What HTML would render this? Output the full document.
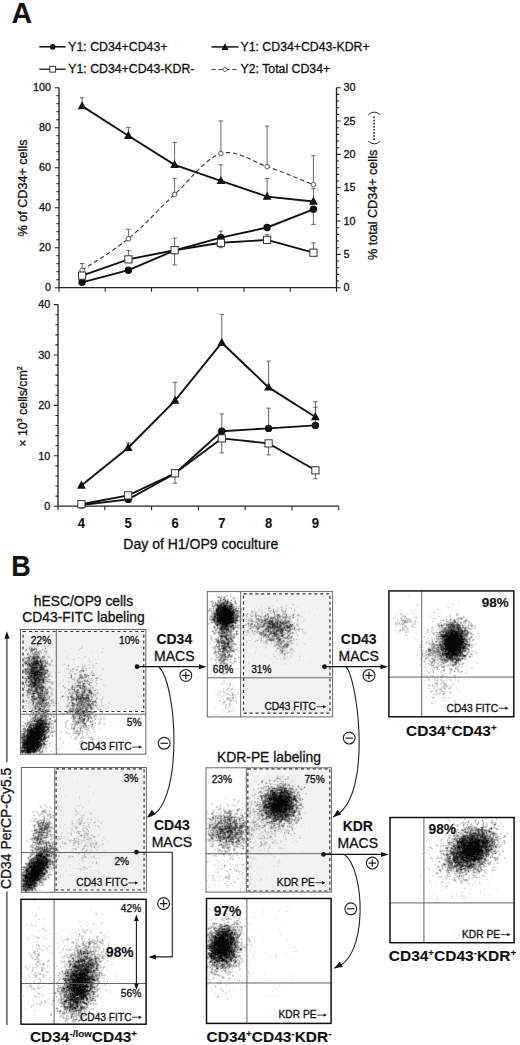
<!DOCTYPE html>
<html><head><meta charset="utf-8"><title>figure</title><style>
html,body{margin:0;padding:0;background:#fff;}
body{width:520px;height:1045px;overflow:hidden;}
svg{display:block;font-family:"Liberation Sans",sans-serif;}
text{stroke:#111;stroke-width:0.3px;}
text[font-weight="bold"]{stroke-width:0.1px;}
</style></head><body>
<svg width="520" height="1045" viewBox="0 0 520 1045">
<rect width="520" height="1045" fill="#fff"/>
<text transform="translate(11.4,22.8) scale(0.965,1)" font-size="29.50" font-weight="bold" fill="#111">A</text>
<line x1="39.30" y1="46.80" x2="65.60" y2="46.80" stroke="#111" stroke-width="1.50"/>
<circle cx="52.7" cy="46.8" r="2.9" fill="#111"/>
<text x="68.3" y="51.0" font-size="12.30" fill="#111">Y1: CD34+CD43+</text>
<line x1="39.30" y1="69.20" x2="65.60" y2="69.20" stroke="#111" stroke-width="1.30"/>
<rect x="49.8" y="66.3" width="5.8" height="5.8" fill="#fff" stroke="#333" stroke-width="1"/>
<text x="68.3" y="73.3" font-size="12.30" fill="#111">Y1: CD34+CD43-KDR-</text>
<line x1="211.50" y1="46.90" x2="238.50" y2="46.90" stroke="#111" stroke-width="1.50"/>
<path d="M225.0 43.3l3.6 6.6h-7.2z" fill="#111"/>
<text x="240.5" y="51.0" font-size="12.30" fill="#111">Y1: CD34+CD43-KDR+</text>
<line x1="211.50" y1="69.50" x2="238.50" y2="69.50" stroke="#444" stroke-width="1.10" stroke-dasharray="4.3,2.6"/>
<circle cx="225.0" cy="69.5" r="2" fill="#fff" stroke="#444" stroke-width="0.8"/>
<text x="240.5" y="73.3" font-size="12.30" fill="#111">Y2: Total CD34+</text>
<g stroke="#222" stroke-width="1.3" fill="none">
<path d="M59.0 87.7V287.7H336.5V87.7"/>
</g>
<path d="M54.8 287.70h4.2M56.4 279.70h2.6M56.4 271.70h2.6M56.4 263.70h2.6M56.4 255.70h2.6M54.8 247.70h4.2M56.4 239.70h2.6M56.4 231.70h2.6M56.4 223.70h2.6M56.4 215.70h2.6M54.8 207.70h4.2M56.4 199.70h2.6M56.4 191.70h2.6M56.4 183.70h2.6M56.4 175.70h2.6M54.8 167.70h4.2M56.4 159.70h2.6M56.4 151.70h2.6M56.4 143.70h2.6M56.4 135.70h2.6M54.8 127.70h4.2M56.4 119.70h2.6M56.4 111.70h2.6M56.4 103.70h2.6M56.4 95.70h2.6M54.8 87.70h4.2M336.5 287.70h4.2M336.5 281.03h2.6M336.5 274.37h2.6M336.5 267.70h2.6M336.5 261.03h2.6M336.5 254.37h4.2M336.5 247.70h2.6M336.5 241.03h2.6M336.5 234.37h2.6M336.5 227.70h2.6M336.5 221.03h4.2M336.5 214.37h2.6M336.5 207.70h2.6M336.5 201.03h2.6M336.5 194.37h2.6M336.5 187.70h4.2M336.5 181.03h2.6M336.5 174.37h2.6M336.5 167.70h2.6M336.5 161.03h2.6M336.5 154.37h4.2M336.5 147.70h2.6M336.5 141.03h2.6M336.5 134.37h2.6M336.5 127.70h2.6M336.5 121.03h4.2M336.5 114.37h2.6M336.5 107.70h2.6M336.5 101.03h2.6M336.5 94.37h2.6M336.5 87.70h4.2M59.00 287.7v4M105.25 287.7v4M151.50 287.7v4M197.75 287.7v4M244.00 287.7v4M290.25 287.7v4M336.50 287.7v4" stroke="#222" stroke-width="1.1" fill="none"/>
<text x="51.0" y="291.4" font-size="10.80" text-anchor="end" fill="#111">0</text>
<text x="51.0" y="251.4" font-size="10.80" text-anchor="end" fill="#111">20</text>
<text x="51.0" y="211.4" font-size="10.80" text-anchor="end" fill="#111">40</text>
<text x="51.0" y="171.4" font-size="10.80" text-anchor="end" fill="#111">60</text>
<text x="51.0" y="131.4" font-size="10.80" text-anchor="end" fill="#111">80</text>
<text x="51.0" y="91.4" font-size="10.80" text-anchor="end" fill="#111">100</text>
<text x="343.4" y="291.4" font-size="10.80" fill="#111">0</text>
<text x="343.4" y="258.1" font-size="10.80" fill="#111">5</text>
<text x="343.4" y="224.7" font-size="10.80" fill="#111">10</text>
<text x="343.4" y="191.4" font-size="10.80" fill="#111">15</text>
<text x="343.4" y="158.1" font-size="10.80" fill="#111">20</text>
<text x="343.4" y="124.7" font-size="10.80" fill="#111">25</text>
<text x="343.4" y="91.4" font-size="10.80" fill="#111">30</text>
<text transform="translate(26.8,188) rotate(-90)" font-size="12.6" text-anchor="middle" fill="#111">% of CD34+ cells</text>
<text transform="translate(377.4,260) rotate(-90)" font-size="12.6" fill="#111">% total CD34+ cells</text>
<path d="M368.3 141.2Q374.3 146.6 380.3 141.2M368.3 114.8Q374.3 109.4 380.3 114.8" stroke="#222" stroke-width="1" fill="none"/>
<line x1="374.10" y1="116.60" x2="374.10" y2="140.60" stroke="#222" stroke-width="1.60" stroke-dasharray="1.6,1.5"/>
<path d="M82.1 270.2V263.5M79.9 263.5h4.4" stroke="#666" stroke-width="1" fill="none"/>
<path d="M82.1 106.1V97.8M79.9 97.8h4.4" stroke="#666" stroke-width="1" fill="none"/>
<path d="M128.4 238.7V229.3M126.2 229.3h4.4" stroke="#666" stroke-width="1" fill="none"/>
<path d="M128.4 135.7V127.4M126.2 127.4h4.4" stroke="#666" stroke-width="1" fill="none"/>
<path d="M128.4 259.4V250.5M126.2 250.5h4.4" stroke="#666" stroke-width="1" fill="none"/>
<path d="M174.6 194.4V178.3M172.4 178.3h4.4" stroke="#666" stroke-width="1" fill="none"/>
<path d="M174.6 164.8V142.5M172.4 142.5h4.4" stroke="#666" stroke-width="1" fill="none"/>
<path d="M174.6 250.2V238.2M172.4 238.2h4.4" stroke="#666" stroke-width="1" fill="none"/>
<path d="M174.6 250.2V264.9M172.4 264.9h4.4" stroke="#666" stroke-width="1" fill="none"/>
<path d="M220.9 153.6V121.0M218.7 121.0h4.4" stroke="#666" stroke-width="1" fill="none"/>
<path d="M220.9 180.8V164.9M218.7 164.9h4.4" stroke="#666" stroke-width="1" fill="none"/>
<path d="M220.9 237.6V231.1M218.7 231.1h4.4" stroke="#666" stroke-width="1" fill="none"/>
<path d="M220.9 242.8V247.7M218.7 247.7h4.4" stroke="#666" stroke-width="1" fill="none"/>
<path d="M267.1 166.6V126.0M264.9 126.0h4.4" stroke="#666" stroke-width="1" fill="none"/>
<path d="M267.1 196.6V178.5M264.9 178.5h4.4" stroke="#666" stroke-width="1" fill="none"/>
<path d="M267.1 239.9V234.7M264.9 234.7h4.4" stroke="#666" stroke-width="1" fill="none"/>
<path d="M313.4 184.7V155.7M311.2 155.7h4.4" stroke="#666" stroke-width="1" fill="none"/>
<path d="M313.4 201.5V188.7M311.2 188.7h4.4" stroke="#666" stroke-width="1" fill="none"/>
<path d="M313.4 209.3V224.4M311.2 224.4h4.4" stroke="#666" stroke-width="1" fill="none"/>
<path d="M313.4 252.7V242.9M311.2 242.9h4.4" stroke="#666" stroke-width="1" fill="none"/>
<path d="M82.1 270.2C89.8 264.9 113.0 251.3 128.4 238.7C143.8 226.1 159.2 208.6 174.6 194.4C190.0 180.2 205.5 158.2 220.9 153.6C236.3 149.0 251.7 161.4 267.1 166.6C282.5 171.8 305.7 181.7 313.4 184.7" fill="none" stroke="#3a3a3a" stroke-width="1.15" stroke-dasharray="4.4,2.8"/>
<path d="M82.1 106.1L128.4 135.7L174.6 164.8L220.9 180.8L267.1 196.6L313.4 201.5" fill="none" stroke="#111" stroke-width="1.90"/>
<path d="M82.1 282.3L128.4 270.2L174.6 250.5L220.9 237.6L267.1 227.5L313.4 209.3" fill="none" stroke="#111" stroke-width="1.90"/>
<path d="M82.1 275.6L128.4 259.4L174.6 250.2L220.9 242.8L267.1 239.9L313.4 252.7" fill="none" stroke="#111" stroke-width="1.90"/>
<circle cx="82.1" cy="270.2" r="2.3" fill="#fff" stroke="#444" stroke-width="0.9"/>
<circle cx="128.4" cy="238.7" r="2.3" fill="#fff" stroke="#444" stroke-width="0.9"/>
<circle cx="174.6" cy="194.4" r="2.3" fill="#fff" stroke="#444" stroke-width="0.9"/>
<circle cx="220.9" cy="153.6" r="2.3" fill="#fff" stroke="#444" stroke-width="0.9"/>
<circle cx="267.1" cy="166.6" r="2.3" fill="#fff" stroke="#444" stroke-width="0.9"/>
<circle cx="313.4" cy="184.7" r="2.3" fill="#fff" stroke="#444" stroke-width="0.9"/>
<circle cx="82.1" cy="282.3" r="3.70" fill="#111"/>
<circle cx="128.4" cy="270.2" r="3.70" fill="#111"/>
<circle cx="174.6" cy="250.5" r="3.70" fill="#111"/>
<circle cx="220.9" cy="237.6" r="3.70" fill="#111"/>
<circle cx="267.1" cy="227.5" r="3.70" fill="#111"/>
<circle cx="313.4" cy="209.3" r="3.70" fill="#111"/>
<rect x="78.5" y="272.0" width="7.2" height="7.2" fill="#fff" stroke="#333" stroke-width="1"/>
<rect x="124.8" y="255.8" width="7.2" height="7.2" fill="#fff" stroke="#333" stroke-width="1"/>
<rect x="171.0" y="246.6" width="7.2" height="7.2" fill="#fff" stroke="#333" stroke-width="1"/>
<rect x="217.3" y="239.2" width="7.2" height="7.2" fill="#fff" stroke="#333" stroke-width="1"/>
<rect x="263.5" y="236.3" width="7.2" height="7.2" fill="#fff" stroke="#333" stroke-width="1"/>
<rect x="309.8" y="249.1" width="7.2" height="7.2" fill="#fff" stroke="#333" stroke-width="1"/>
<path d="M82.1 101.2l4.4 8.1h-8.8z" fill="#111"/>
<path d="M128.4 130.8l4.4 8.1h-8.8z" fill="#111"/>
<path d="M174.6 159.9l4.4 8.1h-8.8z" fill="#111"/>
<path d="M220.9 175.9l4.4 8.1h-8.8z" fill="#111"/>
<path d="M267.1 191.7l4.4 8.1h-8.8z" fill="#111"/>
<path d="M313.4 196.6l4.4 8.1h-8.8z" fill="#111"/>
<path d="M58.0 304.6V506.2H338.8" stroke="#222" stroke-width="1.3" fill="none"/>
<path d="M53.8 506.20h4.2M55.4 496.12h2.6M55.4 486.04h2.6M55.4 475.96h2.6M55.4 465.88h2.6M53.8 455.80h4.2M55.4 445.72h2.6M55.4 435.64h2.6M55.4 425.56h2.6M55.4 415.48h2.6M53.8 405.40h4.2M55.4 395.32h2.6M55.4 385.24h2.6M55.4 375.16h2.6M55.4 365.08h2.6M53.8 355.00h4.2M55.4 344.92h2.6M55.4 334.84h2.6M55.4 324.76h2.6M55.4 314.68h2.6M53.8 304.60h4.2M58.00 506.2v4M104.80 506.2v4M151.60 506.2v4M198.40 506.2v4M245.20 506.2v4M292.00 506.2v4M338.80 506.2v4" stroke="#222" stroke-width="1.1" fill="none"/>
<text x="50.3" y="509.9" font-size="10.80" text-anchor="end" fill="#111">0</text>
<text x="50.3" y="459.5" font-size="10.80" text-anchor="end" fill="#111">10</text>
<text x="50.3" y="409.1" font-size="10.80" text-anchor="end" fill="#111">20</text>
<text x="50.3" y="358.7" font-size="10.80" text-anchor="end" fill="#111">30</text>
<text x="50.3" y="308.3" font-size="10.80" text-anchor="end" fill="#111">40</text>
<text transform="translate(81.4,527.9) scale(0.930,1)" font-size="14.00" font-weight="bold" text-anchor="middle" fill="#111">4</text>
<text transform="translate(128.2,527.9) scale(0.930,1)" font-size="14.00" font-weight="bold" text-anchor="middle" fill="#111">5</text>
<text transform="translate(175.0,527.9) scale(0.930,1)" font-size="14.00" font-weight="bold" text-anchor="middle" fill="#111">6</text>
<text transform="translate(221.8,527.9) scale(0.930,1)" font-size="14.00" font-weight="bold" text-anchor="middle" fill="#111">7</text>
<text transform="translate(268.6,527.9) scale(0.930,1)" font-size="14.00" font-weight="bold" text-anchor="middle" fill="#111">8</text>
<text transform="translate(315.4,527.9) scale(0.930,1)" font-size="14.00" font-weight="bold" text-anchor="middle" fill="#111">9</text>
<text x="200.8" y="549.2" font-size="14.00" text-anchor="middle" fill="#111">Day of H1/OP9 coculture</text>
<text transform="translate(27,406.5) rotate(-90)" font-size="12.4" text-anchor="middle" fill="#111">× 10<tspan font-size="7" dy="-5">3</tspan><tspan dy="5"> cells/cm</tspan><tspan font-size="7" dy="-5">2</tspan></text>
<path d="M128.2 447.7V442.9M126.0 442.9h4.4" stroke="#666" stroke-width="1" fill="none"/>
<path d="M175.0 400.6V382.3M172.8 382.3h4.4" stroke="#666" stroke-width="1" fill="none"/>
<path d="M175.0 473.3V483.2M172.8 483.2h4.4" stroke="#666" stroke-width="1" fill="none"/>
<path d="M221.8 342.7V314.4M219.6 314.4h4.4" stroke="#666" stroke-width="1" fill="none"/>
<path d="M221.8 431.2V413.9M219.6 413.9h4.4" stroke="#666" stroke-width="1" fill="none"/>
<path d="M221.8 438.4V452.9M219.6 452.9h4.4" stroke="#666" stroke-width="1" fill="none"/>
<path d="M268.6 387.4V361.1M266.4 361.1h4.4" stroke="#666" stroke-width="1" fill="none"/>
<path d="M268.6 428.4V408.2M266.4 408.2h4.4" stroke="#666" stroke-width="1" fill="none"/>
<path d="M268.6 443.4V454.9M266.4 454.9h4.4" stroke="#666" stroke-width="1" fill="none"/>
<path d="M315.4 417.0V401.7M313.2 401.7h4.4" stroke="#666" stroke-width="1" fill="none"/>
<path d="M315.4 425.4V407.3M313.2 407.3h4.4" stroke="#666" stroke-width="1" fill="none"/>
<path d="M315.4 470.3V478.8M313.2 478.8h4.4" stroke="#666" stroke-width="1" fill="none"/>
<path d="M81.4 485.5L128.2 447.7L175.0 400.6L221.8 342.7L268.6 387.4L315.4 417.0" fill="none" stroke="#111" stroke-width="1.90"/>
<path d="M81.4 505.0L128.2 499.4L175.0 473.5L221.8 431.2L268.6 428.4L315.4 425.4" fill="none" stroke="#111" stroke-width="1.90"/>
<path d="M81.4 504.2L128.2 495.4L175.0 473.3L221.8 438.4L268.6 443.4L315.4 470.3" fill="none" stroke="#111" stroke-width="1.90"/>
<circle cx="81.4" cy="505.0" r="3.70" fill="#111"/>
<circle cx="128.2" cy="499.4" r="3.70" fill="#111"/>
<circle cx="175.0" cy="473.5" r="3.70" fill="#111"/>
<circle cx="221.8" cy="431.2" r="3.70" fill="#111"/>
<circle cx="268.6" cy="428.4" r="3.70" fill="#111"/>
<circle cx="315.4" cy="425.4" r="3.70" fill="#111"/>
<rect x="77.8" y="500.6" width="7.2" height="7.2" fill="#fff" stroke="#333" stroke-width="1"/>
<rect x="124.6" y="491.8" width="7.2" height="7.2" fill="#fff" stroke="#333" stroke-width="1"/>
<rect x="171.4" y="469.7" width="7.2" height="7.2" fill="#fff" stroke="#333" stroke-width="1"/>
<rect x="218.2" y="434.8" width="7.2" height="7.2" fill="#fff" stroke="#333" stroke-width="1"/>
<rect x="265.0" y="439.8" width="7.2" height="7.2" fill="#fff" stroke="#333" stroke-width="1"/>
<rect x="311.8" y="466.7" width="7.2" height="7.2" fill="#fff" stroke="#333" stroke-width="1"/>
<path d="M81.4 480.6l4.4 8.1h-8.8z" fill="#111"/>
<path d="M128.2 442.8l4.4 8.1h-8.8z" fill="#111"/>
<path d="M175.0 395.7l4.4 8.1h-8.8z" fill="#111"/>
<path d="M221.8 337.8l4.4 8.1h-8.8z" fill="#111"/>
<path d="M268.6 382.5l4.4 8.1h-8.8z" fill="#111"/>
<path d="M315.4 412.1l4.4 8.1h-8.8z" fill="#111"/>
<text transform="translate(11.2,575.9) scale(0.900,1)" font-size="30.00" font-weight="bold" fill="#111">B</text>
<text x="83.5" y="605.8" font-size="13.85" text-anchor="middle" fill="#111">hESC/OP9 cells</text>
<text x="83.5" y="621.9" font-size="13.85" text-anchor="middle" fill="#111">CD43-FITC labeling</text>
<text x="269.0" y="761.5" font-size="13.85" text-anchor="middle" fill="#111">KDR-PE labeling</text>
<rect x="23.0" y="631.5" width="120.8" height="80.0" fill="#f1f1f1"/>
<path transform="translate(0,.5)" d="M0 0m32 631h2m-2 1h1m0 7h1m0 1h1m-4 1h2m6 0h1m1 0h1m1 0h1m-13 1h2m6 0h1m1 0h1m2 0h1m-9 1h2m-7 1h2m1 0h3m2 0h1m-9 1h2m1 0h3m7 0h1m-16 1h3m2 0h2m1 0h2m2 0h2m2 0h1m35 0h2m-51 1h2m1 0h2m8 0h1m35 0h2m-55 1h1m13 0h1m1 0h1m1 0h1m32 0h2m21 0h2m-79 1h1m11 0h1m5 0h2m1 0h1m31 0h2m-51 1h1m7 0h2m2 0h1m1 0h4m18 0h1m13 0h1m-55 1h1m7 0h1m7 0h1m5 0h1m17 0h1m24 0h1m10 0h2m-75 1h2m14 0h2m1 0h1m53 0h2m-81 1h1m3 0h1m2 0h3m8 0h2m1 0h4m21 0h1m8 0h2m13 0h2m-71 1h1m2 0h1m3 0h1m9 0h1m3 0h1m1 0h1m1 0h1m19 0h1m-43 1h1m4 0h2m7 0h1m1 0h2m1 0h1m2 0h1m-23 1h2m12 0h2m3 0h1m1 0h1m1 0h2m33 0h2m-63 1h1m21 0h1m1 0h1m2 0h1m6 0h1m8 0h2m10 0h2m4 0h2m-63 1h1m20 0h1m2 0h2m8 0h1m9 0h2m19 0h2m-65 1h2m18 0h3m3 0h2m21 0h1m6 0h2m5 0h2m-66 1h1m21 0h1m26 0h1m15 0h1m-67 1h1m28 0h1m37 0h1m-69 1h1m25 0h1m1 0h1m1 0h1m43 0h1m-75 1h1m27 0h2m12 0h1m16 0h1m13 0h1m2 0h2m-79 1h1m1 0h2m22 0h1m3 0h2m10 0h1m4 0h1m12 0h1m2 0h2m2 0h2m2 0h2m-47 1h2m2 0h2m2 0h2m4 0h2m4 0h1m14 0h2m1 0h1m7 0h2m-69 1h1m20 0h4m4 0h2m11 0h2m6 0h2m5 0h2m8 0h1m-69 1h2m19 0h2m20 0h1m8 0h2m3 0h1m1 0h2m3 0h2m-68 1h1m21 0h3m18 0h4m2 0h1m1 0h1m6 0h1m3 0h1m3 0h2m2 0h1m8 0h2m-82 1h1m44 0h3m1 0h1m1 0h2m5 0h2m20 0h2m-81 1h1m28 0h2m17 0h2m2 0h1m1 0h1m1 0h1m5 0h1m5 0h1m10 0h1m-81 1h1m26 0h4m1 0h1m4 0h1m11 0h1m1 0h1m10 0h1m1 0h1m4 0h2m-45 1h4m3 0h1m2 0h1m1 0h1m7 0h5m8 0h1m1 0h1m6 0h1m1 0h1m-71 1h2m24 0h1m1 0h1m4 0h1m14 0h2m1 0h1m1 0h1m3 0h3m2 0h3m3 0h1m1 0h1m1 0h1m2 0h1m-52 1h1m3 0h1m4 0h1m14 0h1m2 0h2m1 0h1m5 0h2m4 0h2m1 0h2m1 0h1m5 0h1m-75 1h1m19 0h2m2 0h2m3 0h1m16 0h1m2 0h1m2 0h1m4 0h1m7 0h1m3 0h1m5 0h1m3 0h1m-56 1h1m1 0h1m2 0h2m13 0h1m1 0h1m1 0h2m2 0h1m4 0h1m5 0h1m2 0h3m-71 1h1m23 0h1m6 0h2m10 0h3m2 0h1m1 0h2m2 0h1m8 0h1m7 0h1m1 0h2m-52 1h2m18 0h4m1 0h2m1 0h1m1 0h1m6 0h1m1 0h5m1 0h1m5 0h4m5 0h1m-84 1h1m38 0h1m7 0h1m1 0h1m1 0h2m3 0h7m1 0h1m1 0h4m2 0h1m3 0h1m1 0h1m-81 1h3m23 0h3m12 0h1m6 0h1m2 0h1m1 0h1m3 0h4m5 0h4m1 0h1m1 0h1m-75 1h1m2 0h1m25 0h2m1 0h1m9 0h1m4 0h3m5 0h1m6 0h1m6 0h2m3 0h2m-74 1h2m20 0h2m6 0h1m15 0h1m6 0h1m7 0h2m2 0h1m3 0h1m1 0h3m-73 1h1m2 0h1m19 0h1m1 0h2m2 0h1m5 0h2m13 0h1m1 0h2m3 0h1m8 0h3m4 0h1m-76 1h4m18 0h1m1 0h1m4 0h1m1 0h1m16 0h1m1 0h1m1 0h1m1 0h2m3 0h1m4 0h2m2 0h2m4 0h1m6 0h2m-82 1h1m1 0h1m18 0h1m4 0h1m12 0h1m8 0h1m3 0h1m10 0h3m3 0h1m2 0h2m6 0h2m-82 1h1m1 0h1m20 0h1m1 0h1m1 0h1m11 0h1m1 0h1m9 0h1m12 0h1m1 0h1m1 0h3m1 0h2m8 0h2m-86 1h3m1 0h4m17 0h2m3 0h1m11 0h1m6 0h1m16 0h3m1 0h1m-71 1h2m1 0h1m2 0h1m24 0h2m10 0h2m1 0h4m4 0h4m12 0h2m-71 1h1m1 0h1m1 0h1m21 0h1m2 0h1m1 0h1m13 0h1m7 0h1m3 0h2m10 0h1m1 0h5m-73 1h1m22 0h1m18 0h1m1 0h1m1 0h2m6 0h2m11 0h2m2 0h2m-74 1h2m23 0h1m1 0h2m15 0h5m6 0h2m5 0h1m5 0h4m1 0h1m-75 1h4m22 0h2m1 0h1m8 0h1m2 0h2m2 0h1m2 0h1m8 0h1m5 0h2m8 0h1m1 0h1m-76 1h2m1 0h1m23 0h1m1 0h1m11 0h2m28 0h3m1 0h1m-64 1h1m12 0h1m1 0h1m1 0h2m14 0h2m3 0h2m21 0h1m2 0h2m-73 1h3m4 0h2m12 0h5m3 0h1m5 0h1m1 0h3m5 0h2m17 0h1m1 0h1m1 0h1m-71 1h1m1 0h3m20 0h1m3 0h1m5 0h1m3 0h2m2 0h1m4 0h2m17 0h2m1 0h1m5 0h2m-74 1h1m19 0h1m4 0h3m2 0h3m3 0h1m2 0h1m20 0h1m2 0h1m1 0h1m1 0h1m4 0h2m-82 1h2m3 0h1m1 0h2m19 0h1m1 0h1m2 0h2m3 0h2m7 0h2m19 0h1m1 0h1m5 0h6m-75 1h1m20 0h2m1 0h4m12 0h1m24 0h2m1 0h1m1 0h4m-79 1h2m1 0h1m1 0h2m16 0h3m4 0h1m11 0h1m1 0h1m23 0h2m2 0h1m5 0h1m-78 1h1m1 0h2m1 0h1m16 0h1m1 0h2m2 0h1m1 0h1m11 0h1m1 0h2m2 0h1m1 0h1m25 0h1m-75 1h3m1 0h1m17 0h3m2 0h3m11 0h1m5 0h2m21 0h1m2 0h1m1 0h1m5 0h2m-83 1h1m2 0h2m18 0h1m1 0h3m1 0h1m1 0h2m7 0h1m2 0h1m23 0h2m1 0h1m3 0h1m6 0h2m-82 1h4m2 0h1m14 0h3m2 0h1m12 0h1m1 0h1m26 0h2m4 0h2m-79 1h2m2 0h3m20 0h1m13 0h1m2 0h2m26 0h1m3 0h3m1 0h1m-81 1h2m2 0h4m17 0h1m1 0h3m5 0h1m4 0h1m3 0h2m4 0h1m16 0h4m1 0h1m4 0h4m1 0h2m-81 1h2m1 0h1m14 0h1m2 0h1m9 0h2m4 0h5m1 0h1m3 0h1m17 0h3m1 0h1m9 0h2m-85 1h2m3 0h1m1 0h1m1 0h1m11 0h3m1 0h1m9 0h1m34 0h1m1 0h3m1 0h1m-77 1h2m4 0h2m26 0h2m5 0h1m2 0h1m20 0h1m7 0h1m1 0h1m1 0h1m-72 1h1m4 0h2m13 0h2m2 0h1m3 0h2m5 0h1m22 0h3m1 0h2m4 0h1m1 0h2m-76 1h1m3 0h1m2 0h3m11 0h5m3 0h2m9 0h2m26 0h2m-66 1h1m17 0h1m1 0h4m6 0h2m9 0h1m23 0h1m5 0h1m-71 1h1m2 0h1m14 0h1m1 0h4m5 0h3m3 0h1m1 0h2m1 0h3m19 0h1m7 0h2m-73 1h1m3 0h1m14 0h4m10 0h1m27 0h2m2 0h2m2 0h2m-72 1h1m1 0h1m7 0h1m9 0h2m1 0h3m16 0h1m19 0h1m1 0h1m5 0h2m-70 1h3m4 0h1m12 0h2m18 0h1m19 0h1m1 0h1m1 0h2m2 0h2m4 0h1m-76 1h2m17 0h2m1 0h1m1 0h1m15 0h2m4 0h2m5 0h1m8 0h2m1 0h2m6 0h3m-76 1h1m16 0h2m2 0h1m1 0h2m15 0h3m3 0h1m9 0h1m5 0h1m1 0h1m1 0h3m1 0h2m2 0h1m-78 1h1m1 0h1m21 0h1m2 0h2m16 0h1m2 0h3m8 0h1m2 0h1m1 0h2m5 0h4m1 0h2m-77 1h2m18 0h4m1 0h1m2 0h1m9 0h1m1 0h1m3 0h1m3 0h2m7 0h1m3 0h3m1 0h2m3 0h2m3 0h2m-83 1h2m3 0h2m21 0h4m2 0h1m2 0h2m4 0h3m17 0h1m3 0h1m3 0h1m5 0h1m-78 1h5m25 0h4m6 0h2m9 0h2m11 0h1m2 0h1m2 0h2m1 0h1m-72 1h1m29 0h1m10 0h2m5 0h2m12 0h1m3 0h2m1 0h2m3 0h3m2 0h2m-82 1h1m1 0h1m26 0h2m12 0h1m3 0h1m7 0h5m3 0h1m3 0h1m2 0h1m5 0h1m3 0h2m-84 1h1m2 0h2m24 0h2m13 0h1m5 0h3m2 0h2m1 0h3m5 0h1m1 0h3m-71 1h5m25 0h1m1 0h1m11 0h2m5 0h2m1 0h1m3 0h2m6 0h4m2 0h1m-71 1h1m1 0h2m25 0h1m12 0h3m4 0h1m2 0h1m1 0h1m1 0h1m2 0h1m5 0h2m1 0h4m-73 1h1m3 0h1m23 0h1m1 0h2m13 0h2m6 0h1m1 0h3m2 0h6m1 0h1m2 0h3m3 0h2m-49 1h1m20 0h1m2 0h3m1 0h1m1 0h1m6 0h1m4 0h1m-73 1h2m27 0h6m16 0h4m2 0h2m1 0h2m3 0h2m-68 1h1m29 0h1m9 0h2m11 0h1m5 0h2m2 0h1m2 0h2m5 0h1m-73 1h2m26 0h1m3 0h3m4 0h2m5 0h1m5 0h1m4 0h1m2 0h3m3 0h1m2 0h1m-43 1h2m1 0h2m13 0h5m3 0h1m5 0h1m1 0h1m4 0h1m2 0h1m-44 1h3m1 0h2m16 0h1m6 0h2m2 0h2m4 0h1m-67 1h1m26 0h1m3 0h1m17 0h1m7 0h1m1 0h1m2 0h1m-63 1h1m30 0h1m1 0h1m6 0h1m10 0h1m4 0h3m2 0h3m5 0h1m1 0h1m-72 1h1m28 0h1m10 0h1m9 0h1m4 0h1m1 0h1m2 0h2m6 0h1m3 0h1m11 0h1m-85 1h1m26 0h2m9 0h3m12 0h2m4 0h1m1 0h2m6 0h3m1 0h1m10 0h1m2 0h1m-62 1h2m11 0h1m13 0h4m13 0h2m1 0h1m13 0h1m-62 1h1m1 0h1m34 0h1m7 0h3m-74 1h1m48 0h1m9 0h1m1 0h2m9 0h2m9 0h2m-85 1h1m24 0h2m2 0h2m11 0h2m15 0h2m11 0h2m6 0h1m3 0h1m-59 1h1m3 0h1m11 0h2m5 0h1m10 0h2m22 0h2m-85 1h1m25 0h1m7 0h2m12 0h1m9 0h2m7 0h1m17 0h2m-87 1h1m24 0h2m2 0h1m38 0h1m-45 1h2m2 0h1m11 0h1m26 0h3m-71 1h1m21 0h1m1 0h2m1 0h1m13 0h1m-19 1h2m1 0h1m5 0h1m6 0h1m13 0h1m-54 1h1m20 0h1m1 0h1m1 0h1m11 0h3m19 0h2m-40 1h1m1 0h1m6 0h2m37 0h2m-71 1h1m22 0h1m6 0h1m-31 1h1m16 0h2m-18 1h1m1 0h2m7 0h1m2 0h3m1 0h3m-14 1h3" stroke="rgb(224,224,224)" stroke-width="1" fill="none"/>
<path transform="translate(0,.5)" d="M0 0m34 639h1m5 2h1m3 0h1m-5 1h1m-3 1h1m-2 2h2m-3 1h1m7 0h1m-16 1h3m2 0h1m-5 1h1m2 0h1m2 0h1m44 0h1m-56 1h1m2 0h1m5 0h1m6 0h1m2 0h1m-21 1h2m7 0h2m3 0h2m-11 1h1m3 0h1m2 0h4m3 0h2m-16 1h5m4 0h3m4 0h1m-20 1h2m-7 1h1m5 0h2m1 0h2m6 0h1m5 0h1m-19 1h4m7 0h2m4 0h1m-17 1h1m10 0h1m8 0h1m-25 1h2m5 0h1m8 0h2m6 0h2m-26 1h1m5 0h1m10 0h1m-18 1h1m2 0h1m2 0h1m7 0h2m2 0h3m28 0h1m-49 1h2m20 0h1m3 0h2m-29 1h1m21 0h2m3 0h1m37 0h1m-67 1h1m19 0h2m6 0h1m-29 1h1m20 0h1m3 0h2m46 0h1m-75 1h1m3 0h1m16 0h2m1 0h1m1 0h1m1 0h1m13 0h1m-40 1h2m19 0h1m2 0h2m17 0h1m15 0h1m7 0h1m-15 1h1m3 0h1m2 0h1m-59 1h1m17 0h1m37 0h1m9 0h1m-70 1h1m48 0h1m8 0h2m2 0h1m-64 1h1m21 0h1m2 0h1m17 0h1m5 0h1m3 0h2m4 0h2m2 0h1m-65 1h1m1 0h1m23 0h1m21 0h1m5 0h1m3 0h1m3 0h1m1 0h1m5 0h1m-70 1h1m46 0h1m1 0h1m6 0h4m-61 1h2m35 0h1m19 0h2m10 0h1m-68 1h1m22 0h1m1 0h1m18 0h2m4 0h1m16 0h1m1 0h1m-69 1h1m21 0h3m21 0h1m3 0h1m3 0h1m1 0h1m4 0h2m5 0h1m-67 1h1m17 0h1m3 0h1m20 0h1m8 0h1m2 0h1m6 0h1m4 0h1m5 0h1m-75 1h1m20 0h1m1 0h1m1 0h1m27 0h1m2 0h1m1 0h2m1 0h2m-64 1h2m43 0h1m13 0h1m1 0h1m1 0h1m7 0h1m-52 1h2m24 0h1m2 0h1m3 0h1m1 0h1m2 0h1m1 0h1m5 0h1m3 0h1m1 0h1m-73 1h1m1 0h1m18 0h5m21 0h1m1 0h1m2 0h3m7 0h1m1 0h1m11 0h1m-77 1h1m1 0h2m16 0h3m26 0h1m1 0h1m1 0h1m4 0h1m2 0h1m5 0h1m3 0h1m-75 1h2m3 0h1m17 0h1m2 0h2m2 0h1m29 0h1m6 0h1m-69 1h2m3 0h2m19 0h5m16 0h1m12 0h3m2 0h2m1 0h1m1 0h1m-71 1h3m1 0h2m1 0h2m16 0h1m4 0h2m22 0h1m3 0h2m4 0h4m7 0h1m-70 1h1m15 0h1m1 0h1m6 0h1m22 0h1m2 0h3m4 0h1m-60 1h1m18 0h2m16 0h1m9 0h1m2 0h1m4 0h1m2 0h2m3 0h3m-68 1h1m1 0h2m17 0h1m3 0h1m13 0h1m7 0h1m1 0h1m1 0h1m10 0h1m3 0h1m-62 1h1m18 0h2m14 0h2m7 0h1m1 0h4m7 0h1m3 0h1m1 0h2m-71 1h1m9 0h1m12 0h6m21 0h1m5 0h1m7 0h4m2 0h1m-71 1h1m3 0h1m5 0h1m10 0h1m7 0h1m16 0h3m4 0h1m4 0h2m4 0h2m-45 1h1m23 0h1m1 0h1m2 0h1m1 0h1m5 0h2m3 0h1m4 0h1m-66 1h1m4 0h1m16 0h1m24 0h1m13 0h1m-57 1h1m11 0h1m4 0h1m2 0h1m8 0h1m9 0h1m1 0h3m6 0h1m10 0h2m3 0h1m-71 1h1m20 0h1m2 0h1m16 0h4m1 0h3m2 0h3m4 0h4m4 0h1m3 0h1m-72 1h3m1 0h1m5 0h1m10 0h1m3 0h1m18 0h3m2 0h1m8 0h2m3 0h2m1 0h3m-69 1h1m4 0h1m15 0h2m13 0h1m7 0h1m4 0h1m14 0h2m1 0h1m1 0h1m-69 1h1m7 0h2m8 0h4m1 0h1m12 0h1m4 0h1m4 0h1m10 0h2m3 0h2m1 0h1m2 0h1m-69 1h3m16 0h3m18 0h1m6 0h2m13 0h1m6 0h1m-69 1h1m2 0h1m14 0h3m18 0h1m23 0h1m4 0h2m-68 1h1m7 0h1m9 0h2m2 0h1m14 0h2m1 0h1m19 0h1m1 0h1m3 0h1m-71 1h1m8 0h2m13 0h1m1 0h2m13 0h1m2 0h1m3 0h1m16 0h1m2 0h1m6 0h1m-78 1h1m1 0h1m2 0h1m1 0h1m2 0h3m8 0h2m1 0h1m2 0h2m3 0h1m20 0h1m6 0h1m6 0h1m4 0h1m-67 1h1m1 0h1m2 0h1m16 0h2m16 0h1m16 0h1m2 0h2m4 0h1m4 0h1m-74 1h2m4 0h2m13 0h1m1 0h1m3 0h1m12 0h2m1 0h1m3 0h2m13 0h1m5 0h1m-49 1h1m19 0h1m2 0h1m22 0h2m-64 1h2m4 0h1m9 0h1m1 0h1m2 0h2m12 0h2m6 0h1m18 0h1m1 0h1m-69 1h1m4 0h1m12 0h3m17 0h1m1 0h1m2 0h1m2 0h1m21 0h1m4 0h1m-72 1h1m1 0h2m7 0h1m5 0h2m21 0h1m1 0h3m13 0h1m3 0h1m3 0h1m-67 1h1m1 0h1m4 0h1m4 0h1m5 0h1m20 0h1m4 0h2m8 0h1m4 0h1m3 0h1m-61 1h2m1 0h1m4 0h1m3 0h1m1 0h1m1 0h1m21 0h1m2 0h1m8 0h2m3 0h1m1 0h1m1 0h2m4 0h1m1 0h1m-68 1h2m2 0h1m11 0h1m18 0h1m22 0h1m-60 1h1m3 0h2m1 0h5m24 0h1m5 0h1m13 0h2m2 0h2m-68 1h1m4 0h1m2 0h2m1 0h1m2 0h2m5 0h1m18 0h1m1 0h1m1 0h1m2 0h2m13 0h2m4 0h1m7 0h1m-71 1h1m2 0h1m1 0h1m2 0h2m8 0h1m12 0h2m2 0h1m2 0h1m3 0h1m10 0h3m1 0h2m1 0h1m-62 1h3m4 0h3m1 0h1m2 0h4m4 0h2m9 0h1m7 0h4m6 0h1m4 0h1m-58 1h1m1 0h3m3 0h1m8 0h2m2 0h1m23 0h4m11 0h1m3 0h3m-68 1h2m6 0h1m1 0h1m8 0h1m4 0h2m20 0h4m3 0h1m7 0h1m3 0h1m-59 1h1m10 0h2m4 0h1m18 0h1m5 0h1m5 0h4m6 0h1m-64 1h1m14 0h1m28 0h1m1 0h1m3 0h1m5 0h1m1 0h2m4 0h1m-66 1h2m16 0h1m36 0h1m8 0h2m-69 1h1m2 0h2m20 0h1m1 0h1m12 0h1m5 0h3m2 0h1m7 0h1m1 0h1m3 0h1m-46 1h3m22 0h1m1 0h1m4 0h1m6 0h3m2 0h2m-60 1h2m12 0h1m3 0h1m13 0h2m8 0h1m4 0h1m4 0h1m5 0h1m7 0h2m-75 1h1m23 0h4m20 0h1m4 0h4m9 0h1m2 0h1m-70 1h1m1 0h1m21 0h2m19 0h5m7 0h1m7 0h1m6 0h1m-77 1h2m3 0h2m20 0h1m16 0h1m7 0h1m7 0h1m1 0h1m3 0h1m3 0h1m-66 1h1m22 0h1m20 0h1m2 0h1m6 0h2m1 0h2m5 0h2m-69 1h1m2 0h1m22 0h2m1 0h1m17 0h1m1 0h1m4 0h1m1 0h2m1 0h5m-39 1h1m1 0h1m19 0h2m8 0h1m6 0h1m-67 1h1m26 0h1m23 0h2m10 0h3m4 0h1m-70 1h1m52 0h2m10 0h1m-67 1h1m28 0h5m18 0h3m1 0h1m2 0h2m11 0h1m-72 1h1m24 0h1m1 0h1m15 0h1m7 0h4m1 0h2m5 0h1m-66 1h1m25 0h1m2 0h1m22 0h1m1 0h3m-57 1h1m57 0h1m2 0h1m4 0h1m-42 1h1m2 0h1m2 0h1m25 0h1m-32 1h1m1 0h1m2 0h1m22 0h1m-5 1h1m4 0h1m5 0h2m5 0h3m-17 1h2m3 0h1m11 0h1m-72 1h1m-1 1h1m25 0h1m34 0h1m-36 1h1m32 0h1m-60 2h1m23 0h1m3 0h1m29 0h1m-34 1h1m34 0h1m-37 1h1m42 0h1m-45 1h1m5 0h1m-5 1h1m-5 1h1m2 0h1m-4 1h1m-23 1h1m19 0h1m-1 1h1m10 0h1m-10 1h1m-21 1h1m8 0h1m1 0h2" stroke="rgb(191,191,191)" stroke-width="1" fill="none"/>
<path transform="translate(0,.5)" d="M0 0m37 644h2m-10 4h1m2 0h1m2 0h1m9 0h1m-16 1h1m-1 1h1m2 0h1m2 0h1m-5 1h1m2 0h2m9 0h1m-11 1h3m-7 1h8m-7 1h2m2 0h2m-6 1h1m1 0h2m-8 1h1m1 0h2m10 0h2m-19 1h1m3 0h1m11 0h1m1 0h1m-20 1h3m3 0h1m8 0h1m1 0h2m-17 2h1m4 0h1m5 0h2m2 0h4m-20 1h2m2 0h2m12 0h1m-21 1h1m4 0h2m11 0h1m3 0h2m-24 1h1m2 0h1m15 0h1m3 0h1m-23 1h1m19 0h1m3 0h1m-23 1h1m15 0h1m-17 1h2m17 0h1m-19 1h2m14 0h1m-20 1h2m-3 1h1m21 0h2m-20 1h1m52 0h2m-59 1h1m21 0h1m1 0h1m-25 1h2m21 0h1m-21 1h1m-1 1h2m16 0h1m34 0h1m4 0h1m-58 1h1m19 0h1m22 0h1m8 0h2m2 0h5m4 0h1m-51 1h1m1 0h2m24 0h1m-45 1h1m19 0h1m31 0h1m3 0h1m1 0h1m-62 1h1m54 0h1m1 0h1m14 0h1m-69 1h1m16 0h1m31 1h1m7 0h1m1 0h1m-63 1h2m19 0h2m29 0h5m2 0h5m-37 1h1m24 0h2m11 0h1m-49 1h2m1 0h1m32 0h1m3 0h1m6 0h1m-64 1h1m1 0h1m13 0h1m39 0h1m1 0h1m3 0h1m-65 1h1m2 0h1m15 0h1m28 0h1m7 0h1m-51 1h1m13 0h1m31 0h3m2 0h1m3 0h1m-62 1h1m5 0h1m14 0h1m4 0h1m20 0h1m2 0h1m6 0h3m1 0h1m-58 1h1m1 0h1m1 0h1m1 0h1m9 0h1m26 0h2m1 0h1m10 0h2m-55 1h1m1 0h1m3 0h1m4 0h1m1 0h1m22 0h1m4 0h1m9 0h1m2 0h1m2 0h2m-65 1h1m11 0h2m5 0h3m28 0h1m6 0h1m1 0h1m1 0h1m6 0h2m-67 1h2m1 0h1m5 0h2m3 0h5m26 0h2m2 0h1m2 0h1m3 0h1m2 0h1m2 0h1m-60 1h1m1 0h1m34 0h1m5 0h1m3 0h1m5 0h1m2 0h1m-61 1h4m4 0h1m7 0h1m27 0h1m8 0h1m2 0h1m4 0h1m2 0h1m-64 1h1m1 0h2m1 0h1m8 0h1m1 0h2m30 0h3m3 0h1m4 0h1m2 0h1m3 0h1m-69 1h1m4 0h1m1 0h1m2 0h1m7 0h2m24 0h2m6 0h2m4 0h1m3 0h1m-53 1h1m11 0h1m17 0h1m4 0h1m6 0h1m3 0h1m7 0h1m-57 1h2m12 0h1m18 0h1m1 0h1m2 0h1m17 0h2m-55 1h1m6 0h1m3 0h1m18 0h1m2 0h1m3 0h1m13 0h1m-53 1h1m9 0h1m23 0h1m2 0h2m11 0h1m1 0h1m-59 1h1m2 0h1m2 0h2m7 0h1m4 0h1m20 0h2m1 0h1m1 0h2m16 0h1m-59 1h1m6 0h1m26 0h2m3 0h1m1 0h1m-45 1h1m1 0h1m7 0h2m1 0h2m20 0h1m1 0h1m1 0h1m2 0h2m8 0h1m1 0h2m3 0h1m1 0h1m-64 1h1m11 0h1m2 0h1m26 0h1m8 0h1m1 0h1m7 0h1m-62 1h2m1 0h2m5 0h3m2 0h1m27 0h2m2 0h1m4 0h3m4 0h3m-60 1h1m1 0h1m2 0h2m1 0h1m4 0h1m23 0h1m2 0h1m3 0h1m6 0h2m4 0h3m-58 1h1m2 0h2m8 0h1m26 0h3m1 0h2m3 0h1m1 0h3m1 0h1m-58 1h1m1 0h2m2 0h1m1 0h2m1 0h1m30 0h3m2 0h1m1 0h2m4 0h1m-56 1h1m1 0h1m1 0h1m2 0h1m1 0h1m26 0h2m6 0h1m9 0h1m1 0h1m1 0h1m-61 1h1m2 0h1m1 0h1m6 0h1m1 0h1m1 0h1m20 0h1m2 0h1m9 0h1m8 0h1m-61 1h1m9 0h1m1 0h2m2 0h2m21 0h3m1 0h1m1 0h1m-46 1h1m6 0h1m5 0h1m1 0h1m23 0h4m1 0h2m2 0h2m-49 1h1m3 0h1m5 0h1m3 0h1m22 0h1m2 0h1m5 0h2m1 0h1m4 0h1m3 0h1m1 0h2m-61 1h1m2 0h1m1 0h1m3 0h1m2 0h2m1 0h1m39 0h1m2 0h1m-57 1h3m5 0h2m31 0h1m4 0h1m2 0h1m1 0h1m1 0h1m1 0h1m-54 1h1m34 0h1m1 0h1m7 0h1m3 0h1m1 0h2m-54 1h1m10 0h1m24 0h1m7 0h2m1 0h1m1 0h2m1 0h2m-58 1h2m9 0h2m28 0h3m4 0h1m1 0h1m6 0h3m-60 1h1m1 0h1m1 0h1m6 0h2m4 0h1m23 0h1m4 0h1m6 0h1m5 0h1m-60 1h2m9 0h1m3 0h1m1 0h1m24 0h1m3 0h4m5 0h1m-56 1h1m14 0h1m7 0h1m23 0h3m5 0h1m-59 1h2m1 0h1m22 0h1m17 0h1m1 0h2m3 0h2m2 0h1m5 0h1m-64 1h1m2 0h3m2 0h1m12 0h3m25 0h1m2 0h1m1 0h1m2 0h1m5 0h1m-64 1h3m1 0h1m43 0h4m-3 1h2m14 0h1m-67 1h1m20 0h2m26 0h1m7 0h1m1 0h2m-61 1h1m21 0h2m33 0h1m2 0h1m-13 1h1m-52 1h1m1 0h1m19 0h2m27 0h1m5 0h1m-57 1h1m1 0h1m53 0h1m-57 1h1m22 0h1m1 0h1m30 0h1m-60 1h1m1 0h1m25 0h1m-24 1h1m24 0h2m-27 1h1m51 0h1m-54 1h1m20 0h1m31 0h1m-58 1h2m25 0h1m-28 1h1m24 0h1m1 0h1m-2 1h1m44 2h1m-48 1h1m-25 1h1m22 0h3m-5 1h1m-1 3h3m-24 1h1m20 0h2m-1 1h1m-23 1h1m19 0h1m-19 1h1m16 0h1m1 1h1m-6 1h1m1 0h1m1 0h1m-6 1h1m2 0h3m-17 1h2" stroke="rgb(158,158,158)" stroke-width="1" fill="none"/>
<path transform="translate(0,.5)" d="M0 0m31 648h1m2 0h1m-4 1h1m2 0h1m1 0h1m-6 1h2m-2 1h1m3 1h1m-9 2h1m7 0h2m-3 1h1m2 0h1m-8 1h1m4 0h1m6 0h1m-16 1h1m1 0h1m2 0h1m6 0h1m3 0h1m-16 1h1m7 0h4m-12 1h2m1 0h2m2 0h1m4 0h2m-14 1h4m1 0h1m7 0h1m-17 1h1m2 0h2m2 0h1m10 0h1m1 0h1m-21 1h1m1 0h2m10 0h1m5 0h1m-7 1h2m4 0h2m-7 1h1m-13 1h1m15 0h2m-17 1h1m8 0h1m-9 1h1m-4 1h4m7 0h1m5 0h1m-19 1h3m15 0h1m-19 1h2m1 0h1m53 0h1m-59 1h3m13 0h1m1 0h3m1 0h1m35 0h1m-58 1h1m17 0h1m1 0h1m-22 1h2m1 0h1m17 0h1m-21 1h1m57 0h1m-41 1h1m47 0h1m-66 1h1m14 0h1m5 0h1m31 0h2m4 0h1m-45 1h1m2 0h2m24 0h1m8 0h3m-58 1h3m16 0h1m37 0h1m-57 1h1m2 0h1m14 0h1m-16 1h1m3 0h1m10 0h1m39 0h1m-57 1h3m2 0h1m6 0h2m2 0h1m-20 1h1m2 0h2m14 0h1m34 0h2m-40 1h1m2 0h1m39 0h1m-56 1h1m53 0h1m5 0h1m-62 1h1m1 0h1m9 0h1m38 0h1m2 0h1m-54 1h1m10 0h1m31 0h1m6 0h2m1 0h1m-51 1h1m11 0h1m27 0h1m6 0h1m-51 1h1m1 0h1m6 0h1m4 0h1m1 0h1m34 0h5m-56 1h3m7 0h2m5 0h2m24 0h1m1 0h1m2 0h2m5 0h2m-59 1h3m2 0h2m6 0h1m2 0h1m30 0h1m2 0h2m9 0h1m1 0h1m-64 1h2m12 0h1m34 0h2m4 0h2m-57 1h1m1 0h2m2 0h1m1 0h1m3 0h1m1 0h2m1 0h4m28 0h1m1 0h1m3 0h1m-48 1h1m7 0h1m1 0h1m30 0h2m4 0h2m6 0h1m-54 1h1m3 0h2m1 0h1m35 0h1m5 0h1m-45 1h3m32 0h2m4 0h2m1 0h1m-56 1h1m2 0h1m7 0h3m25 0h1m5 0h1m3 0h1m5 0h3m-58 1h1m1 0h2m2 0h1m4 0h1m1 0h2m26 0h1m3 0h1m2 0h1m4 0h2m-54 1h1m4 0h1m6 0h1m27 0h3m2 0h1m-47 1h2m7 0h1m4 0h2m25 0h1m4 0h2m3 0h1m8 0h1m-60 1h2m5 0h2m4 0h1m25 0h1m7 0h1m2 0h5m2 0h2m-59 1h2m4 0h3m42 0h1m1 0h2m1 0h3m1 0h3m-58 1h1m3 0h1m1 0h1m2 0h1m25 0h1m5 0h6m1 0h1m6 0h1m1 0h1m-59 1h1m2 0h1m2 0h2m2 0h1m1 0h1m28 0h4m1 0h1m1 0h1m1 0h4m1 0h2m-56 1h3m5 0h2m25 0h3m3 0h1m1 0h1m1 0h1m7 0h1m-56 1h1m1 0h1m5 0h4m2 0h1m22 0h2m2 0h1m2 0h2m1 0h3m2 0h1m7 0h1m-62 1h2m1 0h2m2 0h5m21 0h1m4 0h2m5 0h1m2 0h2m2 0h1m-52 1h1m2 0h2m4 0h1m34 0h2m1 0h1m2 0h3m2 0h1m-47 1h1m27 0h2m3 0h1m1 0h1m1 0h1m1 0h1m1 0h3m-46 1h1m27 0h1m2 0h1m1 0h3m1 0h1m1 0h1m3 0h1m1 0h1m-56 1h1m5 0h1m1 0h1m1 0h1m26 0h1m3 0h1m1 0h1m4 0h6m1 0h1m-19 1h1m8 0h1m2 0h1m3 0h3m3 0h1m-59 1h1m4 0h2m3 0h2m22 0h1m12 0h1m3 0h2m1 0h1m3 0h1m-53 1h1m4 0h1m2 0h1m28 0h2m1 0h4m1 0h1m-44 1h1m36 0h3m2 0h1m1 0h1m-46 1h1m2 0h2m1 0h1m26 0h1m5 0h1m1 0h1m5 0h1m-54 1h1m5 0h1m2 0h1m1 0h2m26 0h2m4 0h1m4 0h1m2 0h1m-54 1h1m2 0h4m4 0h2m34 0h1m6 0h1m-56 1h1m1 0h1m1 0h3m5 0h1m4 0h1m23 0h1m5 0h1m1 0h3m-51 1h1m7 0h1m1 0h1m1 0h1m3 0h1m22 0h1m8 0h1m5 0h1m-56 1h1m12 0h1m35 0h1m-52 1h1m1 0h1m12 0h1m7 0h1m22 0h2m3 0h1m-55 1h2m47 0h1m4 0h2m-59 1h1m4 0h1m1 0h3m12 0h1m1 0h1m33 0h1m1 0h1m-59 1h1m1 0h1m2 0h1m14 0h1m1 0h1m34 0h2m-40 1h1m-19 1h1m3 0h1m-1 1h1m16 0h1m-26 1h1m2 0h1m45 0h1m-51 1h1m1 0h1m19 0h1m-21 1h1m22 0h1m-24 1h2m19 0h3m28 0h1m-54 1h2m20 0h2m-26 1h1m2 0h1m19 0h2m32 0h1m-58 1h1m3 0h1m-5 2h1m-2 1h1m20 0h1m5 0h1m-28 1h1m24 0h1m-2 1h1m-2 1h1m-2 1h1m-23 1h1m19 0h1m1 0h2m-3 1h1m-1 1h1m2 0h1m-25 3h1m19 0h1m-3 1h1m-19 1h2m15 0h1m-1 1h1m-1 1h1m3 0h1m-22 1h1m2 0h1m10 0h1m-9 1h1m1 0h2" stroke="rgb(128,128,128)" stroke-width="1" fill="none"/>
<path transform="translate(0,.5)" d="M0 0m32 649h2m-1 7h2m1 0h1m1 0h1m-11 1h1m6 0h2m1 0h1m-10 1h1m2 0h1m0 1h2m1 0h2m-4 1h2m2 1h1m2 0h2m-17 1h1m4 0h2m-8 1h2m1 0h3m10 0h2m-16 1h2m2 0h1m7 0h1m2 0h1m-5 1h1m3 0h1m-6 1h1m1 0h1m2 0h4m-8 1h1m4 0h1m-7 1h1m1 0h1m-15 1h1m3 0h1m7 0h2m-14 1h1m4 0h1m10 0h7m-20 1h2m10 0h1m1 0h1m-16 1h3m13 0h1m1 0h1m-3 1h2m-16 1h2m12 0h1m-15 1h1m12 0h2m-16 1h2m14 0h1m-14 1h1m7 0h1m1 0h1m1 0h2m-15 1h3m7 0h4m-14 1h1m1 0h1m-7 1h1m3 0h1m1 0h1m8 0h1m-5 1h1m4 0h1m-13 1h2m4 0h1m3 0h3m-13 1h2m6 0h3m42 0h1m-52 1h1m4 0h5m-11 1h2m3 0h1m2 0h1m1 0h2m34 0h2m4 0h1m-56 1h1m3 0h1m3 0h1m2 0h1m3 0h1m39 0h2m-54 1h1m1 0h3m2 0h1m41 0h1m3 0h1m-48 1h1m3 0h2m-15 1h1m8 0h1m4 0h1m-13 1h2m2 0h2m1 0h1m46 0h1m-52 1h3m1 0h1m2 0h1m48 0h2m-63 1h1m11 0h1m36 0h1m5 0h2m5 0h2m-60 1h1m4 0h1m1 0h1m1 0h2m3 0h2m43 0h1m-59 1h1m4 0h3m35 0h1m4 0h2m4 0h1m-55 1h1m4 0h1m2 0h1m34 0h1m4 0h1m5 0h2m-56 1h1m4 0h4m20 0h1m8 0h1m6 0h1m2 0h2m-51 1h1m8 0h1m1 0h1m27 0h1m5 0h2m-46 1h4m2 0h1m1 0h2m33 0h1m4 0h2m4 0h1m-55 1h4m2 0h1m1 0h1m2 0h1m28 0h1m5 0h1m1 0h1m1 0h2m1 0h1m1 0h1m-48 1h1m2 0h1m31 0h1m3 0h2m5 0h2m-48 1h1m1 0h1m35 0h3m5 0h1m7 0h1m-63 1h1m4 0h3m1 0h1m41 0h1m-52 1h1m3 0h2m1 0h2m3 0h1m26 0h2m7 0h1m-42 1h2m35 0h1m3 0h1m1 0h1m3 0h3m-49 1h1m35 0h1m3 0h1m7 0h2m-7 1h1m5 0h1m0 1h1m-53 1h1m36 0h1m3 0h1m1 0h1m8 0h1m-54 1h1m1 0h1m2 0h1m34 0h1m1 0h1m5 0h1m-48 1h1m5 0h2m30 0h3m6 0h1m-42 1h1m38 0h1m5 0h1m-46 1h1m29 0h3m4 0h1m-40 1h1m31 0h1m2 0h1m-2 1h1m11 0h1m-55 1h2m4 0h2m2 0h1m34 0h1m2 0h1m1 0h1m-51 1h1m5 0h2m1 0h1m-10 1h1m5 0h2m36 0h1m-38 1h1m45 0h1m-54 1h4m6 0h1m-11 1h2m7 0h2m37 0h2m-51 1h2m9 0h1m37 0h1m-39 1h2m1 1h1m35 0h1m-54 1h1m1 0h2m13 0h1m-20 1h1m1 0h2m1 0h1m9 0h2m-15 1h1m15 0h1m-20 1h1m18 0h2m-21 1h2m17 0h2m-3 1h1m1 0h1m-23 1h1m-3 1h1m20 1h1m-23 1h2m19 0h1m-21 1h1m20 0h1m-23 1h1m1 0h1m19 0h1m-23 1h1m19 0h1m1 0h1m-21 1h1m17 0h1m2 0h1m-24 1h3m16 0h1m-21 1h1m-1 1h1m20 0h1m-22 1h1m-1 2h1m20 1h1m-22 1h1m18 1h1m-3 1h2m-19 1h1m17 0h1m-2 1h1m-3 1h1m1 0h1m-19 1h1m14 0h1m-14 1h1m7 0h2m-5 1h1" stroke="rgb(97,97,97)" stroke-width="1" fill="none"/>
<path transform="translate(0,.5)" d="M0 0m37 656h1m-5 1h2m2 0h1m-5 1h3m1 2h1m2 0h1m-8 1h2m4 0h1m-7 1h1m3 0h2m1 0h2m-11 1h3m-4 1h1m5 0h2m3 0h1m-13 1h4m1 0h4m1 0h2m-11 1h6m4 0h1m-10 1h1m5 0h1m1 0h1m2 0h1m-8 1h2m4 0h1m1 0h1m-14 1h1m2 0h4m2 0h1m2 0h2m-9 1h3m1 0h1m-10 1h1m8 0h1m-10 1h2m10 0h1m-14 1h2m7 0h3m1 0h1m2 0h1m-15 1h3m6 0h3m1 0h1m-15 1h1m1 0h2m4 0h2m1 0h1m-10 1h2m1 0h2m1 0h2m1 0h1m-14 1h2m2 0h1m2 0h2m3 0h1m-13 1h2m3 0h1m1 0h1m3 0h1m-9 1h1m1 0h1m3 0h2m1 0h2m1 0h1m-13 1h1m2 0h1m2 0h2m1 0h1m1 0h2m-13 1h2m1 0h1m1 0h1m1 0h2m-3 1h3m3 0h1m-12 1h1m3 0h2m-8 1h2m1 0h1m-5 1h1m7 0h2m-8 1h1m2 0h2m1 0h2m2 0h2m-7 1h2m1 0h5m-9 1h2m2 0h2m-6 1h2m4 0h1m-6 1h1m4 0h2m46 0h1m-54 1h1m5 0h1m41 0h1m-49 1h3m50 0h1m-56 1h1m3 0h1m1 0h1m-2 2h2m41 0h1m-51 1h1m44 0h1m-40 1h3m39 0h4m2 0h3m-49 1h1m2 0h1m34 0h3m2 0h4m1 0h1m-47 1h2m36 0h1m4 0h1m-44 2h1m39 0h1m5 4h1m-54 3h1m4 0h1m-2 1h1m37 2h1m4 0h2m-1 1h1m-1 1h1m0 2h1m-45 3h2m37 0h1m-39 1h1m41 0h2m-51 1h1m2 0h1m5 0h1m-8 1h1m2 0h2m3 0h1m-9 1h1m6 0h2m33 0h1m-44 1h2m-7 1h1m13 0h1m1 0h1m-17 1h1m2 0h1m9 0h1m-15 1h2m2 0h2m11 0h1m-18 1h1m1 0h1m1 0h1m11 0h2m-17 1h1m-4 1h3m17 0h1m-4 1h3m-20 1h1m17 0h1m-19 1h2m15 0h1m-18 1h1m15 0h1m-21 1h1m0 1h1m18 0h2m-20 1h1m18 0h1m-23 1h3m20 0h1m-24 1h1m3 0h1m18 0h1m-23 1h2m17 0h1m1 0h1m-22 1h1m15 0h1m2 0h1m-20 1h1m16 0h3m-21 1h1m17 0h1m0 1h1m1 0h2m-23 1h1m21 0h1m-4 1h1m-20 1h1m17 0h1m-19 1h1m0 1h1m14 0h1m-15 1h2m11 0h1m-17 1h1m14 0h1m-13 1h2m-4 1h1m2 0h2m6 0h2" stroke="rgb(66,66,66)" stroke-width="1" fill="none"/>
<path transform="translate(0,.5)" d="M0 0m36 660h1m-2 1h3m2 0h1m-7 1h3m-3 1h2m2 0h1m-10 1h1m2 0h4m2 0h1m-6 1h1m7 0h1m-6 1h1m4 0h1m-10 1h5m3 0h2m-11 1h4m5 0h1m1 0h1m-12 1h2m7 0h2m-11 1h4m3 0h1m1 0h1m-10 1h6m-5 1h2m4 0h4m-11 1h1m4 0h1m4 0h1m-4 1h2m-9 1h1m4 0h2m2 0h1m-11 1h2m2 0h1m2 0h1m2 0h1m-11 1h1m2 0h2m2 0h2m-5 1h1m1 0h3m-5 1h3m2 0h1m2 0h1m-7 1h1m2 0h1m-5 1h1m7 0h1m-12 1h1m2 0h1m-3 1h3m-2 1h3m-4 1h3m-3 1h1m-1 7h1m42 6h1m-35 1h2m-5 19h2m-3 1h5m-6 1h2m2 0h3m-7 1h6m-6 1h3m3 0h4m-12 1h4m3 0h2m1 0h1m-11 1h2m1 0h1m3 0h1m-8 1h1m5 0h1m1 0h3m-16 1h1m3 0h1m6 0h2m1 0h1m-14 1h3m8 0h3m-12 1h1m7 0h1m2 0h1m-18 1h3m3 0h3m4 0h1m2 0h1m-16 1h2m14 0h1m-2 1h1m-16 1h2m12 0h1m-16 1h3m12 0h3m-19 1h1m2 0h1m11 0h2m-19 1h1m1 0h2m14 0h1m-17 1h1m14 0h1m2 0h1m-4 1h1m1 0h2m-20 1h2m12 0h1m3 0h1m-20 1h3m11 0h1m1 0h2m-18 1h2m13 0h1m-17 1h2m-2 1h1m15 0h2m-18 1h1m11 0h1m3 0h3m-19 1h3m12 0h3m-18 1h4m1 0h1m9 0h2m-17 1h1m1 0h1m9 0h2m1 0h1m-15 1h3m8 0h3m-12 1h1m5 0h1m3 0h1m-15 1h5m3 0h2m1 0h1m-12 1h2m2 0h1m4 0h3m1 0h1m-6 1h1" stroke="rgb(36,36,36)" stroke-width="1" fill="none"/>
<path transform="translate(0,.5)" d="M0 0m36 663h2m-1 8h2m-5 1h4m-6 1h4m1 0h1m-4 1h4m-4 1h2m-1 5h1m-3 2h2m5 41h3m-4 1h3m-5 1h1m1 0h3m-6 1h5m1 0h1m-8 1h6m2 0h1m-10 1h8m-12 1h3m1 0h7m1 0h2m-14 1h3m3 0h4m1 0h2m-13 1h14m-15 1h14m-13 1h12m-12 1h12m-15 1h2m1 0h11m-13 1h14m-15 1h14m-14 1h14m-14 1h12m1 0h2m-15 1h11m-12 1h13m-14 1h15m-16 1h15m-15 1h11m1 0h3m-13 1h12m-11 1h1m1 0h9m-14 1h1m1 0h9m2 0h1m-11 1h8m-8 1h5m1 0h3m-9 1h3m2 0h1m1 0h2m-9 1h4m3 0h1m-8 1h3" stroke="rgb(8,8,8)" stroke-width="1" fill="none"/>
<path d="M56.3 629.5V754.2M20.5 714.2H145.8" stroke="#555" stroke-width="0.9" fill="none"/>
<rect x="23.0" y="631.5" width="120.8" height="80.0" fill="none" stroke="#333" stroke-width="1.2" stroke-dasharray="3.1,2.8"/>
<rect x="20.5" y="629.5" width="125.3" height="124.7" fill="none" stroke="#666" stroke-width="1.0"/>
<text x="30.8" y="644.2" font-size="10.20" fill="#111">22%</text>
<text x="139.4" y="644.2" font-size="10.20" text-anchor="end" fill="#111">10%</text>
<text x="141.6" y="726.2" font-size="10.20" text-anchor="end" fill="#111">5%</text>
<text x="131.7" y="750.4" font-size="10.20" text-anchor="end" fill="#111">CD43 FITC</text>
<path d="M132.3 747.1H139.8" stroke="#222" stroke-width="0.9"/>
<path d="M142.3 747.1l-3.4 -1.7v3.4z" fill="#222"/>
<rect x="243.5" y="593.8" width="86.5" height="119.4" fill="#f1f1f1"/>
<path transform="translate(0,.5)" d="M0 0m230 593h1m-2 1h1m-9 1h1m4 0h1m3 0h2m-15 1h1m2 0h1m1 0h2m1 0h3m3 0h1m1 0h1m-12 1h1m9 0h1m1 0h1m1 0h2m-19 1h1m2 0h1m2 0h1m1 0h1m8 0h2m-20 1h2m2 0h1m3 0h1m1 0h1m2 0h1m1 0h2m41 0h2m-67 1h2m17 0h1m1 0h1m1 0h1m41 0h2m-68 1h1m2 0h1m1 0h1m14 0h2m1 0h1m2 0h1m40 0h1m-68 1h1m1 0h1m1 0h1m1 0h1m17 0h1m1 0h1m18 0h2m-46 1h1m20 0h3m-24 1h1m1 0h1m20 0h3m55 0h1m-82 1h1m22 0h1m1 0h1m2 0h1m27 0h1m4 0h1m14 0h1m5 0h1m-83 1h1m3 0h1m19 0h1m1 0h2m1 0h1m15 0h1m4 0h1m5 0h3m2 0h1m8 0h1m15 0h1m-86 1h1m2 0h1m21 0h4m20 0h1m3 0h1m2 0h1m8 0h2m1 0h1m1 0h1m5 0h1m2 0h1m5 0h1m-87 1h2m1 0h1m22 0h1m1 0h2m13 0h1m3 0h1m1 0h1m4 0h1m4 0h1m2 0h1m3 0h2m2 0h2m2 0h1m-78 1h1m1 0h5m22 0h2m1 0h2m12 0h1m2 0h4m1 0h1m5 0h3m1 0h1m1 0h1m2 0h1m4 0h1m2 0h2m7 0h1m23 0h1m-112 1h1m4 0h1m26 0h1m5 0h2m5 0h1m1 0h1m2 0h6m4 0h1m1 0h1m1 0h2m1 0h2m1 0h2m4 0h2m1 0h1m6 0h1m1 0h1m-89 1h1m1 0h2m1 0h1m40 0h10m1 0h2m2 0h1m2 0h2m2 0h2m4 0h1m1 0h1m2 0h1m6 0h2m14 0h1m-98 1h1m28 0h1m8 0h1m2 0h2m5 0h2m2 0h9m2 0h1m5 0h1m2 0h1m9 0h1m14 0h1m-70 1h2m4 0h1m1 0h1m1 0h5m1 0h1m3 0h3m2 0h2m2 0h2m1 0h2m1 0h5m2 0h1m3 0h1m4 0h1m1 0h2m3 0h1m-60 1h1m5 0h1m2 0h1m1 0h5m2 0h2m2 0h2m6 0h1m3 0h1m6 0h1m6 0h1m2 0h3m1 0h1m2 0h1m1 0h1m14 0h1m-105 1h1m30 0h2m2 0h1m1 0h1m1 0h2m1 0h3m5 0h4m7 0h1m1 0h1m7 0h1m1 0h2m2 0h1m3 0h1m2 0h1m1 0h1m17 0h1m-106 1h1m31 0h1m1 0h1m1 0h2m1 0h3m2 0h2m2 0h1m4 0h1m3 0h1m2 0h2m1 0h1m15 0h1m2 0h2m4 0h3m1 0h2m-94 1h1m30 0h1m1 0h3m1 0h2m2 0h3m4 0h3m2 0h1m2 0h2m14 0h1m9 0h1m2 0h1m20 0h1m-107 1h2m27 0h2m1 0h7m1 0h1m1 0h2m7 0h1m1 0h2m17 0h1m5 0h1m2 0h2m1 0h1m3 0h1m-60 1h1m2 0h5m1 0h1m1 0h1m3 0h1m1 0h1m27 0h1m3 0h2m2 0h1m6 0h1m5 0h1m-96 1h1m30 0h3m1 0h4m5 0h1m1 0h1m34 0h2m6 0h1m4 0h2m-94 1h1m28 0h1m1 0h2m3 0h3m42 0h1m4 0h1m-88 1h1m26 0h3m3 0h1m3 0h1m1 0h3m1 0h2m3 0h1m31 0h2m1 0h2m2 0h2m-90 1h1m1 0h3m23 0h1m2 0h2m3 0h2m6 0h4m34 0h4m1 0h3m-91 1h1m5 0h1m19 0h1m1 0h4m4 0h1m2 0h1m5 0h1m1 0h2m36 0h1m3 0h2m-85 1h1m25 0h1m2 0h5m4 0h1m41 0h1m1 0h1m-82 1h1m22 0h6m3 0h1m1 0h1m45 0h1m1 0h2m-84 1h2m22 0h3m2 0h1m3 0h2m4 0h1m40 0h1m3 0h1m-87 1h1m1 0h1m20 0h2m1 0h1m2 0h1m1 0h1m3 0h1m3 0h3m5 0h4m32 0h3m1 0h1m-87 1h1m2 0h2m16 0h1m2 0h2m3 0h2m2 0h3m1 0h2m2 0h2m2 0h1m1 0h1m33 0h2m3 0h2m1 0h1m-91 1h2m2 0h2m15 0h1m2 0h2m4 0h4m2 0h2m2 0h4m2 0h1m1 0h1m29 0h2m1 0h1m1 0h4m2 0h1m-92 1h1m2 0h4m15 0h1m1 0h1m2 0h1m4 0h4m4 0h1m1 0h1m7 0h1m23 0h1m5 0h2m2 0h1m2 0h2m2 0h3m-93 1h2m2 0h1m15 0h1m2 0h1m1 0h1m7 0h2m1 0h2m1 0h5m2 0h1m26 0h2m9 0h1m5 0h5m-91 1h2m14 0h1m1 0h2m2 0h1m8 0h3m2 0h1m1 0h5m8 0h2m17 0h1m8 0h1m6 0h5m-94 1h3m1 0h1m14 0h1m5 0h1m3 0h2m2 0h2m5 0h3m30 0h1m4 0h3m3 0h1m6 0h2m-95 1h1m6 0h1m13 0h1m2 0h2m7 0h4m2 0h1m2 0h2m4 0h1m10 0h1m14 0h2m3 0h3m5 0h1m-89 1h2m6 0h1m16 0h1m14 0h1m7 0h1m1 0h3m7 0h1m13 0h2m-76 1h1m1 0h1m4 0h1m1 0h1m15 0h1m22 0h3m1 0h1m1 0h1m10 0h1m5 0h1m10 0h1m10 0h1m-92 1h1m1 0h1m2 0h1m1 0h1m3 0h1m10 0h1m17 0h1m5 0h3m5 0h1m25 0h2m-83 1h2m1 0h1m4 0h1m13 0h1m18 0h1m3 0h6m3 0h1m16 0h1m1 0h3m3 0h3m1 0h2m1 0h1m-86 1h1m2 0h1m31 0h1m1 0h2m4 0h2m1 0h1m1 0h1m1 0h3m10 0h2m8 0h4m3 0h3m-82 1h3m18 0h1m3 0h2m6 0h2m6 0h1m1 0h1m3 0h2m1 0h2m3 0h2m2 0h1m12 0h2m5 0h1m-80 1h3m17 0h2m11 0h2m7 0h1m4 0h2m1 0h2m2 0h1m3 0h1m1 0h2m9 0h2m4 0h1m1 0h1m23 0h1m-107 1h2m4 0h1m18 0h2m26 0h2m1 0h1m3 0h1m1 0h4m6 0h1m6 0h2m6 0h1m6 0h2m12 0h1m-109 1h1m4 0h1m1 0h1m21 0h1m25 0h3m3 0h5m6 0h2m6 0h3m3 0h2m6 0h1m-91 1h2m1 0h1m15 0h4m4 0h1m9 0h1m21 0h1m15 0h2m5 0h1m-86 1h3m20 0h1m30 0h2m6 0h2m1 0h2m11 0h2m-80 1h3m2 0h1m3 0h1m12 0h1m3 0h2m17 0h1m9 0h1m10 0h1m10 0h1m2 0h1m-76 1h1m17 0h1m1 0h3m17 0h1m8 0h2m9 0h1m9 0h2m2 0h1m1 0h1m-80 1h3m1 0h1m10 0h1m6 0h1m1 0h1m38 0h4m4 0h3m6 0h1m-80 1h1m1 0h2m3 0h1m13 0h4m36 0h2m2 0h1m5 0h3m1 0h1m1 0h3m-80 1h1m23 0h1m36 0h2m2 0h1m4 0h7m1 0h4m-77 1h2m9 0h5m12 0h1m7 0h1m21 0h1m1 0h2m2 0h2m1 0h1m2 0h5m-81 1h2m1 0h2m8 0h1m8 0h1m19 0h1m17 0h1m3 0h1m1 0h1m6 0h1m1 0h4m9 0h1m-88 1h1m2 0h2m7 0h2m2 0h3m3 0h1m13 0h1m9 0h1m12 0h2m4 0h5m6 0h2m-77 1h1m1 0h2m7 0h1m38 0h1m7 0h2m3 0h4m1 0h1m1 0h2m3 0h2m8 0h1m-86 1h3m20 0h1m9 0h1m16 0h1m7 0h3m7 0h2m2 0h1m2 0h2m7 0h2m-86 1h1m13 0h1m2 0h1m1 0h2m3 0h1m35 0h1m7 0h3m1 0h2m1 0h2m7 0h1m-88 1h1m3 0h3m9 0h1m1 0h2m4 0h1m33 0h1m2 0h1m2 0h2m2 0h1m2 0h1m1 0h1m-75 1h1m2 0h4m10 0h2m1 0h1m2 0h2m41 0h1m2 0h1m1 0h3m2 0h2m10 0h1m-84 1h1m9 0h1m2 0h2m2 0h1m1 0h2m61 0h2m-82 1h1m6 0h1m3 0h3m1 0h1m1 0h1m79 0h1m-101 1h2m2 0h1m5 0h2m2 0h1m1 0h3m2 0h1m1 0h2m8 0h2m22 0h2m21 0h1m13 0h2m-95 1h1m2 0h1m10 0h2m1 0h1m14 0h2m10 0h1m15 0h1m7 0h2m-67 1h1m1 0h2m5 0h1m2 0h2m36 0h1m11 0h1m3 0h1m-73 1h1m6 0h1m2 0h3m2 0h1m-11 1h1m2 0h3m2 0h2m-10 1h1m2 0h2m1 0h2m34 0h1m-35 1h1m2 0h3m1 0h1m3 0h1m-9 1h2m1 0h1m3 0h1m-16 1h1m3 0h2m1 0h1m1 0h1m-17 1h1m5 0h1m1 0h1m2 0h1m-11 1h1m4 0h1m2 0h1m1 0h1m1 0h1m3 0h2m-19 1h1m5 0h1m1 0h1m2 0h1m1 0h1m4 0h1m-19 1h2m8 0h1m-11 1h2m7 2h2m-2 1h2m-2 2h2m-2 1h2m-2 1h2m5 0h1m-10 1h2m3 0h2m1 0h1m-9 1h2m6 0h2m2 0h1m-6 1h1m4 0h1m-5 1h1m-4 1h1m1 0h1m3 0h1m-10 1h1m2 0h2m1 0h1m1 0h2m-11 1h2m2 0h3m1 0h1m3 0h2m-13 1h1m2 0h6m3 0h1m-17 1h3m2 0h1m4 0h1m3 0h2m-16 1h3m1 0h4m4 0h3m-17 1h2m6 0h5m1 0h1m1 0h1m2 0h3m-24 1h2m1 0h1m4 0h2m1 0h4m1 0h1m4 0h3m-21 1h3m2 0h1m2 0h1m2 0h3m1 0h2m-15 1h3m9 0h4m-7 1h3m2 0h3m-14 1h1m2 0h1m2 0h1m1 0h1m4 0h1m-14 1h1m2 0h1m1 0h1m2 0h3m-14 1h1m6 0h3m2 0h5m-18 1h2m2 0h1m1 0h1m3 0h3m2 0h1m1 0h1m-15 1h2m1 0h1m3 0h2m5 0h1m-15 1h3m11 0h1m-15 1h1m2 0h1m3 0h3m-7 1h2m1 0h1m1 0h1m-6 1h2m2 0h1m-16 1h2m10 0h1m1 0h2m-5 1h2m1 0h1m4 0h1m-2 1h2m-12 1h2m4 0h2m1 0h2m2 0h1m-8 1h1m1 0h3m2 0h1m-9 1h3m-15 2h2m-2 1h2" stroke="rgb(224,224,224)" stroke-width="1" fill="none"/>
<path transform="translate(0,.5)" d="M0 0m230 594h1m-4 1h1m-10 1h2m1 0h1m2 0h1m5 0h1m-14 1h2m1 0h2m1 0h1m1 0h1m7 0h1m-13 1h1m1 0h1m9 0h2m-14 1h1m5 0h1m-11 1h1m1 0h1m2 0h2m4 0h1m6 0h1m-25 1h2m4 0h1m3 0h2m6 0h1m4 0h2m-25 1h1m1 0h1m3 0h1m13 0h1m-20 1h3m3 0h1m17 0h1m-25 1h1m1 0h1m18 0h1m59 0h1m-81 1h1m19 0h1m52 0h1m-75 1h1m3 0h1m17 0h1m1 0h1m2 0h1m-27 1h2m1 0h1m17 0h3m32 0h1m11 0h1m-73 1h2m4 0h1m18 0h1m3 0h1m2 0h1m26 0h1m17 0h1m4 0h1m-83 1h1m71 0h1m-74 1h4m2 0h1m25 0h2m9 0h1m16 0h1m1 0h1m2 0h1m2 0h1m4 0h2m2 0h1m8 0h1m-87 1h1m2 0h1m1 0h1m27 0h1m9 0h2m16 0h2m3 0h1m2 0h1m4 0h1m1 0h1m-74 1h1m1 0h1m24 0h3m10 0h2m2 0h2m5 0h1m10 0h1m8 0h2m1 0h1m-75 1h1m27 0h1m7 0h1m7 0h1m12 0h1m2 0h1m11 0h3m-75 1h2m25 0h1m7 0h2m8 0h1m8 0h2m1 0h1m5 0h3m5 0h4m12 0h1m-87 1h1m26 0h2m5 0h1m4 0h1m4 0h4m4 0h1m1 0h1m1 0h1m5 0h3m3 0h1m1 0h1m2 0h1m6 0h1m4 0h3m-90 1h1m31 0h1m4 0h1m3 0h2m5 0h2m1 0h1m1 0h1m3 0h1m3 0h1m1 0h1m1 0h2m4 0h4m2 0h1m1 0h2m2 0h1m-84 1h2m27 0h1m15 0h2m3 0h2m1 0h2m2 0h1m1 0h1m6 0h1m3 0h1m6 0h4m1 0h1m-82 1h1m38 0h1m4 0h1m1 0h1m1 0h1m1 0h1m7 0h1m6 0h1m2 0h2m1 0h3m1 0h1m1 0h1m3 0h1m-84 1h1m29 0h2m5 0h1m1 0h1m1 0h3m3 0h1m5 0h2m4 0h1m4 0h2m4 0h2m1 0h1m1 0h1m1 0h1m2 0h2m6 0h1m-88 1h1m28 0h1m3 0h1m5 0h2m1 0h1m3 0h2m2 0h1m13 0h1m4 0h2m1 0h2m2 0h2m1 0h1m7 0h1m-86 1h1m25 0h2m10 0h1m2 0h6m1 0h1m2 0h1m26 0h2m-79 1h1m34 0h1m3 0h1m2 0h1m3 0h2m2 0h1m-56 1h1m5 0h1m32 0h1m1 0h2m8 0h4m27 0h1m-56 1h1m9 0h2m1 0h2m9 0h1m1 0h2m3 0h1m21 0h1m7 0h1m-82 1h1m18 0h6m2 0h1m5 0h2m1 0h1m1 0h1m2 0h3m2 0h1m3 0h1m16 0h1m10 0h1m3 0h2m-86 1h1m2 0h1m1 0h2m14 0h4m10 0h1m2 0h2m1 0h1m10 0h1m27 0h2m-82 1h1m4 0h1m19 0h1m3 0h1m7 0h2m1 0h1m1 0h1m7 0h3m25 0h3m-80 1h1m1 0h1m18 0h1m2 0h1m4 0h1m5 0h1m1 0h1m3 0h2m7 0h1m26 0h3m1 0h1m3 0h1m-70 1h1m3 0h1m15 0h1m11 0h2m23 0h2m3 0h2m3 0h3m2 0h1m-91 1h1m2 0h2m15 0h2m2 0h1m10 0h2m2 0h1m5 0h2m3 0h1m8 0h1m12 0h1m10 0h1m-83 1h1m4 0h1m13 0h1m14 0h2m3 0h1m2 0h4m1 0h1m23 0h1m1 0h1m3 0h1m-77 1h2m1 0h1m29 0h1m8 0h2m6 0h2m1 0h2m9 0h1m5 0h1m4 0h3m1 0h1m-81 1h1m1 0h1m2 0h1m9 0h1m4 0h1m3 0h1m15 0h1m11 0h2m16 0h1m4 0h2m1 0h3m2 0h1m-79 1h1m15 0h2m1 0h1m21 0h1m12 0h1m6 0h2m4 0h1m1 0h2m1 0h1m-81 1h1m8 0h1m13 0h2m25 0h1m1 0h1m8 0h1m12 0h1m2 0h1m9 0h1m-71 1h1m6 0h1m31 0h1m2 0h1m1 0h1m14 0h1m2 0h2m1 0h1m-82 1h1m6 0h1m13 0h1m28 0h1m1 0h1m1 0h1m1 0h1m1 0h3m2 0h1m5 0h1m1 0h1m5 0h3m-80 1h1m3 0h2m1 0h1m5 0h1m8 0h1m27 0h1m5 0h2m3 0h1m2 0h1m5 0h4m5 0h2m-77 1h1m8 0h1m41 0h1m8 0h1m5 0h1m1 0h1m3 0h3m3 0h1m2 0h1m-86 1h1m7 0h1m13 0h1m23 0h1m3 0h1m3 0h4m5 0h1m6 0h2m6 0h1m-64 1h1m28 0h1m9 0h3m2 0h2m1 0h4m11 0h4m-76 1h1m15 0h1m32 0h2m8 0h3m5 0h1m2 0h4m1 0h1m-75 1h1m12 0h2m2 0h1m30 0h1m1 0h1m3 0h1m4 0h1m2 0h1m3 0h3m2 0h1m2 0h2m-75 1h1m1 0h3m7 0h2m1 0h2m1 0h1m3 0h2m37 0h1m9 0h1m-74 1h1m1 0h1m1 0h1m9 0h1m1 0h1m41 0h1m1 0h2m2 0h3m-69 1h2m4 0h1m11 0h2m41 0h1m2 0h1m1 0h3m5 0h1m-75 1h2m5 0h1m10 0h1m45 0h2m2 0h1m2 0h1m-73 1h3m1 0h1m2 0h1m6 0h1m4 0h2m44 0h4m1 0h3m5 0h1m-71 1h1m5 0h1m1 0h1m2 0h3m1 0h1m43 0h2m1 0h1m6 0h3m-78 1h1m2 0h1m64 0h2m5 0h1m-75 1h2m16 0h1m45 0h1m2 0h1m-71 1h1m3 0h1m3 0h1m3 0h2m58 0h1m1 0h2m-74 1h1m3 0h3m6 0h2m50 0h6m1 0h1m-73 1h1m19 0h1m49 0h1m-70 1h1m2 0h1m7 0h1m2 0h1m1 0h1m51 0h1m-67 1h3m11 0h1m-17 1h2m1 0h1m6 0h1m3 0h2m6 0h1m-28 1h1m7 0h1m6 0h2m6 0h2m48 0h1m-67 1h1m3 0h1m7 0h1m-17 1h2m2 0h1m6 0h1m1 0h1m6 0h1m-16 1h2m3 0h1m9 0h1m1 0h1m-17 1h1m9 0h1m-10 1h2m2 0h3m4 0h1m-13 1h1m2 0h3m-14 1h1m8 0h2m3 0h1m-3 1h2m-1 2h1m6 0h1m3 0h1m-8 2h1m-9 1h1m4 0h1m-13 1h1m6 0h2m3 0h1m-6 1h1m1 0h2m1 0h1m-4 1h1m6 9h1m-2 2h1m-2 3h1m2 1h2m-10 2h1m8 2h1m0 1h1m-2 1h1m2 0h1m-9 2h2m3 0h2m-6 1h1m1 0h1m1 0h2m-7 1h1m1 0h2m-12 1h1m10 0h2m-8 1h1m-1 1h1m4 1h2m-5 1h1m2 1h1m-5 2h1m3 4h1" stroke="rgb(191,191,191)" stroke-width="1" fill="none"/>
<path transform="translate(0,.5)" d="M0 0m219 597h1m0 1h1m-1 1h1m4 0h1m-8 1h1m2 0h1m2 0h1m1 0h2m3 0h1m-14 1h3m2 0h1m-9 1h1m2 0h2m1 0h1m7 0h1m5 0h1m-21 1h3m11 0h1m5 0h1m-21 1h1m2 0h1m9 0h1m-17 1h1m1 0h1m-2 1h2m18 0h1m-21 2h1m55 0h1m-55 1h1m20 0h1m36 0h1m-61 1h1m24 0h1m-25 1h2m22 0h3m44 0h1m-51 1h3m36 0h1m-63 1h2m21 0h1m2 0h1m28 0h1m6 0h1m-62 1h1m23 0h1m17 0h1m11 0h1m9 0h1m1 0h1m6 0h1m6 0h1m-83 1h1m1 0h1m41 0h1m9 0h1m1 0h1m25 0h1m-82 1h1m27 0h1m14 0h2m3 0h1m3 0h2m8 0h1m2 0h2m1 0h1m4 0h2m-75 1h1m25 0h1m31 0h1m1 0h1m1 0h2m2 0h2m2 0h3m1 0h1m6 0h1m-57 1h1m18 0h1m1 0h1m5 0h5m5 0h2m2 0h1m6 0h1m3 0h1m-80 1h1m26 0h1m19 0h1m1 0h3m2 0h1m4 0h3m3 0h1m2 0h1m2 0h1m3 0h1m-75 1h2m25 0h1m9 0h1m2 0h1m6 0h2m1 0h2m3 0h3m6 0h1m5 0h1m2 0h1m3 0h1m-52 1h1m13 0h2m6 0h1m1 0h1m2 0h1m1 0h1m6 0h2m6 0h2m1 0h1m4 0h1m-79 1h2m23 0h1m19 0h2m6 0h1m9 0h1m14 0h1m-57 1h2m1 0h1m11 0h1m2 0h2m4 0h2m4 0h1m23 0h3m-57 1h1m16 0h1m1 0h1m1 0h1m2 0h2m1 0h1m4 0h1m1 0h1m10 0h1m6 0h3m1 0h1m-40 1h1m3 0h2m3 0h2m1 0h1m3 0h1m21 0h1m3 0h1m-79 1h1m35 0h1m2 0h1m1 0h1m1 0h2m1 0h2m2 0h1m1 0h1m15 0h2m8 0h1m-74 1h1m15 0h3m5 0h1m8 0h1m3 0h2m1 0h4m3 0h1m15 0h1m11 0h1m-78 1h2m10 0h4m1 0h1m15 0h1m8 0h1m5 0h1m19 0h2m3 0h1m-76 1h2m12 0h1m2 0h1m24 0h2m5 0h1m4 0h1m1 0h2m11 0h1m6 0h1m2 0h1m-76 1h1m11 0h1m20 0h1m10 0h2m1 0h1m2 0h2m16 0h1m2 0h1m-79 1h1m6 0h2m10 0h1m5 0h1m16 0h1m4 0h1m2 0h1m1 0h3m5 0h1m10 0h1m-56 1h2m1 0h1m4 0h1m22 0h1m2 0h1m3 0h1m2 0h1m2 0h1m4 0h1m1 0h1m3 0h1m3 0h2m3 0h1m-79 1h1m4 0h1m7 0h1m1 0h3m27 0h1m2 0h1m1 0h1m4 0h1m8 0h2m4 0h2m1 0h1m2 0h1m-72 1h2m2 0h2m3 0h4m1 0h1m2 0h1m25 0h1m4 0h2m1 0h2m11 0h2m4 0h1m-61 1h1m1 0h1m29 0h1m1 0h1m2 0h4m2 0h1m5 0h1m1 0h1m8 0h1m-71 1h1m8 0h6m29 0h3m1 0h1m4 0h1m4 0h4m2 0h1m3 0h2m2 0h1m-72 1h1m2 0h1m3 0h3m1 0h1m34 0h1m5 0h2m5 0h1m5 0h1m5 0h1m-72 1h1m11 0h1m37 0h2m1 0h2m5 0h1m4 0h1m1 0h3m-74 1h3m1 0h1m1 0h2m5 0h1m2 0h1m34 0h2m5 0h1m1 0h2m-62 1h1m3 0h1m4 0h1m4 0h1m38 0h1m7 0h1m6 0h1m5 0h2m-76 1h1m16 0h1m45 0h6m2 0h1m-58 1h2m46 0h3m1 0h1m-63 1h1m11 0h2m43 0h2m7 0h2m-72 1h1m2 0h1m9 0h1m2 0h1m2 0h1m40 0h3m1 0h2m-63 1h1m1 0h1m7 0h1m1 0h1m43 0h1m2 0h2m3 0h2m3 0h1m-73 1h3m12 0h1m47 0h1m5 0h1m-69 1h3m7 0h1m3 0h1m48 0h2m2 0h1m1 0h2m-70 1h2m1 0h1m6 0h1m2 0h1m45 0h1m4 0h1m-65 1h1m12 0h1m50 0h1m-64 1h2m1 0h1m5 0h2m4 0h1m45 0h2m-64 1h4m2 0h1m1 0h1m2 0h4m48 0h1m-68 1h3m1 0h1m5 0h1m4 0h1m51 0h1m-64 1h1m3 0h2m1 0h1m1 0h1m-12 1h1m2 0h1m1 0h1m6 0h1m55 0h1m-65 1h1m10 0h1m-9 1h1m2 0h2m1 0h2m-13 1h1m1 0h1m2 0h2m3 0h1m-8 1h5m-7 1h1m1 0h1m4 0h2m-7 1h2m-2 1h1m-1 1h4m-5 1h1m2 0h1m2 1h1m0 1h1m4 29h1m-6 4h1" stroke="rgb(158,158,158)" stroke-width="1" fill="none"/>
<path transform="translate(0,.5)" d="M0 0m224 597h1m-1 1h1m-1 1h1m-5 1h1m3 1h1m1 0h1m-7 1h1m1 0h1m2 0h1m2 0h1m1 0h1m-12 1h2m4 0h1m2 0h1m1 0h2m-16 1h1m12 0h1m2 0h1m-18 1h1m12 0h1m3 0h1m-1 1h1m0 1h1m-1 1h1m1 0h2m-2 1h1m-21 1h1m18 0h1m2 0h1m-3 1h2m36 0h1m-60 1h2m20 1h2m-2 1h1m41 0h1m-43 1h1m1 0h1m38 0h1m1 0h1m6 0h1m-76 1h1m1 0h1m22 0h1m1 0h2m28 0h1m10 0h1m-67 1h1m54 0h1m2 0h1m1 0h1m3 0h1m7 0h1m-74 1h1m57 0h4m3 0h1m-67 1h1m46 0h1m8 0h1m4 0h1m3 0h2m-15 1h1m9 0h1m2 0h3m6 0h1m-73 1h1m22 0h1m25 0h1m4 0h1m7 0h2m1 0h2m3 0h1m1 0h3m-74 1h1m47 0h1m2 0h3m5 0h1m4 0h2m4 0h1m2 0h2m-23 1h2m10 0h2m6 0h1m-72 1h1m14 0h2m19 0h1m12 0h1m3 0h1m12 0h2m1 0h1m6 0h2m-77 1h1m1 0h2m43 0h2m2 0h1m1 0h3m6 0h1m4 0h3m3 0h1m-73 1h1m38 0h1m2 0h1m11 0h1m9 0h1m2 0h2m4 0h2m-75 1h1m11 0h1m2 0h1m1 0h1m23 0h1m22 0h1m1 0h1m1 0h2m3 0h1m-72 1h1m49 0h1m5 0h2m6 0h1m4 0h2m4 0h1m-64 1h1m35 0h1m2 0h1m2 0h1m1 0h2m8 0h2m2 0h2m-71 1h1m3 0h2m3 0h2m34 0h1m1 0h1m4 0h4m7 0h1m2 0h1m1 0h1m-65 1h2m1 0h1m1 0h2m5 0h1m30 0h1m1 0h3m2 0h2m2 0h2m7 0h1m1 0h1m-72 1h4m4 0h2m2 0h1m29 0h2m1 0h1m-44 1h1m4 0h2m9 0h1m23 0h2m1 0h1m13 0h1m2 0h1m1 0h1m-62 1h2m2 0h1m1 0h1m32 0h2m1 0h4m6 0h1m4 0h1m2 0h1m-54 1h1m1 0h1m33 0h1m8 0h1m3 0h1m1 0h1m3 0h1m4 0h1m-16 1h4m4 0h1m-52 1h1m2 0h2m33 0h1m7 0h1m6 0h2m1 0h2m-67 1h2m5 0h2m1 0h1m37 0h1m6 0h1m1 0h2m6 0h1m-66 1h1m3 0h1m43 0h1m2 0h2m4 0h1m-62 1h1m6 0h1m1 0h2m1 0h1m1 0h2m37 0h1m1 0h2m4 0h1m1 0h1m2 0h1m-65 1h2m4 0h1m1 0h1m2 0h3m44 0h2m-59 1h1m5 0h1m2 0h1m51 0h1m-64 1h2m9 0h1m50 0h2m-59 1h1m2 0h1m57 0h5m-64 1h2m58 0h1m-67 1h1m1 0h2m7 0h1m53 0h1m1 0h2m-66 1h1m3 0h1m56 0h1m-58 1h1m2 0h2m-11 1h1m1 0h1m3 0h1m-2 1h3m2 0h2m1 0h1m48 0h1m-68 1h1m9 0h1m1 0h2m4 0h1m48 0h1m-61 1h2m4 0h1m53 0h1m-59 1h1m-5 1h1m1 0h1m-2 1h1m1 0h1m1 0h1m-5 1h2m1 0h1m3 0h1m2 0h1m-11 1h2m2 0h1m1 0h1m-8 1h1m-1 1h1m2 0h1m1 0h1m-7 1h2m3 0h1m-3 1h2m0 2h1m2 1h1" stroke="rgb(128,128,128)" stroke-width="1" fill="none"/>
<path transform="translate(0,.5)" d="M0 0m223 599h1m1 1h1m-1 1h1m2 0h1m-6 1h2m1 0h1m-6 1h2m-6 1h1m1 0h1m2 0h1m2 0h3m2 0h1m-15 1h1m5 0h1m6 0h1m2 2h1m-17 1h1m15 0h1m-1 1h1m1 0h1m0 1h2m-3 1h1m2 0h1m-24 2h1m19 0h1m-1 1h2m-2 1h2m1 0h1m40 0h1m-63 1h1m17 0h2m1 0h1m-4 1h2m1 0h1m-4 1h1m-23 1h1m2 0h2m18 0h2m28 0h2m-52 1h1m48 0h1m4 0h4m-59 1h2m19 0h1m29 0h1m2 0h1m8 0h1m2 0h1m7 0h1m-74 1h2m17 0h2m25 0h1m8 0h1m4 0h2m3 0h4m1 0h2m-72 1h3m14 0h1m2 0h1m28 0h2m5 0h1m2 0h3m3 0h6m-70 1h1m2 0h2m11 0h1m30 0h1m5 0h1m5 0h2m2 0h2m2 0h1m6 0h1m-71 1h1m8 0h2m37 0h1m6 0h3m1 0h1m1 0h1m4 0h2m2 0h2m-72 1h1m8 0h1m2 0h2m28 0h2m3 0h1m2 0h1m7 0h1m7 0h1m1 0h1m-75 1h1m5 0h1m6 0h2m2 0h1m1 0h1m33 0h2m5 0h1m3 0h1m-51 1h1m28 0h2m7 0h3m1 0h5m2 0h6m1 0h1m2 0h1m-69 1h1m13 0h1m31 0h2m1 0h1m5 0h1m2 0h3m3 0h1m-63 1h1m1 0h1m3 0h2m39 0h1m7 0h1m2 0h2m4 0h1m3 0h1m-69 1h1m1 0h1m2 0h1m1 0h1m34 0h1m9 0h1m3 0h1m10 0h1m-67 1h2m1 0h1m44 0h2m1 0h1m1 0h2m3 0h1m1 0h1m-62 1h1m1 0h2m45 0h3m2 0h2m-51 1h1m42 0h1m5 0h1m1 0h1m4 0h1m-63 1h1m1 0h4m1 0h1m37 0h1m8 0h3m4 0h1m-62 1h1m2 0h1m2 0h1m41 0h1m13 0h1m-62 1h2m1 0h1m52 0h2m-54 1h1m1 0h1m2 0h1m46 0h1m-50 1h1m1 0h2m38 0h2m8 0h1m-63 1h1m2 0h3m4 0h1m42 0h1m-55 1h2m2 0h4m3 0h2m-13 1h3m1 0h2m2 0h1m-5 1h3m2 0h1m-3 1h2m-4 1h3m2 0h2m57 0h2m-65 1h3m1 0h3m53 0h1m-56 1h1m1 0h1m-9 1h1m-4 1h1m5 0h1m4 0h1m-8 1h2m7 0h1m-10 1h1m3 1h1m-5 2h3m3 0h1m-8 1h1m1 0h1m3 0h2m-5 1h1m-2 3h1m-2 1h1" stroke="rgb(97,97,97)" stroke-width="1" fill="none"/>
<path transform="translate(0,.5)" d="M0 0m227 601h1m-1 1h1m-4 1h1m1 0h2m-8 1h1m3 0h1m6 0h1m-15 1h3m3 0h1m3 0h1m2 0h2m-15 1h1m3 0h2m3 0h3m-12 1h1m10 0h1m1 0h2m-15 1h1m13 1h1m1 0h1m-3 1h3m-1 1h1m-18 1h1m-2 1h1m-2 1h2m-2 1h3m15 1h1m-19 1h3m19 0h1m-24 1h4m18 0h2m-24 1h2m19 0h1m-22 1h2m1 0h1m17 0h4m27 0h1m-50 1h1m17 0h1m34 0h4m-56 1h1m15 0h1m34 0h2m2 0h1m4 0h1m-60 1h1m12 0h1m36 0h1m1 0h1m1 0h2m3 0h1m-60 1h1m2 0h1m6 0h2m40 0h2m2 0h1m2 0h1m-57 1h1m6 0h1m2 0h1m1 0h1m38 0h1m1 0h1m5 0h1m-60 1h1m2 0h1m3 0h1m1 0h2m36 0h2m3 0h5m1 0h2m6 0h1m1 0h1m-67 1h1m2 0h1m3 0h1m38 0h5m1 0h3m1 0h2m3 0h1m2 0h3m-70 1h1m2 0h1m2 0h2m5 0h1m-14 1h1m1 0h4m2 0h1m51 0h1m1 0h1m-61 1h1m3 0h1m50 0h2m2 0h1m-60 1h1m45 0h1m7 0h1m3 0h3m-59 1h1m49 0h1m6 0h1m-60 1h1m50 0h2m6 0h1m-8 1h1m1 0h1m-56 1h1m4 0h1m55 0h1m-61 1h1m1 0h2m-1 1h2m-1 1h1m-1 1h2m51 0h1m-1 1h1m-57 2h2m2 0h2m-5 1h2m1 1h2m-3 2h1m-4 1h3m3 0h1m-5 1h1m-3 1h2m-3 2h1" stroke="rgb(66,66,66)" stroke-width="1" fill="none"/>
<path transform="translate(0,.5)" d="M0 0m223 603h1m-3 1h1m1 0h1m-4 1h2m2 0h3m-9 1h3m2 0h1m5 0h3m-14 1h4m4 0h2m1 0h1m-11 1h3m6 0h4m-16 1h4m1 0h1m8 0h1m-15 1h1m2 0h1m1 0h1m8 0h1m-15 1h1m1 0h3m10 0h2m-16 1h1m15 0h2m-19 1h2m15 0h1m-18 1h1m16 0h1m-1 1h1m-20 1h2m1 0h2m14 0h1m-17 1h2m13 0h2m-16 1h1m14 0h1m-17 1h1m14 0h2m-17 1h1m13 0h3m-17 1h1m15 0h1m-16 1h2m1 0h1m49 0h1m-53 1h1m9 0h2m38 0h1m-53 1h1m9 0h1m44 0h2m-57 1h1m4 0h3m2 0h1m4 0h1m40 0h1m-52 1h2m1 0h3m44 0h1m-52 1h2m1 0h2m-4 1h1m1 0h2m-5 1h1m4 0h2m53 0h1m0 1h1m-62 6h1m5 7h2m-6 5h2" stroke="rgb(36,36,36)" stroke-width="1" fill="none"/>
<path transform="translate(0,.5)" d="M0 0m224 606h2m-4 1h4m-8 1h1m3 0h6m-8 1h1m1 0h8m-13 1h2m1 0h1m1 0h8m-13 1h1m3 0h10m-13 1h15m-15 1h15m-16 1h16m-16 1h16m-14 1h13m-13 1h13m-15 1h1m1 0h14m-15 1h14m-14 1h13m-13 1h15m-13 1h1m1 0h11m-13 1h9m-7 1h5m-2 1h2m-6 3h1" stroke="rgb(8,8,8)" stroke-width="1" fill="none"/>
<path d="M240.7 591.6V716.9M207.3 677.8H332.6" stroke="#555" stroke-width="0.9" fill="none"/>
<rect x="243.5" y="593.8" width="86.5" height="119.4" fill="none" stroke="#333" stroke-width="1.2" stroke-dasharray="3.1,2.8"/>
<rect x="207.3" y="591.6" width="125.3" height="125.3" fill="none" stroke="#666" stroke-width="1.0"/>
<text x="212.8" y="673.2" font-size="10.20" fill="#111">68%</text>
<text x="251.2" y="673.2" font-size="10.20" fill="#111">31%</text>
<text x="315.9" y="710.0" font-size="10.20" text-anchor="end" fill="#111">CD43 FITC</text>
<path d="M316.5 706.7H324.0" stroke="#222" stroke-width="0.9"/>
<path d="M326.5 706.7l-3.4 -1.7v3.4z" fill="#222"/>
<path transform="translate(0,.5)" d="M0 0m408 596h2m48 6h1m-1 1h1m-42 1h2m33 0h2m-37 1h2m33 0h1m-4 1h1m-3 1h3m-51 2h2m14 0h2m20 0h2m-2 1h1m-27 1h1m21 0h2m-24 1h1m21 0h2m5 0h1m-45 1h1m3 0h2m3 0h1m7 0h2m24 0h2m16 0h2m-63 1h2m2 0h1m6 0h2m40 0h2m-49 1h4m14 0h1m9 0h1m18 0h2m6 0h1m-63 1h1m6 0h3m1 0h1m8 0h2m3 0h1m8 0h2m7 0h2m6 0h1m2 0h2m13 0h1m-70 1h1m4 0h2m2 0h3m7 0h3m15 0h1m13 0h1m3 0h1m6 0h3m1 0h2m1 0h1m-72 1h2m1 0h2m2 0h1m1 0h1m1 0h2m2 0h2m6 0h2m14 0h3m11 0h1m3 0h2m4 0h1m6 0h1m2 0h1m-70 1h1m2 0h1m1 0h5m3 0h1m29 0h1m2 0h1m1 0h1m3 0h1m3 0h1m1 0h2m2 0h2m1 0h1m2 0h1m1 0h1m-71 1h2m1 0h2m7 0h1m1 0h1m2 0h2m24 0h3m1 0h1m1 0h2m1 0h1m2 0h1m4 0h1m6 0h1m2 0h2m-66 1h1m4 0h1m2 0h2m1 0h1m1 0h1m15 0h1m7 0h4m1 0h1m2 0h1m1 0h2m4 0h1m3 0h2m1 0h1m3 0h1m1 0h1m-75 1h4m3 0h2m4 0h5m1 0h2m16 0h1m7 0h2m3 0h3m10 0h2m2 0h1m2 0h1m2 0h1m1 0h1m-75 1h2m1 0h3m3 0h1m1 0h1m4 0h4m21 0h1m1 0h5m15 0h1m3 0h2m4 0h2m-75 1h6m2 0h1m7 0h4m21 0h1m1 0h2m20 0h2m1 0h2m3 0h2m1 0h1m-78 1h4m3 0h2m1 0h2m4 0h4m30 0h1m18 0h2m1 0h1m1 0h1m3 0h3m-81 1h1m6 0h3m6 0h3m18 0h1m7 0h1m2 0h3m15 0h1m2 0h4m2 0h1m1 0h1m1 0h1m-80 1h1m7 0h4m4 0h3m1 0h2m14 0h1m1 0h1m4 0h1m1 0h1m26 0h1m1 0h1m1 0h1m1 0h3m-76 1h2m1 0h2m1 0h1m1 0h1m22 0h2m3 0h2m1 0h3m25 0h1m3 0h2m1 0h1m-75 1h2m2 0h5m18 0h2m2 0h3m2 0h5m22 0h1m3 0h2m2 0h1m-79 1h2m6 0h2m1 0h5m19 0h1m2 0h3m4 0h1m1 0h1m27 0h1m-71 1h3m5 0h3m19 0h1m2 0h1m3 0h2m1 0h1m30 0h1m-73 1h2m6 0h4m18 0h1m3 0h2m1 0h2m34 0h2m-46 1h1m5 0h1m1 0h1m1 0h1m1 0h1m30 0h1m2 0h1m4 0h2m-74 1h2m19 0h1m2 0h1m4 0h1m1 0h2m31 0h4m-68 1h3m20 0h2m5 0h1m32 0h1m2 0h3m-51 1h2m10 0h1m32 0h1m1 0h1m1 0h1m1 0h2m-52 1h1m3 0h1m2 0h2m2 0h1m1 0h1m30 0h1m3 0h1m2 0h1m-62 1h2m2 0h1m8 0h2m2 0h2m1 0h2m35 0h2m-55 1h1m9 0h2m1 0h2m1 0h2m34 0h1m1 0h1m1 0h1m-57 1h1m9 0h2m1 0h1m3 0h1m2 0h1m29 0h1m1 0h1m3 0h1m-58 1h2m3 0h2m2 0h1m1 0h2m1 0h1m1 0h1m-9 1h1m1 0h5m1 0h2m2 0h1m31 0h2m-52 1h1m5 0h4m1 0h1m4 0h3m32 0h1m4 0h2m-58 1h3m3 0h1m2 0h1m1 0h1m40 0h3m1 0h2m-57 1h3m7 0h1m42 0h1m-55 1h4m1 0h1m5 0h1m5 0h1m33 0h3m-55 1h1m1 0h3m1 0h1m3 0h3m37 0h3m1 0h1m-46 1h1m41 0h1m1 0h1m-55 1h2m1 0h1m6 0h1m-8 1h4m1 0h1m1 0h1m39 0h1m1 0h1m2 0h2m-53 1h5m1 0h1m38 0h1m5 0h2m1 0h1m-59 1h1m4 0h1m2 0h3m37 0h2m2 0h1m-53 1h1m3 0h1m1 0h1m1 0h3m35 0h1m1 0h1m2 0h1m1 0h1m1 0h1m-50 1h1m1 0h1m8 0h1m33 0h1m1 0h1m1 0h1m-56 1h1m3 0h1m1 0h2m2 0h1m39 0h1m1 0h4m-56 1h1m4 0h6m1 0h3m1 0h1m32 0h1m1 0h1m2 0h2m-53 1h4m1 0h1m2 0h2m1 0h3m2 0h1m-17 1h2m5 0h4m5 0h3m26 0h2m-47 1h2m4 0h1m1 0h2m1 0h1m3 0h2m26 0h1m2 0h1m-44 1h3m2 0h1m1 0h1m1 0h1m3 0h1m1 0h2m21 0h1m-39 1h1m1 0h1m5 0h1m3 0h6m8 0h2m10 0h1m-38 1h2m2 0h3m2 0h1m2 0h5m7 0h3m8 0h2m1 0h2m13 0h1m-53 1h6m2 0h5m1 0h3m3 0h2m2 0h1m1 0h3m5 0h1m1 0h1m2 0h1m11 0h2m-58 1h2m3 0h2m2 0h2m1 0h1m1 0h1m2 0h3m2 0h3m2 0h2m8 0h2m1 0h4m-45 1h2m3 0h1m3 0h3m3 0h1m1 0h3m1 0h4m1 0h2m2 0h2m5 0h4m5 0h1m-43 1h2m6 0h2m1 0h2m2 0h3m4 0h4m2 0h1m2 0h4m1 0h1m1 0h2m2 0h1m-42 1h3m4 0h2m2 0h1m2 0h1m2 0h1m2 0h1m2 0h1m9 0h2m3 0h1m8 0h2m-48 1h2m2 0h6m1 0h1m1 0h1m4 0h1m5 0h1m2 0h1m1 0h1m3 0h1m12 0h2m-41 1h3m1 0h1m1 0h1m4 0h1m5 0h1m5 0h2m1 0h1m-32 1h1m4 0h2m3 0h1m4 0h1m2 0h1m3 0h5m5 0h1m1 0h2m3 0h2m-41 1h1m2 0h1m1 0h1m7 0h2m1 0h2m4 0h1m3 0h1m1 0h1m1 0h1m1 0h2m-33 1h3m1 0h1m7 0h1m1 0h1m6 0h2m3 0h1m4 0h1m1 0h1m4 0h1m-39 1h2m3 0h1m11 0h2m2 0h3m8 0h1m4 0h2m-45 1h1m1 0h1m8 0h1m8 0h1m7 0h2m2 0h1m-33 1h5m3 0h4m7 0h1m1 0h1m1 0h1m7 0h1m1 0h1m-30 1h2m2 0h4m2 0h2m2 0h2m1 0h1m1 0h1m8 0h2m-30 1h2m8 0h2m2 0h3m12 0h1m-28 1h2m4 0h1m1 0h2m2 0h2m4 0h2m-20 1h1m5 0h2m1 0h2m1 0h2m4 0h1m2 0h3m3 0h1m-32 1h1m3 0h2m4 0h3m1 0h1m1 0h5m1 0h1m3 0h2m3 0h1m1 0h2m-35 1h1m11 0h2m3 0h4m-11 1h2m1 0h1m3 0h4m-11 1h1m3 0h5m2 0h2m5 0h1m1 0h1m-27 1h2m2 0h1m2 0h2m3 0h1m2 0h1m7 0h4m-26 1h3m1 0h1m1 0h3m5 0h2m2 0h1m3 0h1m-32 1h2m8 0h1m1 0h5m5 0h1m2 0h1m1 0h5m-19 1h3m1 0h2m2 0h1m1 0h3m1 0h1m1 0h3m4 0h1m-29 1h3m2 0h2m3 0h6m4 0h1m1 0h1m5 0h1m-29 1h1m4 0h2m1 0h3m5 0h2m3 0h1m-19 1h2m2 0h1m1 0h1m1 0h5m2 0h1m10 0h2m-29 1h1m1 0h1m1 0h3m3 0h2m1 0h2m1 0h2m2 0h1m-21 1h3m2 0h2m2 0h2m2 0h1m5 0h1m1 0h1m-17 1h2m2 0h4m2 0h1m4 0h1m-17 1h3m1 0h2m2 0h1m1 0h1m-9 1h1m-12 1h2m3 0h1m-1 1h1m1 0h1m1 0h1m7 0h3m3 0h1m-17 1h2m8 0h2m4 0h1m-15 2h1m9 0h1m9 0h2m-22 1h1m9 0h1m8 0h3m-25 1h2m22 0h1m-25 1h2m1 0h1m20 0h1m-22 1h1m10 1h1m9 0h2m-12 1h1" stroke="rgb(224,224,224)" stroke-width="1" fill="none"/>
<path transform="translate(0,.5)" d="M0 0m401 614h1m54 0h3m-3 1h1m-52 1h1m57 0h1m-4 1h1m2 0h1m-63 1h1m4 0h2m27 0h1m21 0h3m2 0h1m-62 1h1m5 0h3m36 0h1m4 0h1m5 0h2m2 0h1m-60 1h1m1 0h5m1 0h1m39 0h2m1 0h1m1 0h1m2 0h1m7 0h1m-65 1h1m3 0h2m1 0h2m4 0h1m30 0h1m2 0h1m2 0h1m4 0h2m5 0h1m1 0h1m1 0h1m-70 1h1m6 0h2m40 0h1m7 0h1m4 0h1m1 0h2m4 0h1m-75 1h1m2 0h1m3 0h3m33 0h1m5 0h5m6 0h1m2 0h1m1 0h2m3 0h1m5 0h1m-77 1h1m7 0h1m34 0h1m3 0h4m14 0h1m7 0h1m2 0h1m-68 1h1m32 0h1m5 0h2m16 0h1m1 0h1m4 0h1m-64 1h2m31 0h2m22 0h2m4 0h1m2 0h1m3 0h1m-74 1h1m29 0h1m6 0h1m1 0h4m21 0h1m1 0h1m3 0h1m-71 1h1m4 0h1m34 0h1m19 0h2m2 0h1m1 0h3m-69 1h2m38 0h1m23 0h1m2 0h2m-72 1h1m3 0h1m23 0h1m11 0h1m1 0h1m-3 1h1m-12 1h1m4 0h1m2 0h3m30 0h1m-37 1h1m3 0h1m-5 1h1m39 0h1m-38 1h4m-4 1h2m-2 1h1m2 0h1m25 0h1m1 0h1m1 0h2m-34 1h1m1 0h1m27 0h4m-35 1h3m29 0h1m4 0h1m-42 1h1m3 0h2m1 0h2m28 0h1m2 0h2m-39 1h1m1 0h2m29 0h3m-45 1h1m5 0h1m2 0h2m1 0h1m29 0h1m-40 1h1m1 0h1m2 0h1m3 0h1m29 0h2m-41 1h1m1 0h1m3 0h1m34 0h1m-40 1h1m38 0h1m1 0h1m-42 1h2m2 0h1m-17 1h1m11 0h1m3 0h1m31 0h1m3 0h1m-43 1h3m-1 1h1m1 0h3m33 0h1m-44 1h1m8 0h2m29 0h1m1 0h1m-43 1h1m4 0h2m34 0h3m-42 1h2m2 0h1m30 0h2m3 0h1m6 0h2m-55 1h1m7 0h1m2 0h1m1 0h2m29 0h2m3 0h1m-51 1h2m3 0h2m2 0h2m1 0h1m1 0h2m27 0h4m-46 1h1m2 0h2m4 0h4m1 0h2m28 0h1m-39 1h1m3 0h1m1 0h1m1 0h3m31 0h1m-45 1h2m6 0h2m1 0h3m4 0h1m15 0h2m1 0h4m2 0h2m-46 1h1m5 0h1m1 0h3m28 0h1m-40 1h1m6 0h1m4 0h3m24 0h2m-37 1h1m5 0h1m1 0h1m2 0h1m13 0h1m-31 1h1m4 0h2m10 0h2m5 0h1m10 0h1m-26 1h2m5 0h1m2 0h2m1 0h1m3 0h2m-21 1h1m5 0h1m3 0h1m1 0h1m5 0h1m6 0h2m3 0h2m-33 1h1m1 0h1m6 0h2m7 0h3m-21 1h2m6 0h1m4 0h1m2 0h2m2 0h1m3 0h1m-23 1h1m3 0h1m3 0h2m1 0h1m7 0h2m4 0h1m-26 1h2m1 0h1m5 0h1m12 0h2m4 0h1m-25 1h1m12 0h2m4 0h2m-21 1h1m1 0h1m4 0h1m5 0h1m1 0h1m4 0h1m-4 1h1m2 0h2m-26 1h1m16 0h1m7 0h1m2 0h2m-30 1h1m7 0h1m18 0h1m-18 2h1m-2 1h1m11 0h1m-13 1h1m-14 3h1m7 1h1m20 1h1m-23 1h1m-2 1h3m5 0h2m-8 1h1m6 0h3m-19 1h1m16 0h2m-4 1h2m1 0h1m-5 1h1m1 1h2m3 0h1m-11 1h3m-11 2h1m10 0h1m1 1h1m5 0h1m-13 1h1m4 0h2m-12 1h1m9 0h1m-11 3h1" stroke="rgb(191,191,191)" stroke-width="1" fill="none"/>
<path transform="translate(0,.5)" d="M0 0m460 618h1m-11 1h1m3 0h1m11 0h1m-64 1h1m39 0h1m-40 1h1m42 0h1m5 0h1m-49 1h1m43 0h3m1 0h1m3 0h1m2 0h1m-12 1h1m4 0h1m-53 1h1m38 0h1m-3 1h2m19 0h1m9 0h3m-32 1h2m3 0h2m12 0h1m-16 1h3m13 0h1m2 0h1m-22 1h1m3 0h1m16 0h1m-24 1h1m1 0h1m18 0h1m1 0h1m-65 1h1m41 0h1m24 0h1m-28 1h1m25 0h1m1 0h1m-28 1h1m23 0h2m-28 1h1m1 0h2m25 0h1m1 0h2m-34 1h2m28 0h1m-2 1h1m-30 1h1m26 0h1m1 0h1m3 0h1m-34 1h1m1 0h1m25 0h1m4 0h1m-36 1h1m1 0h1m27 0h1m-28 1h2m26 0h1m1 0h1m-29 1h1m25 0h1m-36 1h1m6 0h1m25 0h1m-26 1h1m24 0h2m-35 1h2m33 0h1m-36 1h2m2 0h3m-7 1h5m34 0h1m-39 1h2m2 0h1m1 0h1m26 0h4m-38 1h1m1 0h1m1 0h1m2 0h1m-12 1h1m3 0h4m1 0h3m28 0h1m-37 1h1m3 0h1m2 0h1m26 0h2m-37 1h3m5 0h2m-13 1h1m1 0h1m9 0h2m-12 1h2m1 0h1m1 0h1m4 0h2m25 0h1m-40 1h2m1 0h2m1 0h1m2 0h2m2 0h1m-13 1h1m2 0h1m4 0h2m1 0h1m30 0h1m-44 1h3m4 0h1m2 0h1m-4 1h1m3 0h1m2 0h1m1 0h1m17 0h1m-23 1h1m1 0h2m15 0h1m-34 1h1m5 0h1m6 0h2m1 0h1m2 0h1m14 0h1m2 0h1m-31 1h2m5 0h1m20 0h2m-30 1h1m7 0h1m1 0h1m4 0h2m5 0h1m-24 1h3m8 0h2m6 0h1m1 0h2m3 0h1m1 0h1m-30 1h2m9 0h2m2 0h1m6 0h1m3 0h2m-28 1h1m11 0h1m10 0h1m-3 1h2m2 0h1m2 0h1m-27 1h1m18 0h1m1 0h1m-19 1h1m6 0h1m-7 1h1m5 0h1m11 1h1m-5 1h1m-9 1h1m10 1h1m-23 14h1m3 5h1" stroke="rgb(158,158,158)" stroke-width="1" fill="none"/>
<path transform="translate(0,.5)" d="M0 0m461 618h1m-8 2h1m10 0h1m-61 1h1m59 0h1m-62 1h1m47 0h1m1 0h1m-5 1h2m1 0h1m2 0h2m-12 1h2m6 0h2m3 0h1m-22 1h1m3 0h1m3 0h2m1 0h1m5 0h1m6 0h1m-8 1h1m-1 1h1m6 0h2m1 0h1m-22 1h1m1 0h1m14 0h1m-16 1h2m8 0h1m8 0h1m-23 1h1m1 0h2m16 0h1m-23 1h1m23 0h1m1 0h1m-28 1h1m1 0h1m1 0h1m19 0h1m-25 1h1m2 0h2m19 0h2m-26 1h1m26 0h1m-28 1h1m-2 1h1m26 0h1m-26 1h1m-2 1h1m24 0h1m-25 1h1m-6 2h1m3 0h2m25 0h1m-29 1h1m1 0h1m25 0h1m-29 1h3m24 0h1m-33 1h1m2 1h2m27 0h4m-32 1h1m-6 1h1m3 0h1m28 0h1m-31 1h1m30 0h1m-31 1h2m1 0h1m23 0h2m2 0h1m-41 1h1m5 0h1m2 0h1m-9 1h1m3 0h4m2 0h1m23 0h1m1 0h1m-32 1h1m1 0h4m-1 1h1m-12 1h1m10 0h1m1 0h1m21 0h1m-25 1h1m0 1h1m2 0h1m1 0h1m12 0h1m2 0h1m7 0h1m-29 1h1m3 0h1m7 0h1m3 0h2m3 0h1m-22 1h1m1 0h2m1 0h1m14 0h1m-21 1h1m1 0h1m3 0h1m1 0h1m-16 1h1m7 0h1m7 0h1m2 0h1m5 0h2m-16 1h3m4 0h1m2 0h1m1 0h1m-4 1h1m1 1h1m-3 1h1m-2 1h1m-10 5h1" stroke="rgb(128,128,128)" stroke-width="1" fill="none"/>
<path transform="translate(0,.5)" d="M0 0m454 621h2m-1 1h1m-4 1h1m-5 1h3m2 0h1m2 0h3m-18 1h1m6 0h1m1 0h1m5 0h1m2 0h1m-12 1h2m1 0h2m3 0h4m-11 1h1m1 0h1m8 0h1m-16 1h1m2 0h2m2 0h5m3 0h1m4 0h1m-22 1h2m2 0h2m5 0h1m1 0h1m3 0h1m-18 1h1m10 0h3m8 0h1m-25 1h4m17 0h2m-26 1h1m3 0h1m19 0h1m3 0h2m-24 1h1m17 0h1m2 0h2m-27 1h1m1 0h1m18 0h5m-4 1h2m1 0h1m-27 1h1m22 0h2m-2 1h2m-24 1h1m0 1h2m22 0h1m-25 1h1m21 0h3m-3 1h1m1 0h1m-25 1h2m20 0h1m-26 2h1m1 0h2m21 0h1m2 0h3m-31 1h1m2 0h2m21 0h1m-26 1h1m2 0h1m-6 1h1m1 0h1m3 0h1m-5 1h1m24 0h2m-39 1h3m30 0h1m-33 1h2m7 0h1m2 0h1m19 0h5m-29 1h2m3 0h1m21 0h1m-23 1h2m18 0h1m-23 1h1m21 0h1m-4 1h1m1 0h2m-23 1h5m16 0h2m2 0h1m-25 1h1m11 0h1m1 0h1m3 0h2m2 0h3m-11 1h2m-10 1h1m8 0h2m1 0h1m2 0h1m-21 1h1m1 0h3m1 0h1m4 0h2m5 0h1m-17 1h4m3 0h1m4 1h1m-1 1h1m-2 1h1m-1 1h1" stroke="rgb(97,97,97)" stroke-width="1" fill="none"/>
<path transform="translate(0,.5)" d="M0 0m451 624h2m-2 1h1m1 0h2m2 0h2m-9 1h1m-3 1h1m1 0h1m1 0h1m1 0h1m1 0h1m1 0h2m-10 1h2m7 0h1m-10 1h1m1 0h3m4 0h2m-14 1h3m9 0h4m1 0h2m-20 1h4m9 0h2m-16 1h1m1 0h1m11 0h2m1 0h1m-14 1h1m-8 1h1m1 0h1m14 0h1m-19 1h1m20 0h1m2 0h1m-25 1h1m0 1h2m-2 1h4m17 0h2m-1 1h2m-23 1h1m19 0h1m-22 1h2m-2 2h2m19 0h3m-26 1h1m2 0h1m19 0h1m-24 1h2m2 0h1m17 0h3m-24 1h2m1 0h1m20 0h1m-25 1h3m21 0h1m-25 1h2m18 0h1m2 0h1m-23 1h3m17 0h2m-22 1h3m-2 1h1m3 0h1m13 0h2m-19 1h1m16 0h1m-20 1h2m15 0h1m-17 1h2m13 0h1m1 0h1m-16 1h1m12 0h3m2 0h2m-17 1h1m5 0h1m1 0h2m-12 1h3m3 0h1m1 0h1m-7 1h1m2 0h5m2 0h1m-9 1h2m3 0h5m-8 1h1m3 0h1m1 0h1m-4 2h1" stroke="rgb(66,66,66)" stroke-width="1" fill="none"/>
<path transform="translate(0,.5)" d="M0 0m452 625h1m0 1h2m-2 1h1m3 0h1m-1 1h2m-8 1h1m6 0h1m-9 1h5m3 0h1m-9 1h2m3 0h4m2 0h2m-17 1h1m1 0h3m2 0h2m2 0h2m2 0h1m-16 1h3m1 0h1m2 0h2m2 0h6m-18 1h5m8 0h1m1 0h2m-20 1h3m3 0h2m9 0h1m-18 1h4m13 0h1m2 0h1m-19 1h4m11 0h1m2 0h1m-1 1h1m-19 1h1m18 0h1m-20 1h1m16 0h2m-19 1h1m18 0h1m-20 1h1m18 0h1m-2 1h1m-1 1h1m2 0h2m-7 1h2m-2 1h5m-20 1h1m15 0h2m1 0h1m-22 1h3m12 0h1m1 0h1m1 0h2m-23 1h1m6 0h1m-3 1h2m9 0h1m-14 1h1m1 0h1m1 0h1m7 0h3m1 0h1m-16 1h3m2 0h1m4 0h6m-17 1h1m4 0h2m1 0h1m3 0h1m1 0h1m1 0h2m-20 1h1m2 0h1m3 0h2m1 0h1m4 0h1m-12 1h5m2 0h5m-12 1h2m1 0h2m1 0h1m-2 1h1m-3 1h2m1 1h1m4 1h1" stroke="rgb(36,36,36)" stroke-width="1" fill="none"/>
<path transform="translate(0,.5)" d="M0 0m452 631h3m-4 1h2m2 0h2m-6 1h2m2 0h2m-7 1h8m-13 1h3m2 0h9m1 0h2m-16 1h13m1 0h2m-14 1h11m1 0h2m-16 1h16m-17 1h18m-18 1h16m-16 1h18m-18 1h18m-19 1h18m-18 1h18m-17 1h15m-15 1h15m-14 1h15m2 0h1m-18 1h12m1 0h1m-15 1h3m1 0h12m-16 1h1m2 0h9m1 0h3m-16 1h1m3 0h7m3 0h1m-12 1h2m1 0h4m-10 1h4m2 0h1m1 0h3m1 0h1m-12 1h3m2 0h1m1 0h4m-6 1h2m-2 1h1m-3 1h2" stroke="rgb(8,8,8)" stroke-width="1" fill="none"/>
<path d="M421.7 590.9V716.8M388.9 677.1H513.8" stroke="#555" stroke-width="0.9" fill="none"/>
<rect x="388.9" y="590.9" width="124.9" height="125.9" fill="none" stroke="#111" stroke-width="1.5"/>
<text x="508.8" y="607.2" font-size="13.50" font-weight="bold" text-anchor="end" fill="#111">98%</text>
<text x="498.1" y="711.5" font-size="10.20" text-anchor="end" fill="#111">CD43 FITC</text>
<path d="M498.7 708.2H506.2" stroke="#222" stroke-width="0.9"/>
<path d="M508.7 708.2l-3.4 -1.7v3.4z" fill="#222"/>
<text transform="translate(451.4,735.6) scale(1.090,1)" font-size="14.20" font-weight="bold" text-anchor="middle" fill="#111">CD34<tspan font-size="9" dy="-5">+</tspan><tspan dy="5">CD43</tspan><tspan font-size="9" dy="-5">+</tspan></text>
<rect x="56.1" y="768.8" width="88.0" height="121.2" fill="#f1f1f1"/>
<path transform="translate(0,.5)" d="M0 0m77 781h1m-1 1h1m10 4h2m-15 6h2m16 0h1m-1 1h1m-29 3h2m11 0h2m-1 1h1m8 4h1m-1 1h1m-45 2h2m34 0h1m-41 1h1m3 0h2m12 0h1m16 0h2m1 0h3m-42 1h1m1 0h1m4 0h2m1 0h2m27 0h1m3 0h2m-44 1h2m4 0h2m1 0h3m30 0h2m-43 1h1m8 0h1m23 0h2m6 0h1m-38 1h2m28 0h1m-40 1h1m5 0h1m2 0h2m1 0h2m25 0h2m-45 1h1m1 0h1m2 0h1m3 0h1m4 0h1m1 0h2m26 0h2m-46 1h2m3 0h2m2 0h1m4 0h1m30 0h2m10 0h1m1 0h1m-55 1h2m1 0h1m1 0h6m1 0h3m24 0h3m5 0h2m3 0h2m-58 1h2m3 0h3m1 0h1m8 0h1m23 0h3m2 0h2m8 0h2m-59 1h2m3 0h1m1 0h1m2 0h1m5 0h1m1 0h1m22 0h3m3 0h3m1 0h1m-47 1h2m2 0h1m4 0h3m2 0h2m27 0h4m-42 1h1m5 0h1m2 0h2m26 0h1m1 0h2m10 0h2m-64 1h3m8 0h1m1 0h9m24 0h1m2 0h3m3 0h2m2 0h1m3 0h1m-62 1h3m2 0h3m3 0h2m2 0h1m27 0h2m1 0h4m3 0h4m1 0h1m-63 1h2m1 0h1m1 0h1m1 0h1m7 0h6m20 0h2m4 0h4m1 0h1m8 0h1m6 0h1m-69 1h2m1 0h1m1 0h2m2 0h2m4 0h1m1 0h1m3 0h1m4 0h1m14 0h2m4 0h4m1 0h1m11 0h2m1 0h2m3 0h1m-52 1h1m20 0h1m4 0h2m3 0h4m2 0h3m2 0h1m1 0h1m4 0h3m-67 1h1m14 0h2m18 0h1m1 0h1m3 0h2m2 0h5m2 0h3m3 0h1m5 0h2m-69 1h1m1 0h1m15 0h2m11 0h2m5 0h3m3 0h2m2 0h1m7 0h1m-57 1h1m1 0h1m1 0h1m12 0h1m8 0h1m12 0h4m3 0h3m2 0h1m3 0h1m7 0h3m-66 1h1m1 0h1m1 0h1m12 0h3m6 0h2m11 0h3m1 0h3m4 0h7m7 0h1m1 0h1m-67 1h1m1 0h1m1 0h1m15 0h1m16 0h1m1 0h1m1 0h1m3 0h1m4 0h6m9 0h1m-66 1h1m1 0h3m13 0h1m18 0h3m2 0h1m1 0h1m6 0h4m-38 1h1m1 0h2m17 0h2m2 0h2m5 0h2m7 0h1m7 0h2m-68 1h1m4 0h1m12 0h1m19 0h2m4 0h1m4 0h1m1 0h1m1 0h3m2 0h1m-60 1h1m1 0h1m16 0h1m19 0h4m1 0h1m3 0h1m2 0h1m1 0h1m1 0h1m6 0h1m-62 1h1m15 0h2m11 0h1m5 0h1m2 0h1m1 0h5m1 0h1m4 0h5m5 0h1m-63 1h1m16 0h2m5 0h2m4 0h1m5 0h1m1 0h1m5 0h2m10 0h1m-56 1h4m7 0h2m24 0h1m8 0h7m3 0h1m1 0h3m4 0h2m-68 1h1m3 0h1m11 0h2m2 0h5m13 0h2m7 0h1m2 0h1m2 0h2m1 0h1m1 0h1m1 0h3m3 0h1m-50 1h2m1 0h4m1 0h1m1 0h1m4 0h1m12 0h4m1 0h2m1 0h3m3 0h2m2 0h1m2 0h1m-68 1h2m15 0h1m2 0h2m1 0h1m1 0h1m1 0h2m4 0h1m2 0h2m5 0h1m1 0h2m1 0h1m3 0h1m1 0h9m1 0h1m7 0h2m-75 1h1m15 0h1m3 0h4m4 0h1m1 0h1m12 0h1m1 0h1m1 0h2m4 0h6m2 0h1m11 0h2m-76 1h1m1 0h1m11 0h4m5 0h1m3 0h1m1 0h3m6 0h5m1 0h1m1 0h3m1 0h2m1 0h3m4 0h3m9 0h1m-76 1h2m3 0h1m1 0h2m11 0h1m1 0h1m1 0h2m2 0h1m1 0h2m10 0h1m2 0h2m3 0h1m1 0h4m1 0h1m1 0h7m2 0h2m5 0h2m-77 1h2m4 0h1m2 0h1m13 0h1m1 0h3m1 0h1m5 0h1m7 0h3m1 0h2m1 0h1m2 0h1m1 0h2m1 0h3m1 0h4m2 0h3m10 0h1m-76 1h1m17 0h2m10 0h2m1 0h1m4 0h1m2 0h1m2 0h1m2 0h1m1 0h2m1 0h10m1 0h1m1 0h1m9 0h1m-76 1h3m16 0h1m3 0h2m6 0h1m2 0h1m8 0h1m1 0h1m1 0h2m1 0h1m2 0h3m1 0h1m1 0h1m2 0h1m2 0h1m4 0h2m-74 1h2m1 0h2m9 0h1m6 0h1m4 0h2m4 0h5m6 0h2m2 0h1m1 0h1m1 0h1m2 0h3m4 0h4m8 0h1m-74 1h1m2 0h1m1 0h1m1 0h1m2 0h1m1 0h2m9 0h4m3 0h1m11 0h1m1 0h1m3 0h1m1 0h1m2 0h1m3 0h3m2 0h1m1 0h3m2 0h2m1 0h1m-74 1h1m4 0h2m5 0h1m6 0h1m5 0h1m1 0h1m4 0h1m15 0h2m1 0h1m4 0h2m1 0h3m1 0h2m1 0h1m1 0h3m-71 1h2m3 0h1m20 0h3m19 0h1m4 0h3m5 0h2m1 0h1m1 0h1m1 0h3m-69 1h3m23 0h1m14 0h1m1 0h3m17 0h2m-66 1h1m2 0h1m21 0h1m2 0h1m14 0h2m8 0h1m2 0h1m1 0h1m1 0h2m4 0h2m-68 1h1m3 0h1m16 0h2m18 0h2m2 0h1m6 0h2m1 0h1m1 0h1m2 0h3m3 0h2m5 0h2m-74 1h1m2 0h1m21 0h4m12 0h1m11 0h2m1 0h1m1 0h2m1 0h1m11 0h1m-74 1h1m1 0h3m22 0h1m1 0h1m3 0h1m10 0h2m1 0h1m5 0h3m-52 1h1m19 0h1m3 0h2m3 0h1m10 0h1m3 0h1m4 0h1m4 0h1m-61 1h1m25 0h1m3 0h1m18 0h2m5 0h1m1 0h4m-62 1h1m2 0h1m1 0h1m34 0h1m2 0h1m4 0h1m4 0h2m1 0h1m7 0h2m-67 1h1m2 0h1m1 0h1m18 0h1m5 0h1m9 0h1m1 0h2m1 0h1m3 0h1m4 0h2m2 0h1m3 0h2m2 0h1m-68 1h1m1 0h1m1 0h1m19 0h1m4 0h1m1 0h2m8 0h3m1 0h1m8 0h1m1 0h1m2 0h1m1 0h1m1 0h2m1 0h3m3 0h1m-73 1h1m23 0h1m3 0h2m1 0h1m9 0h2m11 0h1m1 0h1m4 0h1m2 0h1m2 0h4m1 0h1m-72 1h1m22 0h4m1 0h1m1 0h1m19 0h2m1 0h2m13 0h1m-69 1h1m24 0h1m3 0h1m15 0h2m6 0h1m1 0h1m5 0h1m-62 1h1m26 0h1m25 0h3m5 0h1m-65 1h3m64 0h2m3 0h1m-74 1h1m29 0h1m1 0h2m20 0h2m12 0h1m4 0h1m-44 1h1m2 0h1m20 0h1m-54 1h1m25 0h1m2 0h1m14 0h2m10 0h1m16 0h1m-77 1h1m28 0h4m26 0h1m1 0h3m3 0h2m7 0h1m-49 1h1m1 0h1m20 0h1m11 0h1m4 0h1m-69 1h1m27 0h1m1 0h1m1 0h1m18 0h2m1 0h2m1 0h3m1 0h5m-67 1h1m25 0h2m1 0h1m1 0h1m26 0h5m1 0h3m-66 1h1m25 0h2m1 0h1m13 0h2m13 0h1m2 0h1m6 0h2m3 0h2m1 0h1m-77 1h1m25 0h3m15 0h1m13 0h1m17 0h1m-78 1h1m26 0h3m32 0h2m1 0h2m10 0h2m1 0h2m-82 1h1m26 0h3m36 0h1m10 0h1m-53 1h2m4 0h1m17 0h1m-50 1h1m23 0h2m2 0h4m16 0h2m1 0h2m-53 1h1m24 0h2m1 0h1m28 0h2m-59 1h1m22 0h1m2 0h1m1 0h1m28 0h3m-60 1h1m26 0h1m34 0h4m3 0h2m-71 1h1m62 0h2m-41 1h2m-26 1h1m20 0h1m1 0h1m-7 1h1m4 0h1m-23 1h1m18 0h1m2 0h1m-23 1h1m18 0h3m-22 1h1m16 0h3m52 1h2m-74 1h1m14 0h1m56 0h1m-73 1h1m14 0h1m-16 1h1m14 0h1m2 0h2m-4 1h1m1 0h2m-18 1h2m3 0h1m1 0h3m3 0h1m-12 1h2" stroke="rgb(224,224,224)" stroke-width="1" fill="none"/>
<path transform="translate(0,.5)" d="M0 0m79 798h1m-23 7h1m-18 1h1m10 2h1m-8 1h1m-2 1h2m-12 1h1m2 0h1m7 0h2m29 0h1m-34 1h4m-5 1h1m49 0h1m-51 1h1m5 0h4m-12 1h1m7 0h2m1 0h1m1 0h2m29 0h1m-41 1h2m5 0h2m-8 1h1m6 0h1m29 0h1m-47 1h2m42 0h1m-38 1h2m3 0h2m30 0h1m11 0h1m-58 1h1m3 0h2m1 0h2m13 0h1m24 0h1m-48 1h1m6 0h2m1 0h1m1 0h1m1 0h3m30 0h1m-46 1h1m1 0h2m5 0h2m3 0h1m28 0h3m-38 1h1m5 0h1m21 0h1m6 0h1m-46 1h1m2 0h1m3 0h1m8 0h1m28 0h2m7 0h1m-40 1h1m33 0h1m11 0h1m-54 1h2m31 0h1m22 0h1m-65 1h1m3 0h1m10 0h1m2 0h1m22 0h3m11 0h1m-56 1h1m3 0h1m10 0h2m1 0h2m22 0h1m6 0h1m-50 1h1m3 0h1m9 0h2m36 0h2m-51 1h1m7 0h1m2 0h1m1 0h1m32 0h1m-53 1h1m3 0h1m9 0h2m30 0h3m4 0h1m3 0h1m-55 1h1m13 0h1m29 0h1m-35 1h2m2 0h1m22 0h1m6 0h2m4 0h4m-51 1h1m10 0h2m1 0h2m18 0h1m14 0h3m-55 1h2m1 0h1m6 0h2m4 0h2m31 0h2m2 0h1m3 0h1m-59 1h2m8 0h1m3 0h2m2 0h1m6 0h1m22 0h1m2 0h1m3 0h1m4 0h2m-62 1h1m9 0h1m3 0h1m5 0h1m30 0h1m9 0h1m-64 1h2m9 0h1m2 0h1m13 0h1m14 0h1m1 0h1m12 0h2m-61 1h1m1 0h2m8 0h1m7 0h2m5 0h1m16 0h1m3 0h1m7 0h3m-57 1h1m2 0h1m8 0h2m23 0h2m2 0h3m6 0h1m1 0h1m-52 1h2m1 0h1m1 0h1m5 0h4m6 0h1m7 0h1m12 0h1m1 0h2m-27 1h3m9 0h1m9 0h2m1 0h2m17 0h1m-62 1h1m11 0h1m2 0h1m2 0h2m2 0h1m4 0h1m1 0h2m7 0h2m3 0h1m2 0h1m8 0h1m1 0h2m1 0h2m-65 1h1m2 0h2m5 0h2m1 0h1m1 0h2m1 0h1m2 0h1m1 0h1m22 0h1m11 0h1m4 0h2m5 0h1m-72 1h2m1 0h1m1 0h1m1 0h2m1 0h1m2 0h1m2 0h2m2 0h1m21 0h1m10 0h3m3 0h2m-62 1h1m1 0h2m5 0h2m1 0h2m1 0h1m1 0h1m5 0h1m1 0h1m4 0h1m22 0h2m2 0h1m3 0h1m2 0h1m-64 1h1m1 0h1m1 0h1m12 0h2m4 0h1m23 0h1m-24 1h2m16 0h1m8 0h3m-54 1h2m1 0h1m17 0h1m3 0h2m17 0h2m5 0h1m4 0h1m-57 1h1m1 0h1m1 0h1m17 0h4m1 0h1m27 0h1m-54 1h1m1 0h1m1 0h2m15 0h2m30 0h1m-55 1h1m15 0h1m6 0h1m3 0h1m-30 1h2m1 0h2m43 0h1m-49 1h1m2 0h3m14 0h2m32 0h1m-55 1h1m21 0h1m5 0h2m24 0h1m-56 1h1m23 0h1m1 0h1m3 0h1m9 0h1m2 0h1m11 0h2m7 0h1m-64 1h1m1 0h1m16 0h2m1 0h1m29 0h1m1 0h2m-57 1h2m21 0h1m4 0h1m24 0h1m-31 2h1m29 0h1m-29 1h1m41 0h1m-43 1h1m41 0h1m-46 1h1m44 0h1m-72 1h1m25 0h1m4 0h1m-31 1h1m22 0h2m1 0h1m-30 1h1m1 0h1m23 0h1m-28 1h1m26 0h1m1 0h1m2 0h1m28 0h2m-62 1h2m24 0h1m1 0h1m1 0h1m-30 1h1m24 0h1m1 0h1m-29 1h1m0 3h1m21 0h2m-27 1h1m27 0h3m-7 2h1m2 0h1m-6 1h1m1 0h2m-1 1h1m-1 1h1m-26 1h1m20 0h3m-4 1h1m1 0h1m-22 1h1m15 1h2m1 0h2m-5 1h1m4 0h1m-7 1h1m3 0h3m-23 1h1m15 0h1m-3 1h1m-3 2h1m-12 1h1m10 0h3m-9 1h1m1 0h1" stroke="rgb(191,191,191)" stroke-width="1" fill="none"/>
<path transform="translate(0,.5)" d="M0 0m42 811h1m7 6h1m-7 1h1m-1 1h1m-5 1h1m3 0h1m-7 1h1m4 0h1m-4 1h1m3 0h1m2 0h3m44 0h1m-58 1h1m3 0h1m4 0h1m33 0h1m-42 1h2m3 0h2m3 0h1m-16 1h1m5 0h2m-8 1h1m14 0h1m-11 1h1m3 0h1m6 0h2m-4 1h1m-14 1h1m1 0h1m1 1h2m5 0h2m1 0h1m-14 1h2m5 0h2m2 0h4m-16 1h1m1 0h1m7 0h2m-14 1h1m1 0h6m1 0h2m-1 1h1m2 0h2m2 0h1m-11 1h1m2 0h1m3 0h1m32 0h2m-47 1h2m2 0h4m1 0h3m9 0h1m-18 1h1m2 0h1m-4 1h1m3 0h2m-10 1h1m3 0h1m-2 1h2m1 0h3m-7 1h1m3 0h1m6 0h1m-16 1h1m2 0h3m2 0h4m2 0h1m1 0h1m-14 1h1m4 0h2m1 0h1m3 0h1m3 0h1m-16 1h4m8 0h1m2 0h1m1 0h1m-10 1h1m6 0h1m-22 1h1m5 0h2m12 0h2m-21 1h1m3 0h1m2 0h1m3 0h1m6 0h1m1 0h2m40 0h1m-61 1h1m1 0h2m5 0h1m1 0h1m3 0h1m-15 1h1m4 0h2m6 0h1m2 0h1m2 0h1m-19 1h4m10 0h1m-19 1h1m3 0h1m12 1h1m2 0h1m-21 1h1m15 0h1m3 0h1m1 0h1m-24 1h2m19 0h1m1 0h1m-24 1h1m18 0h1m2 0h1m1 0h1m-26 1h1m3 0h1m-7 1h1m4 0h1m14 0h1m4 0h1m1 0h1m-28 1h1m2 0h1m16 0h3m2 0h2m-26 1h1m27 0h1m-29 1h1m21 0h1m1 1h1m-26 1h1m22 0h1m-27 1h3m20 0h1m3 0h2m-2 1h1m0 1h1m-30 1h1m2 0h1m22 0h1m2 1h1m-29 1h1m21 0h2m-27 1h2m22 0h1m-23 1h1m22 0h1m-25 1h1m20 0h1m-23 1h1m24 0h1m-26 1h2m21 1h1m2 0h1m-2 1h2m-27 1h1m21 0h1m-22 1h1m24 0h1m-27 1h1m19 0h1m1 0h2m-5 1h2m-2 1h1m-4 1h1m-2 1h1m1 0h1m2 0h1m-21 1h1m14 0h1m-2 1h2m1 0h1m-18 3h1m-1 1h1m12 0h1m-2 1h2m-6 1h1m5 0h1" stroke="rgb(158,158,158)" stroke-width="1" fill="none"/>
<path transform="translate(0,.5)" d="M0 0m43 811h1m-1 9h1m-7 1h1m-1 1h1m3 0h2m-5 1h3m1 0h2m1 0h1m1 0h3m-12 1h1m4 0h1m4 0h1m-11 1h1m3 0h3m1 0h3m-11 1h2m1 0h1m2 0h1m2 0h1m-8 1h3m5 0h1m-10 1h1m3 0h1m-8 1h1m2 0h1m2 0h2m1 0h1m1 0h1m-12 1h1m4 0h1m1 0h2m-7 1h1m1 0h3m-7 1h1m5 0h1m4 0h1m-14 1h1m6 0h1m4 0h2m-9 1h2m1 0h1m-10 1h1m4 0h2m6 0h1m-10 1h1m-4 1h3m3 0h2m2 0h3m-14 1h1m1 0h2m4 0h1m-8 1h1m1 0h1m4 0h1m-6 1h1m3 0h1m-2 1h1m2 0h2m-10 1h2m4 0h1m4 0h1m2 0h1m-12 1h1m2 0h1m2 0h1m1 0h1m3 0h1m-9 1h1m4 1h1m-11 1h1m7 0h1m4 0h2m-14 1h2m2 0h2m2 0h2m4 0h1m-17 1h1m2 0h1m2 0h1m2 0h1m3 0h1m3 0h1m-17 1h2m1 0h1m7 0h1m1 0h2m2 0h1m-22 1h1m7 0h2m6 0h2m7 0h1m-16 1h1m6 0h5m-18 1h2m9 0h1m5 0h2m-19 1h2m9 0h1m1 0h3m1 0h1m-11 1h1m-9 1h1m15 0h1m2 0h1m-20 1h1m13 0h3m2 0h1m-8 1h1m6 0h1m-25 2h1m18 0h2m-22 2h1m21 0h1m-3 1h2m2 0h1m-5 1h2m-25 1h2m20 0h2m3 0h1m-27 1h1m20 0h1m-23 1h1m-4 1h1m1 0h2m19 1h1m-22 1h1m18 1h1m-21 1h2m17 0h1m1 0h1m1 0h1m-25 1h3m19 0h1m-21 1h1m-4 2h1m21 0h1m-23 2h1m19 0h1m0 1h1m-4 1h1m2 0h3m-6 1h1m-19 1h1m14 0h1m2 0h1m-18 1h1m16 0h2m-20 2h1m12 2h2m-3 1h1m-2 1h2m-13 1h1m6 0h2m-8 1h2m2 0h3m1 0h1m-7 1h2" stroke="rgb(128,128,128)" stroke-width="1" fill="none"/>
<path transform="translate(0,.5)" d="M0 0m43 822h1m-2 2h1m3 0h2m-9 1h1m5 0h1m-6 1h1m4 0h2m1 0h1m-5 1h4m-8 1h3m1 0h4m-8 1h1m5 0h1m-13 1h2m6 0h1m-4 1h1m-2 1h1m1 0h2m1 0h2m-7 2h1m2 0h1m-1 1h2m-5 1h1m-2 1h2m-5 1h1m3 0h1m1 0h1m-3 1h1m1 0h1m-4 1h1m2 1h1m5 1h1m-9 1h2m6 0h1m-1 1h1m2 1h2m-5 1h1m-7 1h1m3 0h1m2 0h1m-9 1h2m1 0h1m3 0h2m2 0h2m1 0h2m-17 1h1m3 0h2m1 0h1m-4 1h2m1 0h3m-9 1h1m1 0h1m4 0h1m-9 1h1m6 0h2m3 0h2m-14 1h1m4 0h3m-10 1h1m7 0h2m2 0h2m3 0h1m-11 1h3m3 0h1m-4 1h3m-15 1h2m-4 1h4m11 0h1m-17 1h3m14 0h1m-19 1h1m1 0h1m1 0h2m13 0h2m-21 1h1m18 0h2m1 0h1m-23 1h1m17 0h1m3 0h1m-25 1h1m-1 1h1m21 0h1m-4 1h1m-20 1h1m19 0h1m-25 1h1m2 0h1m17 0h2m1 0h1m-23 1h1m2 1h2m-6 1h1m19 0h2m-4 2h2m1 0h1m-2 1h1m-24 1h3m17 1h1m-20 1h1m19 0h1m-20 1h1m16 0h1m-19 1h2m16 0h1m-20 1h1m1 0h1m-3 1h1m16 0h1m-17 1h1m12 0h1m2 0h1m-16 1h1m-2 1h1m11 1h1m-14 1h1m13 0h1m-5 1h1m-10 1h2m8 0h1m-11 1h1m1 0h2m1 1h1m2 0h2m-7 1h1m5 0h1" stroke="rgb(97,97,97)" stroke-width="1" fill="none"/>
<path transform="translate(0,.5)" d="M0 0m41 829h1m2 0h1m-6 3h1m-3 6h1m-1 1h1m1 3h1m6 7h1m-3 1h1m-5 1h1m2 0h3m2 0h1m-10 1h1m4 0h1m-6 1h2m5 0h1m-10 1h1m4 0h1m4 0h1m-6 1h1m5 0h1m-13 1h2m0 1h3m5 0h1m-11 1h1m4 0h1m-8 1h2m-5 1h1m1 0h1m2 0h1m11 0h1m-18 1h4m13 0h1m-20 1h1m-1 1h2m16 0h1m-19 1h3m15 0h1m-20 1h1m15 1h4m-20 1h1m-2 1h4m14 0h1m-18 1h1m16 0h1m-18 1h3m12 0h1m-15 1h1m16 0h1m-21 1h2m-2 1h2m-3 1h1m15 0h2m-20 1h1m17 0h1m1 0h1m-5 1h4m-4 1h2m-2 1h2m-18 1h1m2 0h1m11 1h1m-15 1h1m10 0h1m-11 1h1m9 0h2m-13 1h1m11 0h1m-14 1h1m10 0h1m-12 1h3m6 0h4m-14 1h1m1 0h1m1 0h2m2 0h2m1 0h1m-9 1h2m5 0h1m-9 1h1m2 0h6m-10 1h5" stroke="rgb(66,66,66)" stroke-width="1" fill="none"/>
<path transform="translate(0,.5)" d="M0 0m44 849h1m2 2h1m-8 1h4m-3 1h2m-5 1h2m1 0h1m4 0h1m-11 1h2m8 0h2m-10 1h2m1 0h2m2 0h1m-10 1h2m3 0h2m2 0h1m-9 1h4m1 0h5m-11 1h1m3 0h6m1 0h1m-6 1h6m-13 1h1m7 0h5m-17 1h3m10 0h2m-15 1h3m11 0h1m-14 1h2m1 0h2m9 0h1m-18 1h4m8 0h1m3 0h2m-18 1h1m2 0h1m8 0h1m1 0h1m0 1h1m2 0h1m-6 1h1m-17 1h2m14 0h3m-3 1h1m-17 1h1m1 0h1m1 0h1m11 0h1m-15 1h3m9 0h3m-2 1h4m-19 1h2m12 0h1m2 0h2m-21 1h6m9 0h2m-17 1h1m2 0h3m8 0h1m-1 1h1m-12 1h1m9 0h2m-14 1h1m1 0h2m2 0h1m4 0h2m1 0h1m-17 1h6m2 0h1m3 0h3m-13 1h1m2 0h3m3 0h1m-9 1h1m1 0h2m1 0h4m-10 1h1m1 0h9m-12 1h2m1 0h1m4 0h2m-8 1h2m-5 1h1m1 0h1m2 0h2m4 0h1m-8 1h2m1 0h2m-7 3h1" stroke="rgb(36,36,36)" stroke-width="1" fill="none"/>
<path transform="translate(0,.5)" d="M0 0m40 854h1m-3 1h4m-2 1h1m2 0h2m-2 1h2m-8 2h3m6 0h1m-10 1h5m-6 1h7m-9 1h10m2 0h2m-14 1h11m1 0h1m-13 1h1m2 0h9m-13 1h8m1 0h3m-15 1h2m1 0h8m1 0h1m-14 1h15m-13 1h11m1 0h2m-14 1h11m-16 1h2m3 0h11m-15 1h1m3 0h11m-11 1h9m-12 1h13m-13 1h12m-10 1h9m-14 1h2m3 0h8m-13 1h13m-13 1h2m1 0h9m-8 1h2m1 0h4m2 0h1m-10 1h2m1 0h3m-9 1h2m3 0h3m-7 1h1m2 0h1m-5 1h1m-1 1h1m1 0h4m-4 1h4m-3 2h1" stroke="rgb(8,8,8)" stroke-width="1" fill="none"/>
<path d="M54.7 767.5V892.3M21.4 852.5H146.4" stroke="#555" stroke-width="0.9" fill="none"/>
<rect x="56.1" y="768.8" width="88.0" height="121.2" fill="none" stroke="#333" stroke-width="1.2" stroke-dasharray="3.1,2.8"/>
<rect x="21.4" y="767.5" width="125.0" height="124.8" fill="none" stroke="#666" stroke-width="1.0"/>
<text x="138.4" y="782.4" font-size="10.20" text-anchor="end" fill="#111">3%</text>
<text x="114.4" y="864.6" font-size="10.20" fill="#111">2%</text>
<text x="127.8" y="886.2" font-size="10.20" text-anchor="end" fill="#111">CD43 FITC</text>
<path d="M128.4 882.9H135.9" stroke="#222" stroke-width="0.9"/>
<path d="M138.4 882.9l-3.4 -1.7v3.4z" fill="#222"/>
<path transform="translate(0,.5)" d="M0 0m34 900h2m2 7h2m50 1h1m-1 1h1m-59 3h1m-1 1h1m2 0h1m59 0h1m-61 1h1m59 0h2m5 0h1m-68 1h2m65 0h1m-68 1h2m2 2h1m-2 1h2m2 0h2m35 2h2m-2 1h1m21 0h2m-10 1h2m6 0h2m-73 1h2m62 0h1m-69 1h2m3 0h2m2 0h2m49 0h2m-56 1h1m1 0h3m6 1h1m-16 1h1m13 0h1m35 0h1m8 0h1m-45 1h1m34 0h1m3 0h2m2 0h4m-52 1h1m6 0h2m20 0h1m10 0h2m2 0h6m3 0h1m-54 1h1m5 0h3m14 0h2m4 0h1m14 0h4m4 0h2m9 0h2m-30 1h2m1 0h1m6 0h1m1 0h1m4 0h2m7 0h4m3 0h2m-58 1h2m5 0h2m11 0h1m5 0h1m2 0h1m4 0h2m13 0h3m-45 1h1m12 0h1m7 0h1m1 0h1m4 0h1m17 0h2m-74 1h2m13 0h1m29 0h1m2 0h5m13 0h1m5 0h2m-70 1h3m38 0h1m1 0h4m1 0h1m12 0h1m1 0h1m5 0h1m1 0h1m-80 1h1m7 0h3m1 0h1m2 0h2m23 0h1m3 0h2m5 0h1m2 0h2m2 0h1m3 0h1m6 0h1m7 0h1m1 0h1m1 0h1m-82 1h2m8 0h1m1 0h1m4 0h3m14 0h2m3 0h1m1 0h1m15 0h2m3 0h1m6 0h1m6 0h2m-77 1h1m17 0h1m17 0h3m1 0h1m7 0h1m1 0h1m2 0h2m5 0h1m3 0h3m2 0h2m2 0h1m1 0h1m-76 1h1m34 0h3m1 0h2m8 0h2m3 0h3m3 0h1m1 0h2m1 0h1m1 0h2m1 0h4m1 0h1m-71 1h1m3 0h1m25 0h1m7 0h4m2 0h2m3 0h7m4 0h1m1 0h1m1 0h2m1 0h2m1 0h1m-71 1h1m3 0h1m33 0h1m2 0h1m1 0h3m3 0h1m1 0h4m7 0h1m1 0h1m4 0h2m4 0h1m-52 1h2m12 0h2m2 0h1m1 0h1m3 0h1m2 0h4m3 0h3m3 0h1m2 0h1m2 0h1m4 0h1m-72 1h2m28 0h1m7 0h3m3 0h1m3 0h2m6 0h1m1 0h3m4 0h2m4 0h1m-77 1h1m3 0h2m5 0h1m4 0h2m14 0h1m2 0h1m4 0h1m4 0h1m4 0h1m4 0h4m1 0h1m1 0h1m1 0h1m1 0h1m10 0h1m-78 1h1m5 0h2m2 0h2m5 0h1m14 0h1m6 0h2m2 0h1m1 0h1m2 0h1m2 0h1m6 0h3m2 0h3m1 0h1m-64 1h1m1 0h2m5 0h2m10 0h2m12 0h1m2 0h2m2 0h2m2 0h1m8 0h2m4 0h4m-65 1h5m5 0h2m14 0h2m4 0h1m1 0h1m3 0h2m1 0h2m1 0h2m2 0h1m4 0h1m1 0h1m1 0h4m1 0h1m1 0h1m1 0h1m5 0h1m-72 1h3m1 0h2m3 0h2m14 0h2m1 0h4m2 0h5m3 0h1m2 0h2m4 0h2m1 0h1m1 0h1m2 0h1m1 0h3m7 0h1m-75 1h2m1 0h1m3 0h2m20 0h1m2 0h4m3 0h3m6 0h2m4 0h1m2 0h3m2 0h1m1 0h2m3 0h1m-71 1h1m1 0h4m3 0h1m18 0h1m3 0h1m1 0h1m7 0h2m21 0h1m2 0h2m3 0h1m5 0h2m-86 1h2m3 0h1m1 0h1m2 0h2m2 0h1m6 0h1m9 0h1m1 0h1m3 0h1m6 0h2m1 0h2m15 0h1m2 0h1m7 0h1m1 0h2m-78 1h1m3 0h7m9 0h1m2 0h2m5 0h1m11 0h3m2 0h1m15 0h1m2 0h1m2 0h1m2 0h2m1 0h1m2 0h2m-80 1h3m2 0h3m2 0h1m25 0h3m1 0h1m6 0h1m12 0h2m4 0h2m3 0h3m2 0h1m1 0h2m-80 1h3m3 0h1m1 0h1m24 0h1m1 0h4m1 0h1m23 0h1m2 0h3m1 0h2m2 0h1m3 0h1m-79 1h3m3 0h1m1 0h1m22 0h3m1 0h1m1 0h3m2 0h3m17 0h2m4 0h3m3 0h1m-74 1h2m4 0h2m23 0h3m5 0h1m21 0h2m5 0h1m1 0h1m2 0h1m2 0h2m-78 1h1m3 0h4m23 0h2m4 0h2m6 0h1m24 0h1m4 0h3m-75 1h1m1 0h2m1 0h1m8 0h1m19 0h4m3 0h2m20 0h1m2 0h1m1 0h1m-68 1h1m1 0h5m5 0h1m1 0h1m11 0h1m2 0h1m6 0h1m25 0h1m2 0h4m2 0h2m-72 1h1m2 0h1m7 0h2m11 0h1m1 0h2m1 0h1m1 0h1m30 0h1m3 0h1m3 0h2m-73 1h3m1 0h1m7 0h2m12 0h4m2 0h1m30 0h2m1 0h1m2 0h1m-70 1h3m1 0h4m1 0h1m17 0h1m1 0h5m35 0h1m-73 1h1m2 0h1m1 0h1m1 0h4m21 0h5m30 0h1m11 0h2m-88 1h1m10 0h4m2 0h2m2 0h3m7 0h1m7 0h2m1 0h2m31 0h1m-75 1h1m5 0h1m3 0h2m4 0h2m3 0h2m7 0h1m6 0h1m1 0h2m32 0h2m2 0h1m1 0h1m-80 1h1m1 0h1m3 0h6m2 0h5m2 0h1m2 0h1m10 0h2m1 0h2m1 0h1m30 0h2m1 0h2m1 0h1m-78 1h2m3 0h2m7 0h5m4 0h1m10 0h1m3 0h2m1 0h2m29 0h2m1 0h2m-78 1h2m4 0h2m9 0h1m1 0h1m19 0h1m35 0h3m3 0h1m-77 1h1m1 0h1m9 0h1m17 0h1m1 0h1m35 0h1m1 0h2m4 0h1m-77 1h2m2 0h2m4 0h3m1 0h4m11 0h1m2 0h2m31 0h3m1 0h2m-67 1h2m1 0h3m4 0h4m9 0h4m1 0h2m-44 1h2m11 0h2m2 0h2m18 0h1m1 0h3m39 0h1m-70 1h3m2 0h1m2 0h4m13 0h5m37 0h1m2 0h2m-77 1h2m3 0h2m2 0h1m4 0h4m13 0h1m1 0h2m1 0h1m35 0h1m2 0h1m1 0h1m1 0h1m8 0h1m-89 1h2m4 0h1m2 0h1m6 0h1m13 0h2m1 0h1m1 0h2m35 0h2m2 0h1m2 0h1m8 0h2m-89 1h1m1 0h2m2 0h2m2 0h1m3 0h2m4 0h2m8 0h2m1 0h1m37 0h1m-76 1h1m8 0h2m2 0h2m7 0h3m9 0h1m1 0h1m37 0h1m3 0h2m3 0h1m-84 1h2m11 0h3m8 0h1m8 0h4m37 0h1m8 0h1m-76 1h2m6 0h1m7 0h1m8 0h1m40 0h1m3 0h2m-72 1h2m5 0h1m2 0h1m6 0h2m5 0h2m4 0h1m32 0h1m3 0h1m2 0h2m2 0h1m-75 1h2m3 0h3m2 0h1m7 0h1m1 0h1m2 0h1m1 0h1m1 0h1m2 0h1m31 0h2m1 0h1m1 0h1m6 0h1m-73 1h3m1 0h3m5 0h2m5 0h1m2 0h1m2 0h1m2 0h1m31 0h2m2 0h1m-70 1h1m7 0h1m8 0h2m11 0h2m1 0h1m31 0h2m7 0h2m-77 1h1m1 0h1m6 0h2m17 0h1m1 0h4m31 0h2m2 0h1m5 0h2m-79 1h3m12 0h2m13 0h5m-35 1h2m1 0h4m3 0h5m15 0h1m39 0h1m-66 1h3m2 0h1m1 0h1m8 0h1m7 0h1m39 0h3m1 0h1m-70 1h1m2 0h1m3 0h1m5 0h1m13 0h1m1 0h1m32 0h1m5 0h1m-65 1h1m8 0h1m14 0h1m34 0h2m2 0h1m6 0h1m-52 1h1m1 0h1m49 0h1m-70 1h2m14 0h1m2 0h3m37 0h1m13 0h1m-74 1h1m1 0h1m10 0h2m1 0h1m2 0h1m38 0h1m14 0h1m-73 1h2m3 0h1m10 0h2m6 0h1m32 0h4m-76 1h1m11 0h2m4 0h3m12 0h1m2 0h1m1 0h2m30 0h4m-74 1h1m10 0h3m2 0h1m15 0h1m1 0h1m4 0h1m31 0h1m3 0h1m-65 1h2m2 0h2m13 0h2m1 0h1m5 0h1m31 0h1m1 0h3m2 0h1m-49 1h2m4 0h1m35 0h1m5 0h1m12 0h1m-83 1h1m14 0h2m4 0h1m4 0h2m35 0h1m-64 1h1m11 0h2m6 0h1m1 0h1m2 0h1m1 0h1m2 0h1m33 0h1m-69 1h1m12 0h2m1 0h2m6 0h3m2 0h3m25 0h2m5 0h1m1 0h2m-68 1h1m11 0h1m1 0h1m1 0h2m6 0h1m4 0h3m30 0h2m1 0h1m-61 1h1m2 0h2m1 0h3m3 0h1m2 0h2m1 0h1m7 0h1m29 0h1m2 0h1m1 0h3m-64 1h1m2 0h2m1 0h2m11 0h1m8 0h1m20 0h2m5 0h1m1 0h6m-66 1h4m5 0h2m19 0h2m3 0h1m16 0h3m2 0h2m3 0h2m-64 1h1m56 0h1m-59 1h2m24 0h2m2 0h3m25 0h1m-64 1h2m28 0h1m2 0h1m4 0h1m23 0h1m3 0h2m-37 1h1m1 0h2m3 0h1m22 0h2m3 0h3m-59 1h1m18 0h1m1 0h1m1 0h1m2 0h1m1 0h1m3 0h1m14 0h6m1 0h1m-55 1h1m18 0h1m1 0h1m5 0h1m1 0h2m1 0h1m15 0h1m2 0h1m1 0h1m1 0h1m-32 1h2m1 0h1m4 0h1m9 0h1m4 0h1m1 0h2m2 0h1m1 0h1m-41 1h2m9 0h1m3 0h6m6 0h1m5 0h1m4 0h1m1 0h1m1 0h2m-60 1h1m14 0h1m2 0h1m7 0h3m2 0h1m14 0h1m1 0h4m6 0h1m1 0h2m2 0h1m-65 1h1m15 0h1m9 0h1m1 0h2m2 0h3m1 0h1m2 0h2m5 0h1m1 0h1m3 0h1m7 0h1m2 0h2m-40 1h2m1 0h2m3 0h1m2 0h1m6 0h2m1 0h3m1 0h2m-60 1h1m32 0h1m2 0h1m2 0h5m4 0h2m1 0h1m1 0h1m3 0h1m8 0h2m-68 1h1m37 0h1m4 0h2m1 0h1m1 0h2m1 0h1m2 0h2m1 0h1m8 0h1m-28 1h1m2 0h1m3 0h1m5 0h1m2 0h2m-19 1h2m1 0h1m3 0h1m4 0h2m3 0h1m2 0h1m-32 1h2m9 0h1m1 0h3m3 0h1m1 0h1m4 0h2m3 0h1m-31 1h1m12 0h2m3 0h1m1 0h1m-2 1h1" stroke="rgb(224,224,224)" stroke-width="1" fill="none"/>
<path transform="translate(0,.5)" d="M0 0m96 913h1m-17 13h1m-38 2h1m40 4h1m-3 4h1m14 0h1m-60 1h1m58 0h1m-60 1h1m28 0h1m13 0h2m14 0h1m-23 1h1m1 0h1m11 0h1m12 0h1m-14 1h1m2 0h1m1 0h1m2 0h1m-9 1h2m1 0h1m1 0h1m1 0h1m2 0h1m2 0h1m-31 1h2m9 0h1m7 0h2m1 0h1m1 0h1m1 0h4m-29 1h1m2 0h1m5 0h1m5 0h1m7 0h1m4 0h2m-67 1h1m45 0h1m1 0h1m3 0h1m1 0h1m3 0h1m-57 1h2m35 0h2m1 0h2m3 0h2m1 0h1m6 0h1m3 0h1m10 0h1m-33 1h1m1 0h1m5 0h1m1 0h2m1 0h1m3 0h2m3 0h1m1 0h1m7 0h1m-32 1h1m5 0h1m1 0h3m1 0h2m2 0h3m-20 1h1m5 0h2m1 0h1m1 0h2m1 0h1m8 0h1m3 0h1m-35 1h2m5 0h1m1 0h1m2 0h1m2 0h1m2 0h1m2 0h1m3 0h2m7 0h1m-34 1h1m5 0h1m1 0h2m4 0h1m4 0h2m3 0h2m-62 1h1m39 0h1m13 0h1m5 0h3m6 0h1m-70 1h1m39 0h1m18 0h2m6 0h2m-29 1h2m14 0h2m1 0h1m12 0h1m-70 1h1m32 0h2m1 0h1m1 0h1m1 0h1m8 0h1m10 0h3m6 0h1m-68 1h1m32 0h2m1 0h2m5 0h2m4 0h5m1 0h1m4 0h1m2 0h2m-67 1h1m26 0h1m5 0h1m4 0h2m3 0h1m1 0h1m5 0h2m1 0h1m4 0h2m3 0h3m-68 1h1m30 0h3m1 0h1m2 0h3m21 0h1m4 0h1m-72 1h1m38 0h1m2 0h2m1 0h1m14 0h2m5 0h1m2 0h2m-69 1h1m2 0h1m33 0h1m1 0h1m24 0h1m3 0h1m-56 1h1m19 0h1m3 0h1m13 0h2m10 0h2m-63 1h2m22 0h1m2 0h1m6 0h1m21 0h2m2 0h1m3 0h1m-64 1h1m31 0h2m28 0h1m-58 1h1m28 0h1m7 0h1m17 0h1m-63 1h1m7 0h1m21 1h1m4 0h1m23 0h1m3 0h1m-75 1h1m38 0h1m3 0h1m2 0h1m23 0h1m2 0h1m5 0h1m-37 1h1m1 0h2m23 0h1m4 0h1m2 0h1m-34 1h1m22 0h2m3 0h1m-58 1h2m24 0h2m23 0h1m5 0h1m-67 1h1m8 0h2m19 0h1m2 0h1m3 0h1m-9 1h2m6 0h1m29 0h1m-4 1h3m1 0h2m-62 1h1m18 0h1m3 0h1m32 0h3m1 0h1m-62 1h2m22 0h2m29 0h1m3 0h1m2 0h2m-68 1h2m21 0h1m4 0h1m37 0h2m1 0h1m-70 1h2m6 0h1m18 0h1m35 0h2m-37 1h2m1 0h1m29 0h4m-40 1h1m1 0h1m32 0h1m-34 1h1m-23 1h1m18 0h1m3 0h1m34 0h1m-35 1h1m30 0h1m1 0h3m-46 1h1m2 0h1m6 0h1m32 0h1m1 0h1m-62 1h1m58 0h2m-5 1h1m3 0h1m-69 1h1m27 0h1m4 0h1m29 0h1m2 0h1m-67 1h2m32 0h1m30 0h3m-40 1h2m1 0h1m34 0h1m-66 1h1m6 0h1m19 0h3m27 0h1m4 0h1m1 0h1m3 0h1m-67 1h1m23 0h1m1 0h1m32 0h1m2 0h2m-40 1h2m1 0h1m32 0h1m2 0h2m8 0h1m-48 1h2m34 0h3m-43 1h1m3 0h3m28 0h1m4 0h1m-58 1h1m20 0h1m1 0h3m3 0h1m23 0h2m-34 1h1m1 0h1m1 0h1m27 0h2m-33 1h1m30 0h2m5 0h1m-43 1h1m3 0h1m2 0h1m23 0h2m2 0h1m3 0h3m-38 1h2m1 0h1m24 0h1m2 0h3m1 0h1m-36 1h1m1 0h1m1 0h2m22 0h1m5 0h1m-35 1h1m3 0h1m24 0h1m3 0h2m-42 1h1m4 0h1m1 0h1m2 0h1m21 0h1m2 0h2m3 0h1m-34 1h3m24 0h1m1 0h3m-51 1h1m45 0h1m1 0h1m-30 1h1m4 0h3m14 0h1m5 0h1m2 0h1m1 0h1m-43 1h1m10 0h1m2 0h3m16 0h1m3 0h1m1 0h1m-26 1h1m1 0h1m14 0h1m4 0h1m-28 1h1m1 0h1m16 0h1m5 0h3m-25 1h1m15 0h1m5 0h1m-8 1h1m7 0h1m6 0h1m-37 1h1m10 0h1m13 0h1m2 0h1m-29 1h1m1 0h1m4 0h2m2 0h1m-12 1h2m2 0h1m1 0h1m4 0h1m8 0h1m3 0h2m2 0h1m-23 1h1m1 0h1m2 0h2m1 0h2m2 0h2m4 0h1m7 0h1m-31 1h2m10 0h1m2 0h3m3 0h1m8 0h1m-40 1h2m11 0h2m5 0h1m2 0h5m1 0h1m1 0h1m-31 1h1m9 0h1m13 0h3m1 0h1m3 0h3m-25 1h1m4 0h1m1 0h1m4 0h4m2 0h1m3 0h1m-20 1h1m5 0h1m1 0h2m2 0h1m3 0h2m-19 1h1m1 0h4m2 0h1m1 0h1m2 0h1m5 0h1m-16 1h1m5 0h1m3 0h1m1 0h2m-15 1h1m6 0h2m3 0h1m1 0h1m-16 1h1m7 0h1m1 0h1m2 0h1m-6 1h1" stroke="rgb(191,191,191)" stroke-width="1" fill="none"/>
<path transform="translate(0,.5)" d="M0 0m79 934h1m-13 5h1m34 1h1m-12 1h1m-2 1h1m2 0h1m-11 1h1m10 0h2m-13 1h1m1 1h1m-7 1h1m5 0h1m-10 1h1m7 0h1m3 0h1m7 0h1m-11 1h1m-10 1h1m8 0h1m-6 1h1m3 0h1m-9 1h3m2 0h1m6 0h1m1 0h2m-16 1h1m1 0h1m2 0h1m6 0h3m-15 1h1m4 0h1m3 0h1m2 0h1m4 0h1m10 0h1m-68 1h1m33 0h1m1 0h1m5 0h1m3 0h2m2 0h1m2 0h1m1 0h2m-57 1h1m31 0h2m2 0h1m2 0h2m1 0h1m3 0h3m8 0h1m-25 1h1m11 0h1m6 0h1m3 0h2m-24 1h2m3 0h1m1 0h2m1 0h2m7 0h1m2 0h1m1 0h2m4 0h1m-25 1h1m18 0h2m-22 1h2m8 0h2m4 0h2m1 0h1m1 0h1m-30 1h2m3 0h3m16 0h2m1 0h1m-27 1h1m1 0h3m11 0h1m12 0h1m-32 1h2m2 0h3m19 0h1m2 0h1m-29 1h1m1 0h1m1 0h1m2 0h1m4 0h1m-39 1h1m28 0h2m21 0h2m-25 1h1m21 0h1m3 0h1m-30 1h2m23 0h1m2 0h1m-29 1h1m1 1h2m22 0h1m-30 1h1m5 0h1m21 0h2m1 0h1m-32 1h3m1 0h1m21 0h1m4 0h2m-34 1h2m3 0h1m24 0h1m-34 1h1m6 0h1m25 0h1m3 0h1m-34 1h1m22 0h2m1 0h2m1 0h1m3 0h1m1 0h1m-37 1h2m22 0h1m3 0h1m3 0h1m1 0h1m-31 1h1m24 0h1m2 0h3m-35 1h1m29 0h1m1 0h1m-33 1h1m1 0h1m26 0h2m2 1h1m-4 1h2m1 0h1m-3 1h2m-31 1h1m25 0h2m-1 1h1m-2 1h2m-30 1h1m31 0h1m-34 1h2m23 0h1m7 0h1m-36 1h2m1 0h1m28 0h1m-35 1h1m1 0h1m32 0h1m-39 1h1m3 0h1m32 0h1m-34 1h1m3 0h1m22 0h1m5 0h1m2 0h2m-34 1h1m25 0h2m-36 1h2m2 0h1m6 0h1m21 0h1m-37 1h1m7 0h2m4 0h1m20 0h1m1 0h1m-38 1h2m4 0h1m3 0h1m3 0h1m21 0h1m3 0h1m-35 1h1m6 0h1m26 0h1m-32 1h1m23 0h2m1 0h1m6 0h1m-37 1h1m27 0h2m1 0h2m-5 1h1m-29 1h1m1 0h1m25 0h3m-30 1h2m1 0h1m18 0h2m2 0h1m1 0h2m-31 1h1m20 0h1m1 0h1m5 0h1m3 0h2m-33 1h1m3 0h2m19 0h1m-29 1h3m8 0h2m13 0h1m-6 1h1m5 0h1m2 0h1m-11 1h2m3 0h1m-23 1h1m4 0h1m10 0h1m6 0h1m-26 1h1m1 0h1m20 0h1m-7 1h1m7 0h2m-32 1h2m6 0h1m12 0h1m1 0h1m4 0h2m-22 1h1m1 0h2m6 0h1m2 0h2m4 0h2m-25 1h1m5 0h1m4 0h2m1 0h1m-16 1h1m6 0h1m2 0h4m6 0h2m3 0h1m4 0h1m-26 1h1m1 0h1m3 0h1m2 0h2m4 0h1m-18 1h3m7 0h2m4 0h2m1 0h2m-12 2h2m5 0h1m-7 1h1m-10 1h1m18 0h1m-17 2h1m7 0h3m-5 1h1m2 0h1m3 0h1" stroke="rgb(158,158,158)" stroke-width="1" fill="none"/>
<path transform="translate(0,.5)" d="M0 0m88 942h2m0 1h1m-2 1h1m-2 2h1m-9 3h1m4 0h1m-9 1h1m2 0h1m5 0h2m-7 1h1m3 0h3m2 0h1m2 0h1m-13 1h1m3 0h2m1 0h1m-11 1h2m-2 1h2m2 0h2m3 0h1m4 0h1m-14 1h1m1 0h1m5 0h1m-11 1h3m1 0h1m-4 1h1m2 0h1m2 0h1m3 0h3m4 0h1m-24 1h2m5 0h1m1 0h5m2 0h1m1 0h2m2 0h1m-22 1h1m5 0h1m5 0h1m-13 1h1m3 0h1m7 0h1m2 0h1m3 0h1m2 0h1m-27 1h1m15 0h1m1 0h1m3 0h2m7 0h1m-26 1h1m4 0h2m1 0h1m1 0h2m2 0h3m1 0h1m1 0h2m-27 1h1m6 0h1m1 0h1m14 0h2m1 0h1m-29 1h1m1 0h1m4 0h2m6 0h1m12 0h2m-30 1h2m25 0h1m-1 1h1m-25 1h1m10 0h1m8 0h1m1 0h1m2 0h1m-25 1h1m15 0h1m-21 1h1m3 0h1m1 0h2m14 0h1m1 0h1m-23 1h2m18 0h1m3 0h2m-30 1h2m-4 1h2m3 0h1m22 0h2m-31 1h2m2 0h2m21 0h1m2 0h1m-28 1h3m18 0h1m1 0h2m3 0h2m-32 1h1m23 0h2m2 0h1m1 0h2m-31 1h4m24 0h1m1 0h1m-29 1h2m-7 1h2m1 0h1m2 0h1m24 0h1m1 0h1m-34 1h1m2 0h2m23 1h1m0 1h1m-26 1h2m24 0h1m-30 1h1m27 0h1m-29 1h1m1 0h2m20 0h2m2 0h2m-28 1h1m21 0h1m3 0h1m-27 1h1m26 0h1m-30 1h2m23 0h1m3 0h1m-32 1h1m2 0h3m18 0h2m1 0h1m2 0h1m-31 1h2m2 0h1m24 0h1m-31 1h1m2 0h1m-3 1h3m2 0h1m23 0h1m1 0h2m-31 1h2m1 0h1m24 0h3m-30 1h1m23 0h1m-25 1h1m23 0h2m2 0h1m-28 1h1m22 0h1m-24 1h1m9 0h3m-15 1h3m20 0h1m2 0h1m-25 1h1m17 0h2m7 0h1m-33 1h1m5 0h1m24 0h1m-29 1h1m16 0h1m1 0h1m2 0h1m4 0h2m-24 1h1m1 0h1m9 0h1m2 0h1m-22 1h2m1 0h2m13 0h1m3 0h1m2 0h1m-28 1h3m4 0h1m2 0h1m6 0h3m2 0h1m-21 1h1m10 0h1m4 0h1m7 0h1m-24 1h1m4 0h1m4 0h1m3 0h1m1 0h2m-16 1h1m1 0h1m5 0h1m3 0h1m4 0h1m-16 1h1m15 0h1m-20 1h2m1 0h2m1 0h1m11 0h1m-19 1h1m5 0h1m1 0h1m2 0h1m2 0h3m-12 1h1m2 0h1m3 0h1m1 0h1m-20 1h1m12 0h4m1 0h1m-1 1h1m1 0h1m-10 2h2m5 0h1m-8 2h1m-1 1h1" stroke="rgb(128,128,128)" stroke-width="1" fill="none"/>
<path transform="translate(0,.5)" d="M0 0m89 943h1m-7 8h2m-7 1h1m1 0h1m2 0h2m2 0h1m-8 1h2m3 0h1m2 0h1m-5 3h4m-1 1h1m-8 1h1m5 0h2m1 0h1m5 0h2m-16 1h1m2 0h1m1 0h1m2 0h2m1 0h1m2 0h1m-17 1h1m11 0h1m-24 1h1m6 0h1m7 0h1m4 0h1m1 0h1m4 0h2m-21 1h1m5 0h1m1 0h1m2 0h1m4 0h1m-19 1h2m2 0h1m3 0h2m1 0h2m2 0h1m1 0h1m1 0h1m2 0h1m-23 1h1m3 0h1m8 0h1m5 0h2m-22 1h1m3 0h1m9 0h1m1 0h1m7 0h1m-26 1h1m16 0h5m-21 1h1m8 0h1m6 0h3m1 0h1m2 0h1m-23 1h2m6 0h1m7 0h1m1 0h1m4 0h1m-28 1h2m2 0h1m14 0h2m5 0h1m-24 1h1m16 0h1m3 0h1m-24 1h1m1 0h1m4 0h2m11 0h2m1 0h1m-27 1h1m2 0h1m20 0h1m-26 1h1m2 0h2m-2 1h1m21 0h1m-25 1h1m19 0h1m2 0h1m1 1h1m-20 1h1m18 0h1m-29 1h1m1 0h2m24 0h1m3 0h1m-34 1h2m24 0h1m6 0h1m-34 1h1m1 0h2m2 0h2m18 0h1m4 0h1m-31 1h2m1 0h1m2 0h1m19 0h1m-27 1h1m26 0h1m-28 1h1m1 0h1m0 1h1m15 0h1m5 0h1m-24 1h2m20 1h1m2 0h1m-30 1h1m24 0h1m1 0h3m1 0h1m-31 2h1m2 0h1m19 0h1m1 0h1m-28 1h2m2 0h2m2 0h1m19 0h1m-26 1h2m2 0h2m21 0h1m-27 1h1m2 0h3m14 0h3m-23 1h1m2 0h1m16 0h1m6 0h1m-30 1h1m1 0h1m1 0h1m19 0h1m-25 1h2m1 0h3m-6 1h2m1 0h3m16 0h1m-18 1h1m-3 1h1m1 0h1m22 0h1m-27 1h1m1 0h1m-2 1h3m9 0h2m6 0h1m-16 1h1m6 0h1m2 0h2m-19 1h1m2 0h2m9 0h1m2 0h1m-19 1h1m4 0h1m2 0h1m1 0h2m-12 1h1m3 0h2m5 0h1m2 0h1m7 0h1m-14 1h1m1 0h1m-12 1h2m1 0h1m1 0h1m3 0h1m1 0h1m4 0h3m-19 1h3m4 0h2m3 0h2m2 0h1m2 0h1m-17 1h1m2 0h1m2 0h1m2 0h1m3 0h1m1 0h1m-14 1h2m4 0h1m-7 1h1m5 0h2m4 0h1" stroke="rgb(97,97,97)" stroke-width="1" fill="none"/>
<path transform="translate(0,.5)" d="M0 0m80 951h1m2 2h2m-4 1h1m3 3h2m-7 2h1m1 0h2m7 0h1m-14 1h1m1 0h3m6 0h2m-15 1h2m1 0h2m1 0h1m1 0h1m4 0h1m-13 1h3m8 0h1m-5 1h1m2 0h2m3 0h1m-23 1h1m4 0h1m3 0h3m1 0h1m1 0h1m2 0h2m1 0h2m-19 1h2m2 0h1m1 0h2m2 0h2m2 0h1m1 0h1m1 0h2m-21 1h1m3 0h5m1 0h4m-13 1h1m4 0h3m2 0h2m-10 1h1m2 0h3m1 0h1m3 0h2m2 0h1m4 0h1m-20 1h3m2 0h1m5 0h1m-15 1h2m1 0h1m11 0h1m3 0h1m-22 1h1m1 0h1m9 0h1m5 0h1m2 0h1m-27 1h1m4 0h4m1 0h2m11 0h2m-16 1h2m10 0h1m-18 1h1m15 0h1m-22 1h2m2 0h1m21 0h1m-21 1h2m12 0h1m1 0h5m-23 1h1m1 0h2m12 0h1m1 0h1m1 0h3m-23 1h1m1 0h1m1 0h1m17 0h1m-25 1h1m1 0h1m20 0h1m-27 1h1m2 0h1m20 0h1m2 0h3m-26 1h2m17 0h3m-25 1h1m2 0h3m19 0h1m-26 1h1m1 0h1m1 0h1m2 0h1m10 0h2m4 0h2m-23 1h1m15 0h1m1 0h1m3 0h1m-23 1h3m11 0h1m6 0h2m-23 1h1m1 0h1m5 0h1m10 0h1m1 0h2m-26 1h1m1 0h3m-8 1h2m3 0h1m21 0h2m-24 1h3m15 0h1m3 0h1m-23 1h2m15 0h1m2 0h2m-19 1h1m16 0h2m-18 1h2m-3 1h1m1 0h1m10 0h2m1 0h2m-20 1h1m1 0h1m13 0h3m-18 1h1m7 0h1m7 0h1m-8 1h1m-13 1h2m1 0h2m3 0h2m2 0h2m3 0h3m-19 1h1m1 0h1m2 0h2m4 0h1m7 0h1m-19 1h1m9 0h5m2 0h2m-23 1h2m10 0h2m-15 1h1m1 0h1m3 0h1m7 0h1m1 0h1m-11 1h1m2 0h1m4 0h1m1 0h1m2 0h2m-12 1h1m10 0h3m-16 1h1m1 0h1m2 0h2m-7 1h2m3 0h1m-6 1h2m3 0h1m-10 1h1m1 0h1m3 0h1m1 0h1m6 0h1m-11 1h1m8 0h1m-10 1h1m5 1h1m1 0h1" stroke="rgb(66,66,66)" stroke-width="1" fill="none"/>
<path transform="translate(0,.5)" d="M0 0m87 953h1m-5 7h2m-7 1h1m2 0h1m8 2h1m-9 1h1m3 0h1m3 0h1m-15 1h1m2 0h1m2 0h2m2 0h1m4 0h1m-16 1h1m5 0h1m4 0h2m-14 1h4m7 0h3m-12 1h2m5 0h3m-7 1h2m1 0h2m1 0h2m-12 1h1m1 0h7m1 0h3m-14 1h1m1 0h1m2 0h4m1 0h2m1 0h2m-14 1h1m2 0h8m2 0h1m-18 1h1m1 0h2m2 0h1m6 0h3m-16 1h1m2 0h1m1 0h2m7 0h1m-16 1h2m4 0h2m4 0h1m3 0h1m-18 1h2m2 0h1m2 0h3m5 0h1m1 0h1m-17 1h1m3 0h2m6 0h3m1 0h1m1 0h1m-19 1h1m1 0h1m1 0h2m9 0h3m1 0h2m-23 1h1m1 0h1m17 0h1m2 0h3m-26 1h1m2 0h1m2 0h1m7 0h1m2 0h3m-17 1h2m9 0h5m-16 1h1m1 0h3m1 0h1m7 0h1m1 0h3m-22 1h1m1 0h2m1 0h1m1 0h2m1 0h1m2 0h2m2 0h1m1 0h2m-20 1h1m1 0h1m3 0h4m1 0h3m-12 1h1m3 0h7m1 0h1m2 0h1m-21 1h2m1 0h1m1 0h5m1 0h1m2 0h1m-15 1h1m3 0h2m4 0h1m3 0h1m1 0h5m-19 1h4m2 0h1m4 0h6m-15 1h3m1 0h1m3 0h1m5 0h1m-15 1h2m2 0h1m8 0h1m1 0h2m-16 1h2m1 0h2m9 0h2m-14 1h2m8 0h2m-16 1h1m1 0h1m1 0h2m6 0h2m-14 1h1m2 0h3m3 0h2m1 0h3m-14 1h1m2 0h2m3 0h4m2 0h1m-16 1h3m2 0h1m4 0h3m1 0h2m-14 1h2m3 0h2m2 0h1m-11 1h2m2 0h1m1 0h2m1 0h4m2 0h1m-17 1h1m2 0h6m-9 1h7m-12 1h1m7 0h5m-4 1h2m-6 1h1m5 0h2m-8 1h1m1 0h1m-3 1h1m6 0h1m-8 1h1m6 0h1m-8 1h1m3 0h1m6 0h1m-8 1h2" stroke="rgb(36,36,36)" stroke-width="1" fill="none"/>
<path transform="translate(0,.5)" d="M0 0m74 966h2m9 3h1m-1 1h1m-10 1h1m10 0h1m-1 1h2m-16 1h1m5 0h6m-12 1h2m1 0h1m2 0h7m-13 1h4m2 0h4m1 0h3m-12 1h2m3 0h5m-8 1h6m-6 1h9m3 0h1m-18 1h17m-16 1h2m1 0h7m1 0h2m-12 1h9m-10 1h1m3 0h1m1 0h7m1 0h1m-13 1h1m2 0h1m1 0h2m5 0h1m-17 1h1m1 0h3m4 0h1m5 0h1m-14 1h3m9 0h2m-8 1h2m1 0h6m-15 1h4m1 0h3m1 0h1m-10 1h2m1 0h4m-6 1h1m1 0h3m1 0h5m-12 1h2m1 0h8m-10 1h1m2 0h9m-10 1h8m-8 1h6m-10 1h1m3 0h3m2 0h1m-10 1h2m2 0h2m5 0h2m-12 1h2m8 0h1m-10 1h1m7 0h2m-8 1h1m-6 1h2m3 3h2" stroke="rgb(8,8,8)" stroke-width="1" fill="none"/>
<path d="M54.1 899.3V1024.2M21.0 983.5H146.1" stroke="#555" stroke-width="0.9" fill="none"/>
<rect x="21.0" y="899.3" width="125.1" height="124.9" fill="none" stroke="#111" stroke-width="1.5"/>
<text x="141.2" y="911.7" font-size="10.20" text-anchor="end" fill="#111">42%</text>
<text x="141.2" y="996.7" font-size="10.20" text-anchor="end" fill="#111">56%</text>
<text x="106.0" y="956.8" font-size="13.80" font-weight="bold" fill="#111">98%</text>
<text x="131.5" y="1020.5" font-size="10.20" text-anchor="end" fill="#111">CD43 FITC</text>
<path d="M132.1 1017.2H139.6" stroke="#222" stroke-width="0.9"/>
<path d="M142.1 1017.2l-3.4 -1.7v3.4z" fill="#222"/>
<path d="M136.4 917V988" stroke="#111" stroke-width="1.1"/>
<path d="M136.4 914.5l-2.3 6.5h4.6zM136.4 990l-2.3 -6.5h4.6z" fill="#111"/>
<text transform="translate(83.5,1041.8) scale(1.090,1)" font-size="14.20" font-weight="bold" text-anchor="middle" fill="#111">CD34<tspan font-size="9" dy="-5">-/low</tspan><tspan dy="5">CD43</tspan><tspan font-size="9" dy="-5">+</tspan></text>
<rect x="247.8" y="768.9" width="82.0" height="122.1" fill="#f1f1f1"/>
<path transform="translate(0,.5)" d="M0 0m277 775h2m-3 1h1m1 0h4m1 0h1m-12 1h2m2 0h1m1 0h6m3 0h2m-45 1h2m26 0h1m8 0h1m3 0h2m2 0h1m-21 1h1m4 0h2m1 0h2m2 0h1m4 0h3m-36 1h2m6 0h1m1 0h1m4 0h1m2 0h3m2 0h2m2 0h2m9 0h2m-30 1h1m6 0h1m1 0h2m1 0h2m1 0h1m1 0h1m10 0h1m-32 1h1m4 0h1m11 0h7m6 0h2m-31 1h2m4 0h1m3 0h1m5 0h2m5 0h1m1 0h5m-32 1h1m3 0h1m1 0h2m2 0h1m1 0h1m4 0h1m3 0h1m5 0h1m3 0h1m-33 1h1m4 0h4m1 0h1m1 0h3m2 0h2m9 0h1m3 0h2m1 0h1m3 0h1m1 0h1m-37 1h1m5 0h2m2 0h1m2 0h1m8 0h2m1 0h1m1 0h2m1 0h1m5 0h1m4 0h1m-60 1h2m11 0h1m1 0h1m1 0h1m1 0h4m19 0h2m4 0h1m3 0h1m2 0h1m4 0h1m-61 1h1m7 0h1m3 0h1m1 0h2m3 0h1m1 0h2m27 0h1m2 0h2m2 0h3m-61 1h1m9 0h1m3 0h1m1 0h6m28 0h1m2 0h1m-54 1h1m8 0h1m6 0h2m1 0h1m30 0h1m5 0h3m-45 1h1m3 0h5m29 0h2m1 0h1m-38 1h2m2 0h1m28 0h2m2 0h1m-45 1h1m2 0h3m2 0h1m31 0h2m2 0h1m5 0h1m-52 1h1m1 0h1m3 0h3m32 0h1m4 0h1m5 0h1m-54 1h3m3 0h1m40 0h1m-49 1h3m3 0h1m39 0h3m-76 1h2m22 0h2m3 0h1m2 0h3m-34 1h1m14 0h1m1 0h2m3 0h3m3 0h1m1 0h1m2 0h2m2 0h1m37 0h2m-70 1h1m14 0h2m7 0h4m36 0h2m2 0h1m1 0h1m-71 1h2m2 0h3m19 0h2m37 0h1m3 0h1m-69 1h1m2 0h3m9 0h2m5 0h1m1 0h1m1 0h2m37 0h3m-65 1h2m10 0h4m3 0h4m1 0h1m32 0h1m6 0h1m-91 1h2m13 0h2m4 0h1m4 0h2m4 0h2m5 0h1m1 0h1m1 0h4m1 0h1m1 0h1m35 0h3m-89 1h2m7 0h1m5 0h3m2 0h2m13 0h1m3 0h1m1 0h1m1 0h2m41 0h2m3 0h1m-86 1h1m1 0h1m7 0h2m2 0h3m1 0h1m1 0h1m7 0h2m3 0h2m2 0h1m47 0h1m-87 1h1m3 0h1m13 0h2m1 0h1m9 0h4m4 0h1m1 0h2m39 0h3m2 0h1m-89 1h1m1 0h1m5 0h2m3 0h1m18 0h1m1 0h1m49 0h4m-84 1h1m1 0h1m1 0h2m12 0h2m4 0h1m2 0h2m1 0h2m1 0h1m3 0h2m44 0h2m-92 1h2m3 0h1m2 0h2m1 0h2m3 0h2m3 0h1m2 0h1m3 0h1m2 0h1m2 0h3m1 0h1m1 0h1m1 0h1m43 0h4m-90 1h3m3 0h2m5 0h1m2 0h1m2 0h3m2 0h1m2 0h1m2 0h1m6 0h1m1 0h2m1 0h5m41 0h1m-94 1h1m4 0h2m6 0h2m1 0h1m2 0h2m10 0h1m2 0h1m5 0h1m1 0h1m1 0h2m4 0h2m41 0h1m-94 1h1m3 0h1m1 0h2m1 0h1m3 0h2m9 0h1m3 0h4m1 0h2m2 0h6m1 0h2m1 0h4m38 0h2m2 0h1m-93 1h1m8 0h1m1 0h2m2 0h1m8 0h1m1 0h2m2 0h1m1 0h2m4 0h3m2 0h1m1 0h2m1 0h1m38 0h1m1 0h1m7 0h1m-99 1h1m3 0h1m1 0h1m4 0h11m8 0h1m2 0h1m1 0h1m1 0h2m2 0h9m39 0h1m-85 1h1m1 0h1m2 0h1m4 0h1m2 0h1m1 0h1m4 0h1m1 0h2m4 0h1m2 0h1m4 0h1m1 0h1m1 0h5m38 0h1m2 0h3m-87 1h1m2 0h1m4 0h1m13 0h1m1 0h2m1 0h1m5 0h3m3 0h3m1 0h2m5 0h1m31 0h3m-88 1h1m2 0h1m4 0h1m2 0h1m22 0h6m2 0h1m1 0h1m1 0h1m2 0h2m1 0h2m27 0h3m4 0h2m-94 1h1m3 0h1m21 0h1m1 0h1m7 0h1m1 0h3m5 0h2m2 0h1m3 0h1m30 0h1m1 0h1m2 0h1m2 0h1m1 0h1m-96 1h1m6 0h1m1 0h1m1 0h1m18 0h1m3 0h1m2 0h1m8 0h2m1 0h1m2 0h2m8 0h2m25 0h1m4 0h1m-93 1h1m3 0h2m1 0h1m2 0h1m18 0h1m2 0h1m2 0h1m5 0h2m2 0h5m1 0h1m3 0h2m1 0h1m1 0h2m28 0h1m-91 1h3m1 0h2m1 0h1m20 0h2m2 0h2m3 0h1m2 0h1m1 0h1m4 0h1m2 0h3m1 0h4m15 0h1m1 0h1m8 0h1m1 0h1m-87 1h1m1 0h3m2 0h1m21 0h1m2 0h1m5 0h2m1 0h1m5 0h1m2 0h2m1 0h4m9 0h1m1 0h1m5 0h1m1 0h2m5 0h1m1 0h1m3 0h1m-93 1h6m35 0h6m2 0h2m1 0h1m2 0h2m1 0h1m16 0h2m2 0h3m4 0h1m4 0h1m-91 1h2m29 0h1m7 0h2m2 0h1m1 0h2m4 0h2m2 0h2m1 0h1m1 0h4m9 0h1m4 0h1m2 0h1m1 0h2m1 0h2m-87 1h1m29 0h1m7 0h5m2 0h1m3 0h1m2 0h1m5 0h1m1 0h2m2 0h1m3 0h2m9 0h4m1 0h2m7 0h1m-94 1h1m2 0h1m39 0h1m1 0h1m1 0h1m4 0h3m6 0h1m5 0h2m7 0h1m1 0h1m5 0h1m8 0h1m7 0h1m-103 1h1m36 0h1m2 0h1m2 0h2m1 0h1m1 0h4m1 0h1m3 0h2m2 0h2m7 0h1m2 0h2m1 0h2m2 0h4m4 0h2m12 0h1m-100 1h1m33 0h1m1 0h1m3 0h1m2 0h3m2 0h2m1 0h1m1 0h3m2 0h2m3 0h1m2 0h2m3 0h5m1 0h2m2 0h1m1 0h1m1 0h1m-89 1h2m1 0h1m32 0h1m6 0h1m4 0h1m1 0h2m1 0h1m3 0h2m2 0h6m1 0h3m1 0h1m1 0h8m2 0h1m1 0h1m-86 1h1m41 0h1m4 0h6m7 0h1m1 0h2m1 0h1m3 0h2m1 0h2m3 0h1m3 0h1m1 0h1m1 0h1m-87 1h1m1 0h1m1 0h1m32 0h1m4 0h7m5 0h4m1 0h4m3 0h1m2 0h2m2 0h1m3 0h5m-82 1h1m1 0h1m35 0h1m4 0h1m2 0h2m5 0h4m1 0h2m2 0h4m1 0h2m4 0h1m4 0h3m1 0h1m3 0h2m-85 1h1m33 0h2m4 0h4m3 0h3m1 0h3m1 0h5m3 0h4m7 0h4m1 0h1m3 0h1m1 0h1m-89 1h1m35 0h4m1 0h1m1 0h1m7 0h3m1 0h2m2 0h4m1 0h5m8 0h2m2 0h1m1 0h2m-50 1h1m1 0h2m2 0h1m1 0h1m1 0h2m4 0h4m1 0h1m4 0h4m2 0h1m8 0h3m5 0h3m4 0h2m-91 1h1m32 0h1m1 0h2m1 0h1m1 0h1m1 0h2m1 0h1m1 0h1m1 0h1m2 0h2m2 0h1m1 0h1m1 0h1m4 0h2m7 0h3m-76 1h1m3 0h1m28 0h3m2 0h7m1 0h8m1 0h4m14 0h1m1 0h1m13 0h1m-91 1h1m4 0h2m29 0h4m1 0h3m4 0h2m4 0h1m1 0h2m1 0h5m13 0h1m5 0h2m5 0h2m-94 1h1m6 0h3m18 0h1m4 0h1m4 0h1m1 0h2m9 0h4m1 0h2m3 0h1m2 0h3m11 0h1m9 0h1m-89 1h1m3 0h3m9 0h2m9 0h2m5 0h1m3 0h2m2 0h2m4 0h1m7 0h2m9 0h2m4 0h3m12 0h1m-88 1h4m2 0h5m4 0h2m9 0h1m5 0h3m1 0h1m1 0h3m2 0h1m3 0h1m5 0h1m1 0h5m4 0h4m4 0h3m9 0h1m3 0h2m-88 1h4m4 0h1m2 0h2m19 0h1m1 0h1m1 0h1m1 0h9m5 0h1m1 0h1m2 0h1m3 0h1m1 0h5m2 0h2m10 0h1m4 0h1m-88 1h4m5 0h1m2 0h1m7 0h1m3 0h2m5 0h1m2 0h4m1 0h1m1 0h4m5 0h1m1 0h2m2 0h1m5 0h1m1 0h5m-68 1h1m6 0h1m11 0h2m2 0h2m4 0h3m5 0h1m7 0h1m3 0h1m2 0h1m1 0h2m1 0h2m3 0h1m10 0h2m-76 1h2m1 0h1m3 0h1m10 0h1m3 0h1m1 0h1m3 0h2m3 0h1m5 0h2m4 0h2m2 0h1m2 0h5m2 0h2m-62 1h1m3 0h2m3 0h2m1 0h1m4 0h1m3 0h1m2 0h1m4 0h1m1 0h2m2 0h1m4 0h2m2 0h1m4 0h2m1 0h1m1 0h2m4 0h2m-61 1h3m1 0h1m6 0h1m8 0h1m2 0h5m1 0h2m1 0h1m3 0h1m6 0h1m4 0h1m9 0h1m1 0h1m2 0h1m4 0h3m-64 1h2m3 0h1m2 0h2m2 0h2m4 0h1m4 0h2m2 0h1m1 0h1m3 0h2m1 0h1m10 0h1m3 0h3m2 0h1m4 0h4m1 0h2m-70 1h1m1 0h4m6 0h1m2 0h1m11 0h2m3 0h2m3 0h2m10 0h1m2 0h2m-54 1h1m1 0h1m3 0h2m1 0h4m2 0h1m4 0h1m9 0h5m3 0h2m3 0h4m2 0h2m1 0h2m-52 1h5m1 0h1m4 0h2m3 0h2m1 0h1m8 0h2m1 0h3m17 0h2m-58 1h1m4 0h2m1 0h3m1 0h1m1 0h4m4 0h5m6 0h2m3 0h1m50 0h2m-95 1h2m2 0h1m4 0h3m1 0h3m4 0h3m3 0h4m2 0h2m28 0h2m-64 1h2m6 0h1m2 0h4m2 0h1m2 0h2m1 0h1m4 0h2m2 0h2m18 0h1m9 0h1m-57 1h3m6 0h2m3 0h3m1 0h2m2 0h2m8 0h2m12 0h1m3 0h1m-52 1h4m7 0h1m5 0h4m14 0h3m2 0h1m9 0h2m9 0h1m-51 1h1m5 0h2m7 0h1m8 0h3m1 0h2m20 0h2m-47 1h2m1 0h2m5 0h1m1 0h2m9 0h4m-34 1h1m6 0h5m8 0h1m3 0h1m5 0h1m1 0h3m22 0h1m-64 1h2m4 0h1m4 0h1m1 0h1m2 0h1m13 0h1m32 0h1m-73 1h3m8 0h2m4 0h1m2 0h1m49 0h2m-73 1h2m10 0h2m4 0h1m52 0h3m-59 1h1m7 0h1m49 0h2m-66 1h1m5 0h1m2 0h2m3 0h1m6 0h1m1 0h1m2 0h3m-29 1h1m2 0h2m15 0h4m2 0h3m5 0h1m1 0h1m21 0h1m-61 1h1m11 0h1m4 0h2m5 0h1m10 0h1m1 0h2m5 0h1m15 0h1m3 0h2m-66 1h1m10 0h1m8 0h2m2 0h2m7 0h2m1 0h1m1 0h1m5 0h1m2 0h1m-44 1h1m4 0h1m7 0h1m3 0h3m1 0h1m7 0h1m4 0h1m8 0h1m-44 1h2m2 0h1m7 0h1m1 0h1m4 0h1m6 0h4m-29 1h1m7 0h2m1 0h1m4 0h2m1 0h2m7 0h1m-33 1h1m3 0h1m7 0h2m6 0h1m1 0h6m11 0h2m-41 1h1m2 0h2m19 0h2m2 0h2m-27 1h1m9 0h2m12 0h2m13 0h2m-46 1h1m14 0h3m8 0h2m1 0h4m-37 1h2m2 0h1m7 0h1m7 0h3m10 0h1m10 0h1m-44 1h1m2 0h2m3 0h2m1 0h1m4 0h1m1 0h2m1 0h1m19 0h1m1 0h1m-41 1h2m11 0h1m1 0h1m1 0h1m17 0h2m1 0h1m15 0h1m-55 1h3m10 0h3m1 0h1m7 0h2m12 0h2m7 0h2m4 0h1m-54 1h1m9 0h1m4 0h2m2 0h1m4 0h2m5 0h1m6 0h2m7 0h2m-56 1h2m4 0h2m1 0h1m2 0h1m4 0h1m36 0h2m-47 1h1m2 0h1m8 0h2m4 0h3m5 0h2m-17 1h1m6 0h3m5 0h1m4 0h1m2 0h2m-27 1h3m3 0h2m2 0h1m11 0h1m2 0h4m-39 1h2m11 0h1m21 0h2m1 0h1m-34 1h1m7 0h2m3 0h2m20 0h1m-36 1h1m7 0h2m25 0h1m-47 1h2m41 0h1m-12 1h1m-1 1h1m6 0h2m-9 1h1m-1 1h1" stroke="rgb(224,224,224)" stroke-width="1" fill="none"/>
<path transform="translate(0,.5)" d="M0 0m277 776h1m4 0h1m4 0h2m-12 1h1m-2 1h1m2 0h2m6 0h2m-13 1h1m2 0h2m3 0h2m-24 1h1m7 0h1m3 0h2m-15 1h1m7 0h1m4 0h1m2 0h1m3 0h3m8 0h1m-31 1h1m3 0h1m-2 1h1m3 0h2m8 0h1m2 0h2m-26 1h1m11 0h1m3 0h2m1 0h3m1 0h1m5 0h1m1 0h1m-23 1h1m10 0h5m4 0h1m4 0h1m5 0h1m-35 1h4m4 0h1m11 0h1m2 0h1m1 0h1m2 0h1m4 0h1m-37 1h1m1 0h1m5 0h2m1 0h2m1 0h2m13 0h3m5 0h2m3 0h1m-43 1h3m1 0h1m4 0h2m15 0h1m5 0h1m2 0h1m3 0h2m-49 1h1m12 0h2m19 0h2m4 0h1m1 0h1m4 0h1m1 0h1m-39 1h2m3 0h1m21 0h3m1 0h2m-38 1h1m1 0h1m5 0h1m1 0h1m8 0h1m13 0h2m1 0h1m2 0h1m-41 1h1m2 0h1m7 0h1m-9 1h2m1 0h2m27 0h1m4 0h1m7 0h1m-52 1h1m7 0h1m29 0h2m1 0h4m-48 1h1m44 0h2m-40 1h1m37 0h1m-38 1h1m2 0h1m32 0h2m1 0h2m-44 1h2m38 0h4m-67 1h1m28 0h1m38 0h1m-4 1h3m-51 1h1m2 0h2m1 0h1m36 0h1m3 0h1m-45 1h2m4 0h1m34 0h1m3 0h2m-50 1h1m8 0h1m33 0h2m4 0h2m-46 1h1m1 0h1m2 0h1m-42 1h1m13 0h1m20 0h1m2 0h3m-44 1h1m10 0h1m27 0h1m44 0h2m-87 1h1m3 0h1m27 0h1m1 0h1m7 0h4m32 0h1m3 0h1m4 0h1m-84 1h1m18 0h1m8 0h1m4 0h1m4 0h1m1 0h2m32 0h2m3 0h1m1 0h1m-84 1h2m19 0h1m13 0h1m2 0h1m3 0h1m34 0h1m1 0h1m-75 1h2m5 0h1m7 0h1m2 0h1m8 0h1m2 0h1m43 0h3m-86 1h1m13 0h1m2 0h2m4 0h1m10 0h1m1 0h1m2 0h1m1 0h2m40 0h1m-86 1h1m4 0h1m6 0h2m4 0h1m19 0h1m2 0h1m4 0h4m1 0h1m41 0h1m-95 1h1m1 0h1m10 0h2m10 0h2m6 0h2m3 0h1m8 0h3m2 0h1m36 0h1m-93 1h1m3 0h1m18 0h1m2 0h3m4 0h1m4 0h2m9 0h4m3 0h1m32 0h2m-86 1h1m1 0h2m1 0h2m1 0h1m2 0h1m1 0h1m1 0h1m2 0h1m14 0h1m10 0h4m3 0h2m30 0h2m-86 1h2m2 0h1m1 0h2m3 0h1m1 0h1m7 0h3m7 0h1m2 0h1m3 0h1m8 0h3m1 0h1m1 0h1m29 0h1m-80 1h1m3 0h1m2 0h1m12 0h8m10 0h1m3 0h2m30 0h2m4 0h3m2 0h1m-94 1h3m3 0h3m2 0h1m2 0h2m2 0h1m5 0h1m3 0h3m3 0h1m15 0h1m1 0h1m1 0h1m1 0h1m25 0h1m4 0h2m1 0h2m-92 1h2m2 0h2m1 0h1m1 0h1m1 0h1m2 0h2m2 0h1m5 0h2m1 0h2m1 0h1m1 0h1m1 0h1m14 0h2m8 0h2m2 0h1m21 0h1m1 0h1m1 0h1m1 0h1m-90 1h3m4 0h2m3 0h1m9 0h1m4 0h1m2 0h1m11 0h2m7 0h1m1 0h1m2 0h1m1 0h1m14 0h1m6 0h4m1 0h2m-85 1h1m4 0h1m4 0h1m5 0h1m2 0h1m8 0h1m2 0h3m1 0h2m3 0h4m6 0h1m4 0h2m8 0h2m11 0h3m1 0h1m1 0h3m-89 1h1m3 0h2m1 0h1m5 0h1m7 0h1m5 0h1m1 0h2m1 0h1m3 0h1m2 0h1m1 0h2m2 0h1m5 0h1m11 0h1m2 0h1m1 0h1m2 0h1m2 0h1m2 0h1m2 0h1m4 0h1m1 0h1m-86 1h2m2 0h1m21 0h1m2 0h1m3 0h2m6 0h2m2 0h1m5 0h1m1 0h5m5 0h3m2 0h1m7 0h1m2 0h1m3 0h2m-87 1h1m2 0h3m3 0h4m10 0h1m5 0h1m5 0h1m8 0h4m6 0h1m1 0h1m4 0h3m1 0h2m4 0h4m4 0h1m2 0h1m-82 1h4m3 0h3m12 0h1m11 0h1m8 0h3m1 0h2m2 0h2m6 0h2m3 0h1m2 0h1m1 0h1m3 0h1m-73 1h1m25 0h1m8 0h4m5 0h2m1 0h1m3 0h1m1 0h1m4 0h1m1 0h1m1 0h1m2 0h1m2 0h2m6 0h4m-84 1h1m2 0h1m31 0h1m1 0h2m1 0h2m2 0h1m1 0h1m4 0h1m1 0h3m8 0h1m1 0h3m1 0h2m2 0h1m8 0h2m-87 1h3m2 0h1m30 0h1m2 0h1m1 0h3m1 0h2m3 0h2m4 0h1m7 0h1m1 0h1m1 0h2m2 0h3m11 0h1m-84 1h1m1 0h1m1 0h2m1 0h2m18 0h2m4 0h1m1 0h1m3 0h2m1 0h4m1 0h1m2 0h1m14 0h1m3 0h1m1 0h1m-72 1h3m2 0h1m21 0h1m5 0h3m4 0h1m1 0h4m9 0h2m10 0h1m9 0h3m3 0h1m-85 1h1m1 0h1m1 0h1m1 0h2m29 0h1m1 0h2m16 0h1m4 0h2m2 0h2m5 0h1m7 0h1m-82 1h1m1 0h1m3 0h1m29 0h1m3 0h2m17 0h2m15 0h1m3 0h1m-81 1h1m2 0h1m1 0h3m17 0h1m9 0h1m2 0h1m1 0h1m11 0h1m10 0h2m21 0h1m-85 1h1m10 0h1m4 0h1m15 0h1m4 0h1m1 0h1m2 0h1m-45 1h1m17 0h1m11 0h3m8 0h1m1 0h1m10 0h1m4 0h1m7 0h1m-66 1h1m2 0h2m22 0h2m11 0h1m2 0h1m9 0h2m6 0h1m-59 1h1m1 0h1m1 0h1m19 0h1m4 0h1m3 0h2m16 0h1m4 0h3m28 0h1m-91 1h1m5 0h2m22 0h1m8 0h1m9 0h4m1 0h1m2 0h1m17 0h1m-78 1h4m1 0h1m3 0h2m8 0h1m6 0h1m1 0h1m12 0h2m35 0h1m-79 1h1m1 0h1m3 0h2m6 0h1m4 0h1m8 0h1m3 0h1m1 0h1m1 0h1m2 0h2m-37 1h2m5 0h1m1 0h1m21 0h1m1 0h1m3 0h2m9 0h1m-42 1h2m6 0h4m3 0h1m3 0h4m1 0h1m1 0h1m14 0h2m3 0h2m5 0h1m-53 1h2m1 0h3m1 0h3m1 0h1m4 0h2m1 0h2m2 0h1m4 0h1m12 0h1m2 0h2m7 0h1m-62 1h2m5 0h1m2 0h5m1 0h1m7 0h2m1 0h1m21 0h2m1 0h1m-53 1h1m6 0h2m1 0h1m1 0h1m1 0h2m1 0h1m3 0h1m1 0h3m2 0h3m17 0h2m-52 1h3m12 0h1m1 0h3m4 0h2m6 0h1m17 0h1m-37 1h3m11 0h1m4 0h1m6 0h3m16 0h1m-47 1h2m8 0h2m7 0h1m9 0h1m-25 1h2m3 0h1m1 0h1m-18 1h1m1 0h1m7 0h2m3 0h2m-13 1h1m1 0h1m2 0h1m-3 1h1m-6 1h1m3 0h2m-11 1h1m8 0h1m5 0h1m-18 1h1m10 10h2m-2 1h1m24 0h1m-29 2h1m8 1h1m5 1h1m-11 6h1m2 0h1m-2 1h1m-1 1h1" stroke="rgb(191,191,191)" stroke-width="1" fill="none"/>
<path transform="translate(0,.5)" d="M0 0m277 778h2m-10 2h1m-9 2h1m4 1h1m13 0h2m3 0h1m-4 1h3m3 0h1m-12 1h1m7 0h1m2 0h2m-22 1h1m2 0h1m5 0h3m2 0h1m15 0h1m-31 1h1m2 0h1m2 0h1m2 0h1m6 0h1m1 0h1m2 0h1m-32 1h1m9 0h1m19 0h1m2 0h1m-24 1h1m1 0h2m2 0h1m14 0h3m4 0h1m4 0h1m-36 1h1m1 0h1m5 0h1m15 0h1m-31 1h1m18 0h1m14 0h1m-36 1h2m6 0h2m24 0h1m3 0h2m-33 1h1m2 0h1m22 0h1m1 0h1m2 0h1m-34 1h1m27 0h1m-33 1h1m1 0h1m29 0h1m2 0h2m-37 1h1m1 0h2m32 0h1m1 1h1m-35 1h1m31 0h1m-36 1h2m1 0h1m34 0h2m-40 1h1m35 0h1m-36 1h1m30 0h1m-28 1h1m29 0h3m-3 1h1m-46 1h1m5 0h1m1 0h2m1 0h1m36 0h1m1 0h1m-46 1h2m3 0h2m34 0h5m-43 1h1m1 0h2m31 0h4m-36 1h1m32 0h1m-37 1h1m2 0h1m35 0h1m1 0h1m-64 1h2m18 0h3m1 0h2m31 0h1m-66 1h1m7 0h1m21 0h1m1 0h1m34 0h1m-73 1h2m3 0h1m24 0h1m6 0h4m31 0h1m1 0h2m-74 1h2m34 0h1m35 0h2m-88 1h1m13 0h6m18 0h1m6 0h1m3 0h2m1 0h1m25 0h1m3 0h1m3 0h2m-71 1h1m33 0h1m1 0h1m28 0h1m5 0h1m-81 1h1m2 0h1m17 0h2m4 0h1m18 0h1m-41 1h2m2 0h3m9 0h1m19 0h1m27 0h1m1 0h1m1 0h1m-80 1h1m1 0h2m2 0h1m11 0h1m1 0h1m26 0h1m2 0h1m29 0h1m-84 1h1m4 0h2m1 0h2m3 0h1m1 0h1m6 0h1m4 0h3m17 0h1m3 0h1m3 0h2m2 0h1m15 0h1m3 0h1m9 0h1m-91 1h1m8 0h2m9 0h1m2 0h1m8 0h1m17 0h2m1 0h3m20 0h2m1 0h3m1 0h1m3 0h1m-84 1h1m10 0h2m3 0h1m1 0h1m5 0h1m2 0h1m19 0h1m19 0h1m1 0h1m4 0h1m4 0h1m2 0h2m-84 1h1m2 0h2m3 0h1m2 0h2m4 0h1m6 0h1m29 0h2m5 0h1m8 0h2m-65 1h1m1 0h1m3 0h2m6 0h1m6 0h1m1 0h1m7 0h2m11 0h1m3 0h1m3 0h1m13 0h2m1 0h1m4 0h1m-83 1h2m7 0h1m1 0h2m5 0h2m5 0h2m3 0h1m25 0h2m1 0h2m3 0h1m4 0h2m5 0h1m-82 1h1m1 0h2m5 0h1m4 0h3m5 0h2m1 0h1m2 0h1m2 0h5m29 0h1m2 0h3m-71 1h2m10 0h3m8 0h1m1 0h1m2 0h1m6 0h1m19 0h2m7 0h1m5 0h1m1 0h1m-69 1h2m3 0h1m4 0h1m13 0h1m6 0h2m8 0h1m3 0h1m5 0h1m6 0h1m1 0h1m4 0h2m2 0h1m4 0h1m-78 1h1m10 0h3m14 0h1m31 0h1m2 0h1m-65 1h1m2 0h1m3 0h2m20 0h1m32 0h1m-60 1h1m2 0h1m11 0h1m12 0h2m3 0h3m44 0h1m-81 1h2m1 0h1m2 0h1m6 0h1m7 0h1m3 0h1m8 0h3m25 0h2m-63 1h1m2 0h1m1 0h1m5 0h2m7 0h2m1 0h3m7 0h1m-36 1h3m1 0h1m2 0h1m15 0h1m7 0h1m3 0h2m-39 1h1m2 0h1m3 0h2m8 0h2m10 0h2m2 0h1m4 0h1m1 0h1m38 0h1m-81 1h2m1 0h1m2 0h2m6 0h1m4 0h1m5 0h2m5 0h1m10 0h1m-41 1h1m2 0h4m1 0h1m1 0h1m5 0h1m3 0h2m4 0h1m3 0h1m-30 1h1m2 0h3m8 0h1m9 0h1m2 0h1m30 0h1m-37 1h1m3 0h1m2 0h1m-29 1h1m7 0h1m12 0h1m4 0h1m1 0h4m-33 1h1m6 0h1m1 0h1m2 0h2m2 0h1m10 0h1m1 0h1m1 0h2m-36 1h1m6 0h3m2 0h1m3 0h1m6 0h2m9 0h1m-22 1h1m2 0h1m1 0h2m4 0h1m1 0h1m-13 1h3m5 0h1m5 0h1m-12 1h1m6 0h1m4 0h1m-12 1h1m1 0h1m2 0h2m4 0h1m-21 1h1m2 0h1m1 0h1m1 0h1m-4 1h3m12 0h1m5 0h1m-21 1h1m3 0h1m1 0h1m-3 1h2m14 0h1m-10 1h1m-16 1h1m5 1h2m-4 3h1m2 23h1" stroke="rgb(158,158,158)" stroke-width="1" fill="none"/>
<path transform="translate(0,.5)" d="M0 0m262 781h1m22 3h1m-3 1h2m-5 1h2m1 0h1m-6 1h2m1 0h1m3 0h1m18 0h1m-36 1h1m2 0h1m2 0h7m7 0h2m1 0h1m-24 1h1m2 0h2m1 0h1m7 0h1m2 0h1m5 0h1m-26 1h1m5 0h1m1 0h1m7 0h1m4 0h2m-22 1h1m7 0h2m11 0h1m1 0h1m-3 1h1m4 0h1m-27 1h1m22 0h1m-26 1h1m2 0h1m8 0h1m-18 1h1m1 0h2m2 0h1m23 0h1m1 0h2m4 0h1m-34 1h2m24 0h1m-32 1h2m1 0h4m24 0h1m2 0h1m-34 1h1m2 0h1m0 1h1m29 0h1m-35 1h2m-1 1h1m28 0h1m4 0h1m-36 1h1m4 0h1m25 0h1m-32 1h1m1 0h1m1 0h1m26 0h1m-31 1h1m28 0h3m1 0h1m3 0h1m-38 1h1m31 0h2m-37 1h1m32 1h1m-1 1h1m3 0h1m-34 1h1m2 0h2m24 0h1m2 0h1m-37 1h1m1 0h1m1 0h1m26 0h1m3 0h1m-66 1h1m28 0h2m31 0h1m2 0h1m-68 1h2m34 0h1m25 0h1m4 0h1m-7 1h1m1 0h2m-63 1h1m31 0h1m28 0h2m6 0h1m-71 1h2m30 0h1m1 0h1m3 0h1m23 0h1m2 0h1m-80 1h1m4 0h2m2 0h1m3 0h2m41 0h2m16 0h1m1 0h1m1 0h1m-82 1h2m11 0h2m1 0h3m1 0h1m1 0h1m32 0h2m2 0h2m14 0h3m-77 1h1m10 0h1m5 0h2m33 0h1m3 0h2m1 0h1m7 0h1m4 0h2m-77 1h1m13 0h2m4 0h1m32 0h1m8 0h1m16 0h1m-70 1h2m1 0h3m2 0h1m6 0h2m6 0h1m27 0h2m4 0h3m5 0h2m1 0h1m-69 1h2m2 0h1m5 0h1m4 0h2m35 0h1m14 0h3m-70 1h2m4 0h1m3 0h1m1 0h2m1 0h1m8 0h1m23 0h2m1 0h2m6 0h2m-64 1h1m1 0h2m1 0h1m1 0h1m4 0h1m1 0h1m2 0h1m2 0h1m4 0h1m29 0h1m6 0h1m9 0h1m-74 1h1m9 0h2m-13 1h1m1 0h1m6 0h4m11 0h2m33 0h1m7 0h2m-75 1h2m5 0h2m1 0h3m10 0h3m4 0h1m3 0h1m2 0h1m36 0h1m-75 1h1m2 0h1m3 0h3m23 0h1m28 0h1m-59 1h1m1 0h1m2 0h1m4 0h1m12 0h2m3 0h1m-24 1h1m9 0h1m9 0h2m-24 1h2m1 0h1m4 0h1m1 0h1m5 0h1m7 0h2m3 0h1m-27 1h1m15 0h1m3 0h2m1 0h2m-28 1h1m2 0h1m6 0h1m2 0h1m3 0h1m4 0h3m2 0h1m-26 1h1m2 0h1m6 0h2m2 0h1m1 0h1m6 0h1m-23 1h2m2 0h1m4 0h1m9 0h2m1 0h1m-33 1h2m1 0h2m6 0h1m1 0h3m8 0h1m2 0h1m-26 1h1m9 0h2m1 0h2m5 0h3m1 0h1m5 0h1m-31 1h2m3 0h1m1 0h1m3 0h1m3 0h1m3 0h1m2 0h1m1 0h2m2 0h2m-30 1h1m6 0h1m3 0h1m5 0h3m2 0h1m1 0h3m-18 1h1m1 0h2m5 0h1m7 0h2m3 0h1m-15 1h4m5 0h1m1 0h1m-20 1h1m9 0h1m6 0h3m-14 1h1m6 0h1m1 0h1m-4 1h1m-13 1h2m14 2h1m-15 1h1m5 0h1" stroke="rgb(128,128,128)" stroke-width="1" fill="none"/>
<path transform="translate(0,.5)" d="M0 0m282 787h2m-11 1h2m7 0h2m2 0h1m-11 1h4m2 0h1m-13 1h1m5 0h4m2 0h1m4 0h1m-18 1h1m2 0h3m4 0h1m7 0h1m1 0h1m-21 1h2m4 0h3m9 0h1m1 0h3m-23 1h2m5 0h2m11 0h1m-26 1h1m1 0h2m1 0h2m5 0h1m13 0h1m-26 1h1m23 0h1m-30 1h1m2 0h1m3 0h2m21 0h1m1 0h1m1 0h1m-3 1h1m-33 1h1m4 0h1m25 0h1m-28 1h1m1 0h2m21 0h1m-27 1h1m1 0h3m23 0h3m-31 1h1m6 0h1m23 0h2m-32 1h1m24 0h1m1 0h1m-30 1h1m1 0h1m1 0h1m27 1h1m-29 1h1m26 0h1m-32 1h1m32 1h2m-35 1h3m30 0h1m-34 1h1m1 0h2m2 0h1m22 0h1m-30 1h1m1 0h3m19 0h1m2 0h1m1 0h1m1 0h1m-30 1h3m19 0h2m1 0h2m1 0h1m-27 1h1m1 0h1m17 0h3m1 0h2m-28 1h1m2 0h2m18 0h1m4 0h1m-33 1h1m4 0h4m2 0h1m20 0h1m-32 1h1m5 0h5m5 0h1m4 0h1m5 0h2m1 0h1m-27 1h1m3 0h1m2 0h1m2 0h1m6 0h2m3 0h1m-65 1h1m2 0h1m3 0h1m34 0h1m2 0h1m3 0h1m2 0h1m7 0h1m-57 1h2m36 0h1m9 0h1m1 0h2m3 0h2m3 0h2m-63 1h1m11 0h1m33 0h2m4 0h2m2 0h1m1 0h2m-57 1h1m3 0h1m38 0h1m2 0h1m3 0h1m6 0h1m-63 1h1m3 0h1m3 0h2m36 0h1m1 0h3m3 0h1m1 0h1m-64 1h2m5 0h1m1 0h1m6 0h1m32 0h1m-50 1h1m2 0h1m5 0h2m6 0h2m6 0h1m-27 1h1m10 0h3m4 0h2m-21 1h1m11 0h4m9 0h3m-29 1h1m6 0h1m1 0h3m1 0h1m2 0h1m3 0h2m3 0h1m1 0h1m-30 1h3m3 0h2m3 0h3m3 0h6m3 0h2m-27 1h1m6 0h2m1 0h1m5 0h2m1 0h1m5 0h2m-17 1h1m1 0h1m2 0h1m1 0h3m-14 1h1m2 0h1m3 0h1m6 0h2m2 0h2m-23 1h1m5 0h1m2 0h1m5 0h1m8 0h1m-25 1h1m3 0h3m1 0h1m9 0h3m3 0h1m-23 1h1m2 0h4m5 0h1m3 0h1m1 0h1m2 0h1m-29 1h2m2 0h3m5 0h2m4 0h2m3 0h3m-20 1h1m6 0h1m2 0h1m1 0h1m3 0h2m-17 1h2m2 0h1m3 0h1m6 0h1m5 0h1m-22 1h3m3 0h1m3 0h1m1 0h1m-20 1h1m6 0h2m2 0h1m1 0h3m3 0h2m5 0h1m-13 1h1m3 0h4m-15 1h1m6 0h1m2 1h1m1 0h2m3 0h1m-5 1h1m3 0h1" stroke="rgb(97,97,97)" stroke-width="1" fill="none"/>
<path transform="translate(0,.5)" d="M0 0m280 787h1m3 1h2m-6 1h2m2 0h2m-15 1h1m8 0h1m3 0h3m-16 1h2m9 0h2m2 0h2m-16 1h1m2 0h1m3 0h1m5 0h1m-19 1h1m7 0h2m2 0h1m2 0h5m2 0h1m-11 1h1m1 0h2m1 0h4m1 0h2m-26 1h1m2 0h4m6 0h1m8 0h1m1 0h1m-25 1h1m4 0h2m5 0h1m12 0h1m3 0h1m-27 1h1m22 0h1m-25 1h2m21 0h2m1 0h1m1 0h1m-5 1h2m2 0h1m-31 1h1m3 0h1m1 0h2m17 0h1m4 0h2m-32 1h6m1 0h1m17 0h2m-29 1h2m6 0h2m16 0h1m-2 1h2m2 0h1m-29 1h2m1 0h2m20 0h3m-28 1h1m3 0h1m21 0h3m-26 1h1m25 0h1m-31 1h1m1 0h1m4 0h1m19 0h3m-27 1h2m1 0h1m20 0h1m-4 1h2m1 0h2m-24 1h2m18 0h1m4 0h1m-26 1h3m15 0h1m2 0h1m4 0h1m-27 1h1m1 0h2m14 0h1m6 0h1m-27 1h1m4 0h1m2 0h2m2 0h1m1 0h2m1 0h4m-18 1h1m2 0h1m1 0h2m5 0h2m2 0h1m1 0h3m-18 1h1m3 0h1m1 0h1m4 0h1m3 0h1m4 0h1m-27 1h1m1 0h1m4 0h1m2 0h3m7 0h1m-18 1h1m3 0h1m3 0h4m1 0h1m1 0h2m-14 1h3m1 0h1m3 0h1m-54 1h2m45 0h1m1 0h2m2 0h2m1 0h1m-56 1h1m44 0h2m5 0h1m-2 1h1m-51 2h1m4 2h2m-10 1h1m2 0h1m10 0h1m-15 1h2m7 0h2m3 0h1m-23 1h2m4 0h4m3 0h1m1 0h2m-17 1h5m1 0h1m4 0h1m3 0h2m-15 1h1m6 0h2m1 0h1m-12 1h3m6 0h2m-11 1h1m3 0h1m3 0h1m1 0h3m-13 1h1m9 0h1m5 0h1m-8 1h1m2 0h1m-4 1h1m-12 1h1m9 0h3m-8 1h2m2 0h1m4 0h1m-9 1h1m-5 2h1m17 0h1m-13 1h1" stroke="rgb(66,66,66)" stroke-width="1" fill="none"/>
<path transform="translate(0,.5)" d="M0 0m272 790h1m8 0h1m-1 1h1m2 0h2m-13 1h2m5 0h1m1 0h3m1 0h2m-16 1h2m6 0h2m5 0h2m-17 1h2m1 0h2m3 0h1m2 0h1m4 0h1m-17 1h6m1 0h1m2 0h5m1 0h1m-17 1h2m1 0h2m6 0h2m1 0h4m-21 1h3m4 0h2m4 0h4m4 0h1m3 0h1m-24 1h2m9 0h3m1 0h1m2 0h1m4 0h1m-23 1h1m14 0h1m1 0h1m3 0h2m-22 1h1m12 0h3m2 0h1m-19 1h1m4 0h1m9 0h2m-22 1h3m2 0h1m1 0h2m11 0h1m2 0h1m-24 1h1m1 0h1m5 0h1m10 0h1m2 0h2m-26 1h1m3 0h2m16 0h1m-24 1h2m2 0h2m18 0h1m3 0h1m-30 1h3m1 0h2m12 0h3m1 0h7m-29 1h1m1 0h1m2 0h1m13 0h2m1 0h4m-22 1h1m1 0h1m12 0h1m3 0h1m1 0h1m1 0h2m-23 1h2m11 0h1m5 0h1m-20 1h2m3 0h1m6 0h4m3 0h1m-19 1h4m4 0h1m5 0h1m-21 1h2m5 0h1m2 0h1m1 0h6m2 0h1m8 0h1m-29 1h1m3 0h2m1 0h2m2 0h2m1 0h1m2 0h1m-13 1h1m2 0h1m2 0h5m2 0h2m1 0h1m-14 1h3m3 0h3m2 0h3m-20 1h1m6 0h1m4 0h3m2 0h2m-12 1h1m1 0h1m4 0h1m-1 1h1m-7 1h1m-48 7h1m-1 1h1m-1 1h1m-8 2h1m7 0h1m-4 1h2m2 0h1m-5 1h1m0 5h1" stroke="rgb(36,36,36)" stroke-width="1" fill="none"/>
<path transform="translate(0,.5)" d="M0 0m281 792h1m-8 1h1m-1 1h1m5 1h2m-8 1h1m3 0h5m2 0h1m-14 1h4m2 0h4m4 0h4m-21 1h2m2 0h9m3 0h1m1 0h2m-20 1h3m1 0h14m1 0h1m-19 1h1m3 0h12m3 0h1m-16 1h4m1 0h9m-14 1h1m2 0h11m-19 1h1m1 0h5m1 0h10m-18 1h1m2 0h16m-17 1h18m-19 1h12m3 0h1m-19 1h2m2 0h12m2 0h1m-15 1h12m1 0h3m1 0h1m-17 1h11m1 0h3m-15 1h3m1 0h6m4 0h1m-12 1h4m1 0h5m-12 1h2m1 0h1m6 0h2" stroke="rgb(8,8,8)" stroke-width="1" fill="none"/>
<path d="M246.3 767.8V892.1M206.0 853.7H331.4" stroke="#555" stroke-width="0.9" fill="none"/>
<rect x="247.8" y="768.9" width="82.0" height="122.1" fill="none" stroke="#333" stroke-width="1.2" stroke-dasharray="3.1,2.8"/>
<rect x="206.0" y="767.8" width="125.4" height="124.3" fill="none" stroke="#666" stroke-width="1.0"/>
<text x="211.7" y="782.8" font-size="10.20" fill="#111">23%</text>
<text x="324.8" y="782.8" font-size="10.20" text-anchor="end" fill="#111">75%</text>
<text x="314.8" y="886.0" font-size="10.20" text-anchor="end" fill="#111">KDR PE</text>
<path d="M315.4 882.7H322.9" stroke="#222" stroke-width="0.9"/>
<path d="M325.4 882.7l-3.4 -1.7v3.4z" fill="#222"/>
<path transform="translate(0,.5)" d="M0 0m287 906h2m-81 2h2m11 0h2m-14 1h1m6 0h1m-8 1h2m5 0h1m45 0h2m15 0h1m-1 1h1m6 0h2m-67 1h1m18 0h2m-26 1h1m4 0h1m5 0h1m33 0h2m-47 1h1m5 0h2m2 0h2m12 0h1m-19 1h2m9 0h1m6 0h1m-19 1h5m5 0h1m1 0h1m-12 1h2m1 0h3m4 0h1m18 0h2m-38 1h2m4 0h3m1 0h1m2 0h3m2 0h2m2 0h1m-28 1h1m11 0h1m1 0h1m2 0h1m1 0h2m6 0h2m36 0h1m-66 1h1m9 0h2m1 0h1m1 0h2m8 0h1m2 0h1m-17 1h2m2 0h2m4 0h8m-29 1h5m7 0h1m8 0h1m4 0h2m1 0h1m43 0h1m-69 1h5m1 0h1m1 0h1m1 0h2m3 0h1m2 0h1m2 0h1m1 0h1m8 0h2m-39 1h2m1 0h2m5 0h2m5 0h1m5 0h1m3 0h1m-29 1h2m1 0h1m1 0h3m14 0h8m3 0h1m-35 1h1m3 0h4m14 0h1m3 0h1m1 0h2m2 0h2m1 0h1m-38 1h1m8 0h1m18 0h1m1 0h2m-33 1h1m3 0h1m23 0h8m-33 1h1m26 0h1m2 0h1m1 0h1m7 0h2m26 0h2m-71 1h2m1 0h2m23 0h1m4 0h1m-34 1h1m2 0h2m23 0h5m-34 1h1m29 0h2m2 0h1m-36 1h1m30 0h2m2 0h3m35 0h1m-40 1h1m38 0h1m-75 1h1m54 0h1m-55 1h1m32 0h1m-34 1h1m31 0h1m-32 1h1m30 0h2m1 0h1m4 0h1m1 0h1m-43 1h1m32 0h3m4 0h2m5 0h1m-48 1h1m30 0h1m9 0h1m1 0h1m3 0h1m31 0h2m-81 1h1m31 0h1m1 0h2m5 0h1m1 0h1m-44 1h1m34 0h1m6 0h1m13 0h1m-56 1h1m30 0h2m1 0h1m1 0h1m-39 1h1m31 0h1m1 0h1m1 0h4m1 0h2m1 0h2m-46 1h1m32 0h1m2 0h1m1 0h4m3 0h1m-46 1h1m33 0h4m1 0h2m4 0h2m-47 1h1m33 0h1m1 0h1m2 0h1m48 0h2m-90 1h1m35 0h1m2 0h2m-40 1h1m34 0h1m-35 1h1m33 0h1m2 0h1m3 0h2m45 0h1m-88 1h1m27 0h5m2 0h2m8 0h1m40 0h2m-90 1h1m32 0h3m11 0h1m10 0h1m-30 1h1m1 0h2m25 0h1m-29 1h3m4 0h1m40 0h2m-80 1h1m36 0h2m7 0h1m21 0h1m-70 1h1m40 0h1m5 0h1m15 0h2m4 0h2m-71 1h1m32 0h3m34 0h1m-40 1h1m1 0h1m2 0h1m48 0h2m-86 1h3m26 0h1m1 0h1m1 0h3m3 0h1m-38 1h1m28 0h2m1 0h2m3 0h1m-39 1h1m28 0h2m1 0h4m-36 1h1m23 0h2m3 0h2m1 0h2m1 0h1m5 0h2m-42 1h3m19 0h1m4 0h2m2 0h2m-33 1h2m21 0h1m2 0h3m3 0h1m-34 1h3m26 0h3m4 0h2m-40 1h1m2 0h1m27 0h1m1 0h1m5 0h1m2 0h2m-42 1h1m2 0h1m1 0h2m16 0h5m2 0h2m-33 1h1m1 0h2m2 0h1m1 0h1m3 0h1m9 0h5m5 0h2m-31 1h1m2 0h2m3 0h2m1 0h2m3 0h2m3 0h2m7 0h1m-31 1h1m1 0h2m4 0h1m2 0h2m3 0h1m1 0h3m8 0h1m-32 1h3m1 0h2m7 0h2m3 0h3m2 0h2m-24 1h1m5 0h1m1 0h1m7 0h1m1 0h2m2 0h2m3 0h1m12 0h1m3 0h1m-45 1h2m2 0h1m2 0h1m9 0h5m5 0h1m11 0h1m4 0h1m39 0h1m-86 1h2m2 0h1m6 0h1m1 0h1m5 0h1m1 0h2m33 0h2m27 0h1m-80 1h3m3 0h3m4 0h2m11 0h1m-33 1h1m4 0h1m4 0h1m1 0h2m1 0h1m8 0h2m6 0h1m6 0h2m-42 1h2m3 0h3m6 0h1m2 0h1m3 0h2m45 0h1m-68 1h1m3 0h3m7 0h1m1 0h1m12 0h1m-30 1h1m1 0h1m1 0h1m1 0h1m3 0h1m10 0h2m3 0h1m2 0h1m-29 1h2m7 0h1m1 0h2m5 0h2m5 0h1m3 0h1m29 0h2m-60 1h1m8 0h2m20 0h2m18 0h1m30 0h1m-84 1h2m5 0h2m2 0h1m71 0h1m-84 1h1m6 0h2m1 0h1m-13 1h2m17 0h1m-13 1h2m10 0h1m52 0h1m-66 1h2m29 0h2m32 0h1m4 0h1m-75 1h2m2 0h2m4 1h2m-10 1h1m8 0h1m11 0h2m5 0h2m-31 1h2m8 0h3m-2 1h2m48 0h1m-48 1h2m-12 1h1m7 0h2m1 0h1m-12 1h1m52 1h2m4 0h1m-1 1h1m-58 1h2m9 0h1m-2 1h2m-2 1h1" stroke="rgb(224,224,224)" stroke-width="1" fill="none"/>
<path transform="translate(0,.5)" d="M0 0m220 904h1m5 9h1m0 3h2m4 0h1m-9 1h1m-1 1h1m1 0h1m11 0h1m-19 1h2m4 0h1m1 0h1m-7 1h1m13 0h2m-12 2h2m5 0h4m2 0h1m-29 1h2m1 0h2m7 0h1m8 0h1m2 0h1m-23 1h1m4 0h1m4 0h5m2 0h3m2 0h1m1 0h1m-26 1h1m5 0h1m2 0h2m5 0h4m-22 1h3m4 0h1m12 0h1m1 0h3m4 0h2m2 0h1m-36 1h5m2 0h1m1 0h1m4 0h1m1 0h1m5 0h2m1 0h2m4 0h1m1 0h1m-33 1h1m2 0h1m3 0h1m13 0h2m1 0h1m-27 1h2m3 0h1m1 0h2m14 0h1m4 0h1m1 0h2m1 0h1m-31 1h1m2 0h1m21 0h1m1 0h1m1 0h2m-31 1h1m2 0h1m18 0h1m2 0h1m-28 1h1m27 0h1m2 0h2m-34 1h1m4 0h1m23 0h1m2 0h2m-35 1h1m1 0h1m3 0h2m23 0h1m-30 1h1m26 0h1m3 0h1m-33 1h3m23 0h1m-27 1h1m0 1h1m31 0h1m6 0h1m-41 1h1m29 0h1m10 0h1m-1 1h1m-41 1h1m39 0h1m-42 1h2m29 0h3m-4 1h1m2 0h1m-35 1h1m33 0h1m-4 1h1m1 0h1m-2 1h1m4 0h1m-6 1h1m1 0h1m1 0h2m1 0h1m-8 1h1m-2 1h1m-1 1h2m-4 2h1m2 0h1m-33 1h1m27 0h1m1 0h1m-31 1h1m28 0h1m-29 1h1m28 0h1m2 0h1m-33 1h1m28 0h1m2 0h1m-4 1h2m-32 1h3m24 0h1m1 0h1m3 0h2m-32 1h1m26 0h1m-1 1h1m-6 1h2m5 0h1m-11 1h3m4 0h1m2 0h1m-24 1h1m16 0h1m1 0h1m2 0h2m-29 1h1m3 0h1m3 0h2m10 0h1m1 0h2m3 0h2m-33 1h1m11 0h1m5 0h2m5 0h1m1 0h2m-29 1h2m1 0h2m1 0h1m11 0h1m5 0h6m1 0h1m-32 1h1m1 0h1m2 0h1m2 0h1m3 0h2m6 0h1m2 0h1m-20 1h2m7 0h1m2 0h1m2 0h3m-14 1h2m3 0h1m2 0h3m2 0h1m10 0h1m-29 1h1m2 0h1m1 0h2m5 0h2m-11 1h2m1 0h1m6 0h1m4 0h2m-21 1h1m2 0h2m1 0h1m9 0h1m2 0h2m17 0h1m-38 1h2m1 0h2m-3 1h1m2 0h3m9 0h1m-12 1h3m12 0h2m-15 1h1m2 0h1m-1 1h2m-1 1h1m5 0h2m-22 1h1m29 1h1m-21 2h1m0 1h1m8 8h1m-13 5h2" stroke="rgb(191,191,191)" stroke-width="1" fill="none"/>
<path transform="translate(0,.5)" d="M0 0m228 918h1m-3 1h1m7 4h1m2 0h1m-18 1h2m12 0h1m2 0h1m-17 1h1m-3 1h1m10 0h1m6 0h1m-24 1h2m3 0h1m2 0h1m1 0h1m1 0h1m3 0h1m2 0h1m3 0h1m3 0h1m-34 1h2m5 0h2m13 0h1m2 0h1m-17 1h1m2 0h1m11 0h1m2 0h1m-2 1h1m4 0h1m-30 1h1m19 0h1m3 0h2m-26 1h6m17 0h1m1 0h2m-28 1h2m1 0h1m1 0h1m21 0h1m-29 1h1m1 0h1m-4 1h2m26 0h1m2 0h1m-4 1h2m2 0h1m-30 1h1m1 1h1m22 0h1m1 0h2m-30 1h1m27 0h1m-30 1h2m25 0h1m1 0h1m-28 1h1m27 0h1m-29 1h1m27 0h1m-30 1h1m26 0h2m-30 1h1m28 0h1m-1 1h1m3 0h1m-4 1h1m-32 1h2m28 0h1m-2 1h3m-31 1h1m27 0h1m2 0h1m-5 1h3m3 0h1m-32 1h1m25 0h1m-29 1h1m1 0h1m24 0h1m1 0h2m-4 2h1m-1 1h2m1 0h2m-33 1h1m28 0h1m1 0h2m-33 1h3m0 1h1m22 0h1m1 0h1m-4 1h4m-26 1h1m2 0h1m18 0h1m1 0h1m1 0h1m-28 1h1m2 0h2m-5 1h1m1 0h2m7 0h2m1 0h1m-12 1h2m1 0h1m2 0h1m2 0h3m1 0h1m2 0h3m3 0h1m-17 1h1m6 0h1m-15 1h2m4 0h2m1 0h1m6 0h1m2 0h2m1 0h1m2 0h1m-25 1h1m1 0h2m2 0h2m6 0h3m1 0h1m-21 1h1m7 0h1m2 0h1m2 0h1m1 0h1m1 0h2m-12 1h1m3 0h1m1 0h1m-14 1h2m4 0h1m-3 1h1m9 0h1m-15 1h1m4 0h1m8 0h1m-15 1h2m1 2h2" stroke="rgb(158,158,158)" stroke-width="1" fill="none"/>
<path transform="translate(0,.5)" d="M0 0m214 923h1m5 2h1m3 0h1m3 0h1m-9 1h1m1 0h2m2 0h4m-10 1h1m7 0h2m-16 1h1m3 0h1m2 0h1m3 0h1m-12 1h1m3 0h1m11 0h1m2 0h2m-20 1h1m4 0h1m10 0h3m1 0h1m-21 1h1m18 1h1m-24 1h1m3 0h1m17 0h1m-23 1h2m2 0h1m17 0h1m2 0h2m1 0h2m-31 1h2m1 0h1m18 0h1m1 0h1m2 0h1m1 0h1m-29 1h1m25 0h2m-30 1h1m1 0h1m23 0h2m1 0h1m-29 1h2m24 0h1m-24 1h1m21 0h2m-1 1h1m-29 1h1m28 0h1m-2 1h1m-27 1h1m25 1h1m-30 1h2m24 0h1m-27 1h1m24 0h3m1 0h2m-5 1h1m4 0h1m-32 1h1m25 0h1m1 0h1m4 0h2m-33 1h1m25 0h1m1 0h1m3 0h1m-33 1h1m30 0h1m-32 2h1m24 0h1m-19 4h1m18 0h1m-2 1h1m-8 2h2m-15 1h1m12 0h3m3 0h1m1 0h1m-22 1h1m5 0h1m8 0h2m3 0h1m1 0h1m-24 1h1m2 0h1m1 0h2m2 0h1m1 0h1m3 0h1m5 0h1m-18 1h1m1 0h2m3 0h1m-13 1h3m2 0h1m6 0h1m1 0h3m1 0h1m-18 1h1m1 0h1m7 0h2m3 0h2m-14 1h2m2 0h2m1 0h2m-9 1h2m5 0h1m-3 1h1m3 0h1" stroke="rgb(128,128,128)" stroke-width="1" fill="none"/>
<path transform="translate(0,.5)" d="M0 0m226 925h2m-7 1h1m2 0h2m-5 1h1m5 0h1m-9 1h2m1 0h3m1 0h1m1 0h2m-11 1h1m1 0h1m4 0h1m-11 1h4m1 0h5m-10 1h2m11 0h1m1 0h2m-17 1h1m12 0h2m-15 1h1m3 0h2m13 0h1m-4 1h1m2 0h1m-24 1h1m1 0h1m1 0h1m16 0h1m-22 1h1m4 0h1m15 0h1m-22 1h2m20 0h1m2 0h1m-25 1h1m-4 1h3m-3 1h4m-3 1h1m22 0h3m-26 1h1m21 0h3m1 0h1m-5 1h1m1 0h1m-27 1h2m24 0h1m-27 1h1m22 0h1m1 0h1m1 0h1m-29 1h1m25 1h1m1 0h1m-29 1h1m25 0h1m-25 1h2m21 0h1m0 1h1m0 1h1m-28 2h2m24 0h1m-27 1h2m20 0h1m-1 1h2m2 0h1m-26 1h1m21 0h1m-22 1h1m12 0h1m8 0h2m1 0h2m-20 1h1m9 0h1m1 0h1m2 0h1m-22 1h2m7 0h1m5 0h1m2 0h1m-19 1h2m-2 1h1m3 0h1m3 0h1m7 0h2m2 0h1m-22 1h1m6 0h1m7 0h1m9 0h1m-22 1h1m11 0h2m-12 1h1m4 0h1m7 0h1m-16 1h1m1 0h1m4 0h2m-1 1h1m6 0h1m-5 1h1m-10 1h1" stroke="rgb(97,97,97)" stroke-width="1" fill="none"/>
<path transform="translate(0,.5)" d="M0 0m225 925h1m1 3h1m-5 1h3m1 0h3m-4 1h2m2 0h1m-13 1h3m-4 1h5m6 0h1m-12 1h1m10 0h2m4 0h1m-19 1h1m12 0h1m1 0h1m2 0h1m-20 1h1m1 0h1m13 0h1m-19 1h2m1 0h1m1 0h1m13 0h1m-19 1h1m10 0h2m1 0h1m-3 1h1m7 0h1m-21 1h1m14 0h1m4 0h1m-1 1h1m-23 1h2m19 0h1m-23 2h1m1 0h1m18 0h1m-22 1h3m18 0h2m-24 1h1m18 0h1m1 0h1m3 0h1m-27 1h1m21 0h1m3 0h1m-27 1h1m22 0h1m2 0h1m-27 1h3m19 0h2m-1 1h1m1 0h1m5 0h1m-31 1h2m20 0h2m-2 1h1m1 0h1m-24 1h1m-2 1h1m19 0h4m-22 1h2m17 0h1m2 0h1m-26 1h1m4 0h1m1 0h1m11 0h1m3 0h1m-18 1h1m1 0h1m4 0h2m5 0h2m1 0h3m-23 1h1m3 0h2m4 0h1m1 0h1m4 0h3m-21 1h2m3 0h1m6 0h4m1 0h1m1 0h2m-19 1h7m1 0h1m3 0h1m5 0h1m-17 1h1m2 0h3m3 0h1m1 0h1m3 0h2m-22 1h1m5 0h1m4 0h4m10 0h1m-21 1h1m11 0h1m-6 2h2m-2 3h1m-6 1h1" stroke="rgb(66,66,66)" stroke-width="1" fill="none"/>
<path transform="translate(0,.5)" d="M0 0m222 929h1m5 1h2m-9 1h8m-7 1h3m1 0h2m3 0h2m-15 1h2m2 0h1m4 0h1m2 0h3m-16 1h6m5 0h1m1 0h1m-13 1h3m3 0h1m1 0h5m-12 1h2m3 0h1m1 0h6m-15 1h2m5 0h1m2 0h1m1 0h5m-20 1h1m2 0h1m7 0h1m1 0h3m2 0h2m-18 1h2m6 0h1m3 0h1m1 0h1m1 0h2m-20 1h3m11 0h6m-20 1h2m12 0h2m1 0h2m-21 1h2m15 0h1m2 0h1m-21 1h1m16 0h1m4 0h1m-6 1h1m1 0h1m2 0h1m-24 1h3m1 0h2m13 0h1m-21 1h3m2 0h2m13 0h1m-21 1h3m3 0h2m12 0h2m-20 1h2m4 0h1m11 0h1m-19 1h2m15 0h3m-20 1h1m16 0h3m-21 1h1m1 0h2m1 0h1m10 0h1m5 0h1m-22 1h1m3 0h1m10 0h2m1 0h1m1 0h2m-23 1h1m15 0h3m-20 1h2m2 0h1m4 0h1m1 0h2m4 0h3m2 0h2m-24 1h4m1 0h1m1 0h3m2 0h2m2 0h2m1 0h1m3 0h1m-24 1h1m1 0h3m3 0h1m5 0h2m1 0h2m-18 1h1m1 0h3m2 0h1m2 0h1m3 0h1m2 0h1m-16 1h1m1 0h1m2 0h2m2 0h1m1 1h1m5 0h1m-15 1h2m3 0h1m3 0h1m-9 1h2m6 0h2m-13 1h1m11 0h1" stroke="rgb(36,36,36)" stroke-width="1" fill="none"/>
<path transform="translate(0,.5)" d="M0 0m225 932h1m-3 1h4m-4 1h5m-7 1h3m1 0h1m-11 1h1m5 0h3m1 0h1m-11 1h2m2 0h5m-9 1h2m1 0h7m5 0h2m-17 1h1m2 0h6m1 0h3m3 0h1m-15 1h11m-12 1h12m2 0h1m-17 1h15m1 0h2m-18 1h15m1 0h2m-18 1h15m1 0h1m-17 1h1m2 0h12m-16 1h2m2 0h13m-17 1h3m2 0h12m-16 1h4m1 0h11m-16 1h15m-16 1h16m-17 1h1m2 0h1m1 0h10m1 0h4m-19 1h3m1 0h10m2 0h1m1 0h1m-20 1h15m-12 1h4m1 0h1m2 0h4m-7 1h2m2 0h2m-15 1h1m7 0h3m4 0h1m-8 1h2m5 0h2m-14 1h1m5 0h2m0 1h2m-2 1h2" stroke="rgb(8,8,8)" stroke-width="1" fill="none"/>
<path d="M246.9 898.5V1023.4M206.5 983.0H331.1" stroke="#555" stroke-width="0.9" fill="none"/>
<rect x="206.5" y="898.5" width="124.6" height="124.9" fill="none" stroke="#111" stroke-width="1.5"/>
<text x="213.7" y="915.6" font-size="13.80" font-weight="bold" fill="#111">97%</text>
<text x="316.5" y="1018.4" font-size="10.20" text-anchor="end" fill="#111">KDR PE</text>
<path d="M317.1 1015.1H324.6" stroke="#222" stroke-width="0.9"/>
<path d="M327.1 1015.1l-3.4 -1.7v3.4z" fill="#222"/>
<text transform="translate(269.0,1041.8) scale(1.090,1)" font-size="14.20" font-weight="bold" text-anchor="middle" fill="#111">CD34<tspan font-size="9" dy="-5">+</tspan><tspan dy="5">CD43</tspan><tspan font-size="9" dy="-5">-</tspan><tspan dy="5">KDR</tspan><tspan font-size="9" dy="-5">-</tspan></text>
<path transform="translate(0,.5)" d="M0 0m464 818h2m19 0h2m9 0h1m-50 1h2m15 0h2m9 0h1m6 0h1m2 0h2m-39 1h3m17 0h1m7 0h1m4 0h1m1 0h1m8 0h2m2 0h1m-48 1h1m12 0h2m3 0h1m1 0h1m4 0h1m8 0h1m7 0h3m1 0h1m-43 1h2m5 0h3m1 0h4m1 0h1m4 0h1m1 0h2m1 0h1m2 0h1m7 0h1m2 0h2m1 0h1m3 0h2m-49 1h2m5 0h5m1 0h3m2 0h1m3 0h2m2 0h1m2 0h1m1 0h1m1 0h2m3 0h1m1 0h2m1 0h1m3 0h2m-46 1h4m2 0h1m1 0h3m3 0h1m1 0h1m3 0h1m1 0h1m3 0h1m4 0h1m4 0h1m3 0h1m-48 1h1m5 0h2m1 0h1m3 0h1m1 0h1m2 0h1m2 0h2m1 0h1m3 0h1m4 0h1m1 0h1m1 0h1m6 0h1m4 0h2m-51 1h2m5 0h1m1 0h1m4 0h1m2 0h2m4 0h3m1 0h1m4 0h1m4 0h2m3 0h1m1 0h2m3 0h2m3 0h1m-41 1h3m11 0h1m1 0h1m6 0h1m5 0h1m2 0h1m7 0h1m-59 1h1m11 0h1m5 0h1m9 0h1m10 0h3m1 0h1m4 0h2m-50 1h1m8 0h3m1 0h1m28 0h1m4 0h1m2 0h1m2 0h1m-46 1h1m3 0h1m2 0h1m5 0h2m23 0h1m5 0h1m-45 1h3m1 0h3m1 0h2m29 0h1m1 0h1m-46 1h2m3 0h2m1 0h1m4 0h2m31 0h1m11 0h1m-54 1h6m4 0h1m23 0h2m7 0h1m2 0h2m4 0h1m1 0h1m-64 1h2m6 0h3m2 0h2m37 0h1m2 0h2m5 0h1m-63 1h2m2 0h2m8 0h2m30 0h1m5 0h2m6 0h1m-61 1h1m2 0h3m40 0h1m2 0h1m4 0h1m3 0h1m-65 1h1m10 0h1m2 0h1m40 0h1m3 0h1m1 0h1m1 0h1m1 0h1m-66 1h2m7 0h2m1 0h1m42 0h2m2 0h2m1 0h1m-62 1h1m1 0h1m4 0h2m2 0h1m47 0h2m-75 1h1m13 0h2m6 0h5m50 0h1m-78 1h1m14 0h1m5 0h2m1 0h1m44 0h1m1 0h2m4 0h1m-50 1h2m41 0h2m4 0h1m1 0h1m-66 1h2m1 0h2m2 0h1m47 0h5m2 0h2m1 0h1m-70 1h2m3 0h1m1 0h1m3 0h1m50 0h1m1 0h1m-65 1h1m3 0h3m2 0h2m2 0h1m48 0h4m-72 1h1m5 0h2m1 0h1m1 0h3m1 0h6m46 0h2m1 0h1m-72 1h1m1 0h1m8 0h2m55 0h1m-68 1h1m9 0h2m6 0h2m45 0h4m-72 1h1m12 0h2m3 0h1m2 0h2m44 0h1m1 0h1m-70 1h2m10 0h1m1 0h1m2 0h2m50 0h3m3 0h2m-65 1h1m2 0h2m1 0h1m50 0h1m-71 1h1m13 0h2m1 0h2m1 0h1m1 0h1m48 0h1m4 0h1m-82 1h2m3 0h1m13 0h1m1 0h1m1 0h2m44 0h2m7 0h1m-59 1h2m47 0h2m1 0h3m2 0h1m1 0h1m-63 1h1m51 0h1m2 0h1m5 0h1m-70 1h1m7 0h1m5 0h2m43 0h1m1 0h1m1 0h2m2 0h2m-69 1h2m5 0h3m4 0h2m5 0h1m35 0h3m1 0h1m4 0h1m1 0h1m-69 1h3m3 0h1m1 0h3m1 0h1m1 0h1m42 0h2m1 0h1m2 0h1m3 0h2m5 0h1m-74 1h2m4 0h1m3 0h3m43 0h2m5 0h1m-63 1h1m6 0h1m3 0h1m46 0h2m2 0h1m1 0h2m-66 1h2m4 0h1m1 0h1m45 0h6m3 0h1m-56 1h1m2 0h1m1 0h1m41 0h1m3 0h1m4 0h3m-57 1h1m43 0h1m6 0h2m1 0h1m1 0h1m-65 1h2m5 0h1m11 0h1m30 0h2m1 0h1m2 0h1m2 0h2m-60 1h1m1 0h2m7 0h1m34 0h2m2 0h1m2 0h2m-53 1h1m3 0h1m1 0h2m1 0h1m35 0h1m2 0h1m7 0h1m1 0h1m-70 1h2m9 0h1m1 0h1m1 0h1m1 0h2m1 0h1m36 0h2m1 0h1m5 0h5m-68 1h1m5 0h1m2 0h6m1 0h2m8 0h1m23 0h1m2 0h1m10 0h1m-66 1h1m12 0h3m2 0h1m5 0h1m1 0h2m15 0h2m6 0h1m3 0h2m7 0h1m1 0h1m-66 1h1m8 0h1m2 0h1m3 0h1m3 0h1m2 0h4m7 0h1m11 0h1m6 0h3m8 0h1m-55 1h1m1 0h1m4 0h1m2 0h4m1 0h1m8 0h1m6 0h3m2 0h2m4 0h1m2 0h2m-51 1h1m1 0h1m2 0h2m4 0h1m6 0h3m8 0h1m2 0h1m1 0h1m2 0h1m3 0h2m2 0h1m3 0h3m-52 1h1m2 0h1m7 0h2m8 0h2m5 0h3m1 0h1m3 0h8m6 0h1m-50 1h2m8 0h3m5 0h2m1 0h2m2 0h4m2 0h1m3 0h2m1 0h4m14 0h1m-61 1h2m12 0h1m1 0h1m1 0h1m3 0h5m3 0h1m1 0h3m2 0h2m1 0h1m2 0h2m4 0h1m1 0h2m7 0h1m-73 1h2m10 0h2m5 0h2m1 0h1m1 0h1m1 0h4m6 0h1m5 0h1m1 0h1m4 0h1m3 0h1m1 0h2m5 0h2m-46 1h4m2 0h4m5 0h11m4 0h2m2 0h4m1 0h3m-35 1h3m1 0h1m1 0h5m3 0h1m1 0h1m1 0h1m4 0h2m9 0h1m1 0h2m-41 1h2m1 0h2m2 0h1m1 0h3m1 0h1m2 0h2m2 0h1m4 0h3m16 0h2m-58 1h1m22 0h1m2 0h1m2 0h5m4 0h2m-41 1h2m10 0h2m11 0h3m2 0h2m1 0h1m2 0h3m7 0h1m2 0h1m-38 1h1m1 0h1m4 0h1m10 0h2m1 0h1m4 0h1m7 0h1m2 0h2m8 0h1m-59 1h1m17 0h1m13 0h2m3 0h3m9 0h2m7 0h1m-20 1h1m2 0h1m2 0h1m-35 1h2m4 0h1m23 0h2m2 0h1m-41 1h1m6 0h1m2 0h2m1 0h1m-26 1h1m21 0h2m17 0h2m-43 1h1m40 0h2m-25 1h1m22 0h1m32 0h2m-19 2h1m-20 1h2m17 0h1m-48 1h2m34 0h2m12 1h1m5 0h1m-39 1h1m9 0h2m26 0h1m-29 1h2m0 1h3m-29 1h1m25 0h2m-29 1h2" stroke="rgb(224,224,224)" stroke-width="1" fill="none"/>
<path transform="translate(0,.5)" d="M0 0m496 819h1m-23 1h1m16 0h1m-17 1h1m2 0h1m3 0h1m-20 1h1m11 0h1m7 0h1m8 0h1m2 0h1m-31 1h1m11 0h2m13 0h1m2 0h1m-33 1h1m3 0h1m3 0h1m11 0h1m2 0h1m6 0h1m-37 1h1m14 0h1m14 0h1m6 0h2m-39 1h1m10 0h2m1 0h1m3 0h1m7 0h3m-20 1h2m2 0h1m1 0h2m2 0h1m3 0h1m3 0h2m4 0h1m2 0h2m-31 1h1m1 0h1m3 0h2m2 0h1m5 0h1m2 0h1m5 0h1m2 0h1m2 0h3m-41 1h1m3 0h3m2 0h4m3 0h2m9 0h1m1 0h1m1 0h1m1 0h1m5 0h1m-43 1h3m7 0h2m3 0h1m20 0h1m-35 1h1m6 0h1m8 0h3m18 0h1m-41 1h1m2 0h1m2 0h3m25 0h1m6 0h1m-42 1h1m6 0h4m1 0h1m2 0h1m18 0h1m2 0h1m5 0h1m10 0h1m-52 1h2m2 0h2m2 0h2m2 0h1m19 0h1m2 0h1m3 0h2m-44 1h1m1 0h1m5 0h1m26 0h1m3 0h1m1 0h3m7 0h1m-52 1h1m1 0h1m3 0h1m32 0h1m2 0h3m7 0h1m5 0h1m-64 1h2m4 0h5m44 0h1m-52 1h2m39 0h1m2 0h2m-57 1h1m10 0h1m5 0h1m38 0h2m-52 1h1m5 0h2m41 0h1m1 0h1m5 0h1m-56 1h1m1 0h2m1 0h2m48 0h1m-58 1h1m4 0h2m41 0h1m3 0h1m2 0h1m1 0h1m-54 1h2m2 0h1m48 0h1m-57 1h1m1 0h3m42 0h3m3 0h1m-65 1h1m5 0h1m3 0h2m1 0h2m44 0h2m-58 1h1m10 0h1m47 0h1m-70 1h1m14 0h1m2 0h3m43 0h1m3 0h2m-69 1h2m12 0h1m47 0h2m-49 1h2m2 0h1m42 0h1m1 0h1m-56 1h1m1 0h2m4 0h2m42 0h3m-54 1h1m2 0h1m1 0h4m41 0h2m4 0h2m3 0h2m-57 1h1m1 0h1m39 0h1m2 0h4m-55 1h1m6 0h1m40 0h1m3 0h1m2 0h1m-53 1h2m46 0h1m-50 1h3m3 0h2m38 0h1m1 0h2m-47 1h1m4 0h2m32 0h1m2 0h1m1 0h1m1 0h1m-53 1h2m4 0h1m5 0h1m32 0h1m6 0h2m1 0h1m1 0h1m6 0h1m-68 1h1m3 0h1m3 0h1m5 0h1m34 0h1m7 0h1m-51 1h1m6 0h1m43 0h4m-55 1h2m36 0h2m3 0h2m-44 1h1m30 0h1m8 0h1m-47 1h1m6 0h1m38 0h1m2 0h1m-44 1h3m5 0h2m23 0h1m4 0h3m1 0h1m1 0h2m6 0h1m-56 1h1m3 0h2m29 0h1m10 0h2m-49 1h3m1 0h1m1 0h1m5 0h1m22 0h2m5 0h1m-46 1h1m3 0h1m2 0h1m1 0h1m29 0h1m3 0h1m1 0h2m1 0h1m-49 1h1m3 0h1m2 0h1m1 0h1m9 0h2m4 0h1m12 0h2m1 0h1m1 0h1m-34 1h1m5 0h1m17 0h2m3 0h2m2 0h1m10 0h1m-64 1h1m9 0h2m7 0h2m1 0h1m1 0h1m15 0h2m9 0h1m1 0h1m-37 1h1m12 0h1m2 0h1m4 0h1m1 0h4m1 0h1m1 0h1m2 0h3m10 0h1m1 0h1m-55 1h1m6 0h2m4 0h1m1 0h1m3 0h1m2 0h1m1 0h1m1 0h2m1 0h1m3 0h2m2 0h1m2 0h1m-45 1h1m10 0h1m1 0h1m6 0h3m1 0h1m2 0h1m1 0h2m1 0h1m9 0h2m-44 1h1m11 0h2m4 0h2m2 0h1m1 0h3m16 0h1m6 0h1m-31 1h1m2 0h2m4 0h1m7 0h1m-27 1h1m12 0h2m1 0h1m9 0h2m7 0h1m-45 1h1m2 0h1m8 0h1m6 0h2m1 0h2m1 0h1m10 0h1m9 0h1m-9 1h1m-19 1h1m3 0h1m-9 1h1m8 0h4m-13 1h2m8 0h4m-7 1h1m-20 1h1m18 0h1m-15 4h1m-3 2h1m10 6h1m-6 2h1" stroke="rgb(191,191,191)" stroke-width="1" fill="none"/>
<path transform="translate(0,.5)" d="M0 0m475 820h1m6 0h1m-15 1h1m-1 1h1m9 0h1m12 0h1m-9 1h1m-7 1h1m-15 1h1m19 0h1m-2 1h1m-14 1h1m1 0h1m2 0h2m7 0h1m-19 1h1m1 0h2m3 0h1m2 0h1m1 0h3m-10 1h1m4 0h1m7 0h1m1 0h1m3 0h1m1 0h1m5 0h1m-37 1h1m6 0h1m5 0h1m12 0h1m-24 1h1m1 0h4m1 0h1m3 0h2m3 0h1m2 0h1m1 0h3m3 0h1m-28 1h1m3 0h1m2 0h2m3 0h2m2 0h1m4 0h1m2 0h1m1 0h4m-28 1h1m18 0h1m5 0h1m3 0h1m-34 1h2m2 0h2m17 0h2m2 0h1m2 0h1m-37 1h1m1 0h1m3 0h1m26 0h2m2 0h1m-40 1h1m1 0h3m1 0h2m26 0h1m4 0h1m4 0h1m-40 1h2m26 0h2m2 0h3m1 0h3m-42 1h1m1 0h1m41 0h1m-48 1h1m1 0h1m1 0h1m31 0h1m3 0h1m1 0h2m-42 1h1m37 0h1m1 0h1m1 0h1m-45 1h1m40 0h1m-45 1h2m4 0h1m33 0h1m-43 1h3m2 0h2m1 0h1m36 0h1m-45 1h1m3 0h1m1 0h1m-4 1h1m40 0h3m-44 1h1m41 0h1m-49 1h2m4 0h2m38 0h2m2 0h1m-47 1h1m41 0h1m-42 1h2m-7 1h2m3 0h2m38 0h1m3 0h1m-56 1h1m49 0h1m2 0h1m1 0h1m-6 1h2m4 0h1m-54 1h1m2 0h2m1 0h1m42 0h1m1 0h1m-52 1h1m5 0h1m39 0h1m9 0h1m-52 1h1m2 0h1m32 0h1m2 0h1m-40 1h1m35 0h1m2 0h1m-38 1h1m33 0h1m1 0h1m3 0h1m3 0h1m-49 1h1m48 0h2m-52 1h3m2 0h1m31 0h2m2 0h1m-35 1h1m28 0h1m2 0h1m1 0h1m8 0h1m-57 1h1m6 0h1m5 0h1m29 0h1m-36 1h1m5 0h1m18 0h1m2 0h2m4 0h1m2 0h1m4 0h2m-48 1h2m3 0h1m26 0h3m1 0h1m8 0h1m-35 1h2m9 0h1m10 0h1m1 0h1m4 0h1m-40 1h1m30 0h1m2 0h1m1 0h1m3 0h1m-37 1h1m1 0h2m23 0h2m1 0h3m-33 1h1m3 0h1m9 0h1m1 0h1m1 0h1m8 0h1m2 0h1m1 0h1m-34 1h1m1 0h1m1 0h2m3 0h2m4 0h1m3 0h1m4 0h1m4 0h1m3 0h1m-34 1h1m2 0h1m6 0h1m5 0h1m2 0h3m4 0h4m1 0h1m-40 1h2m9 0h2m6 0h1m5 0h1m1 0h1m6 0h1m4 0h1m-21 1h1m1 0h2m-14 1h1m10 0h1m1 0h1m11 0h3m-39 1h1m21 0h1m6 0h1m-1 1h1m-8 1h1m-1 1h1" stroke="rgb(158,158,158)" stroke-width="1" fill="none"/>
<path transform="translate(0,.5)" d="M0 0m494 824h2m-26 2h1m-3 1h1m22 0h1m-23 1h1m6 0h1m4 0h2m7 0h1m-27 1h2m5 0h2m4 0h1m2 0h1m-19 1h2m6 0h4m1 0h2m2 0h1m3 0h1m2 0h1m1 0h2m-25 1h1m11 0h1m1 0h1m4 0h1m5 0h1m-33 1h1m7 0h1m2 0h1m3 0h2m6 0h1m2 0h1m4 0h1m-23 1h1m1 0h1m1 0h1m5 0h1m2 0h2m4 0h1m7 0h1m-8 1h1m2 0h1m2 0h2m-41 1h1m13 0h1m17 0h2m-9 1h1m7 0h1m2 0h1m13 0h1m-26 1h1m9 0h2m-36 1h1m1 0h1m21 0h1m9 0h2m-37 1h1m1 0h1m33 0h1m3 0h1m-37 1h1m30 0h1m2 0h1m1 0h1m-39 1h1m34 0h1m-44 1h2m41 0h1m1 0h2m-6 1h3m2 0h1m-41 1h1m1 0h1m31 0h1m2 0h4m-7 1h1m3 0h1m-38 1h1m35 0h3m2 0h1m-46 1h1m2 0h1m34 0h3m3 0h1m-50 1h2m5 0h1m35 0h2m-8 1h1m8 0h1m-40 1h2m29 0h1m5 0h1m-2 1h1m4 0h1m-45 1h1m37 0h1m6 1h1m-48 1h1m1 0h2m32 0h1m-39 1h2m4 0h1m32 0h1m2 0h1m-42 1h1m2 0h1m-4 1h2m34 0h1m-37 1h1m2 0h1m1 0h1m30 0h3m-38 1h2m2 0h1m-7 1h6m28 0h1m4 0h1m-39 1h1m2 0h2m25 0h1m2 0h2m1 0h2m-37 1h1m24 0h2m5 0h1m1 0h2m-28 1h1m7 0h2m3 0h1m2 0h1m1 0h1m5 0h1m-38 1h1m1 0h1m2 0h3m1 0h1m11 0h1m10 0h1m3 0h1m1 0h1m-34 1h3m1 0h1m21 0h1m4 0h1m-31 1h1m2 0h2m4 0h2m4 0h1m8 0h2m-25 1h2m1 0h4m2 0h1m5 0h1m7 0h2m-25 1h1m2 0h1m4 0h2m1 0h1m5 0h4m3 0h2m-20 1h1m1 0h2m2 0h1m1 0h2m11 0h1m3 0h1m-35 1h2m11 0h2m3 0h1m2 0h1m8 0h1m-21 1h1m7 0h1m12 0h2m-18 1h1" stroke="rgb(128,128,128)" stroke-width="1" fill="none"/>
<path transform="translate(0,.5)" d="M0 0m481 827h2m-7 2h1m2 0h1m1 0h1m-5 1h2m1 0h3m1 0h2m-16 1h1m10 0h2m5 0h1m-24 1h1m1 0h1m2 0h1m4 0h1m3 0h1m3 0h1m2 0h1m-17 1h1m1 0h1m3 0h1m2 0h1m4 0h1m7 0h2m-25 1h1m2 0h5m3 0h2m2 0h1m-28 1h1m5 0h5m15 0h3m-24 1h1m3 0h4m5 0h2m1 0h1m7 0h1m2 0h1m-29 1h1m4 0h1m11 0h1m7 0h1m-33 1h1m4 0h3m4 0h1m13 0h2m4 0h2m3 0h2m-26 1h1m19 0h2m3 0h1m-37 1h2m2 0h1m29 0h1m-1 1h1m1 0h2m-5 1h1m-31 1h1m28 0h1m3 0h1m-33 1h1m19 0h1m8 0h2m-38 1h5m-2 1h1m33 0h1m4 0h1m-40 1h1m31 0h1m-38 1h2m1 0h1m1 0h1m25 0h2m3 0h2m2 0h1m-39 1h2m1 0h1m27 0h1m4 0h1m-40 1h1m4 0h2m1 0h1m2 0h1m21 0h1m-34 1h3m1 0h3m26 0h3m-2 1h2m-36 1h1m33 0h5m-42 1h1m4 0h1m2 0h1m27 0h1m3 0h2m-32 1h1m-9 1h1m32 0h1m3 0h1m-38 1h1m32 0h1m-35 1h1m10 0h1m-1 1h1m21 0h1m2 0h1m-26 1h2m15 0h1m2 0h1m-31 1h1m3 0h1m8 0h1m8 0h2m2 0h1m2 0h2m-30 1h3m1 0h1m14 0h1m1 0h1m5 0h3m-31 1h4m2 0h1m1 0h1m2 0h4m4 0h1m12 0h2m-39 1h1m6 0h1m4 0h1m6 0h1m4 0h2m4 0h1m5 0h1m1 0h1m-32 1h1m2 0h1m3 0h2m8 0h1m3 0h2m-20 1h2m1 0h1m2 0h1m2 0h1m1 0h2m5 0h1m-24 1h1m17 0h1m1 0h4m-10 1h3m-10 2h2m-2 1h1m11 0h1" stroke="rgb(97,97,97)" stroke-width="1" fill="none"/>
<path transform="translate(0,.5)" d="M0 0m491 828h1m-14 1h1m3 0h1m-5 2h1m10 0h1m-12 1h1m3 0h1m-9 1h1m3 0h1m3 0h1m-13 1h2m5 0h3m3 0h1m-15 1h3m1 0h4m1 0h4m-17 1h1m4 0h1m2 0h2m5 0h2m1 0h3m-24 1h4m3 0h2m3 0h4m3 0h2m-16 1h2m8 0h2m3 0h2m4 0h1m-30 1h3m4 0h1m1 0h1m12 0h3m1 0h2m4 0h1m-33 1h1m8 0h1m16 0h1m2 0h1m2 0h1m-35 1h1m10 0h1m19 0h2m-10 1h1m7 0h1m3 0h1m-36 1h2m1 0h1m19 0h2m-25 1h3m6 0h1m14 0h1m4 0h2m-28 1h1m26 0h1m1 0h3m-39 1h2m2 0h1m2 0h1m26 0h2m-34 1h1m31 0h1m-33 1h1m1 0h1m2 0h2m22 0h1m1 0h1m-32 1h1m1 0h2m1 0h2m20 0h1m4 0h2m1 0h2m-35 1h1m1 0h2m24 0h1m1 0h1m1 0h1m-37 1h1m3 0h2m27 0h3m-38 1h6m26 0h1m2 0h2m-37 1h2m1 0h2m24 0h1m2 0h1m-38 1h1m7 0h1m2 0h2m23 0h1m2 0h2m-34 1h3m2 0h1m23 0h2m2 0h1m-34 1h1m10 0h1m13 0h4m1 0h1m-31 1h1m4 0h2m12 0h1m7 0h1m-32 1h1m3 0h1m4 0h1m5 0h1m15 0h1m1 0h1m-30 1h1m1 0h2m1 0h1m6 0h1m14 0h1m4 0h1m-33 1h1m2 0h3m2 0h2m14 0h2m-31 1h1m5 0h8m1 0h2m4 0h1m-21 1h1m12 0h5m1 0h1m1 0h1m-12 1h1m6 0h1m3 0h2m1 0h1m-17 1h2m1 0h3m3 0h2m4 0h1m-18 1h3m2 0h2m1 0h5m3 0h1m-16 1h1m10 0h1m2 0h2m-12 1h2m6 0h1m-9 1h1m-1 1h2" stroke="rgb(66,66,66)" stroke-width="1" fill="none"/>
<path transform="translate(0,.5)" d="M0 0m473 833h1m1 0h1m7 0h1m-2 1h1m-11 1h1m4 0h1m4 0h1m-20 1h2m6 0h1m5 0h1m4 0h1m-16 1h2m2 0h3m6 0h1m2 0h3m-24 1h4m3 0h2m2 0h4m7 0h2m-24 1h4m3 0h2m2 0h2m1 0h5m3 0h1m-24 1h2m1 0h4m1 0h1m1 0h4m1 0h1m3 0h2m1 0h2m2 0h1m-30 1h4m2 0h4m1 0h3m8 0h2m2 0h2m1 0h1m-31 1h3m3 0h4m1 0h1m10 0h1m1 0h1m4 0h2m-26 1h1m1 0h5m4 0h1m5 0h1m2 0h1m3 0h2m-27 1h1m5 0h1m5 0h2m4 0h1m2 0h4m-28 1h2m1 0h2m10 0h1m6 0h7m-28 1h1m1 0h2m17 0h1m2 0h2m4 0h1m-33 1h1m2 0h3m2 0h1m13 0h2m1 0h5m-29 1h2m19 0h3m3 0h1m-27 1h1m2 0h1m22 0h2m-25 1h1m23 0h1m1 0h1m-30 1h3m18 0h1m-24 1h4m19 0h3m-30 1h1m2 0h5m14 0h2m2 0h1m1 0h2m-30 1h1m2 0h1m2 0h1m2 0h2m11 0h1m3 0h3m-26 1h1m2 0h6m8 0h9m-28 1h8m1 0h1m1 0h1m2 0h3m4 0h1m1 0h1m-24 1h3m3 0h2m1 0h1m4 0h4m1 0h1m1 0h5m1 0h1m-28 1h4m2 0h4m1 0h1m4 0h1m1 0h2m3 0h3m1 0h1m-28 1h1m2 0h1m2 0h3m1 0h1m1 0h7m2 0h3m1 0h1m-26 1h2m9 0h9m1 0h1m-11 1h1m1 0h2m1 0h1m2 0h2m-20 1h7m5 0h1m-10 1h1m8 0h1m-9 1h1m10 0h2m1 0h1m-12 1h1m6 0h2m-10 1h2m5 0h2" stroke="rgb(36,36,36)" stroke-width="1" fill="none"/>
<path transform="translate(0,.5)" d="M0 0m472 836h1m-2 2h2m-2 1h2m2 0h1m-13 1h1m6 0h1m4 0h1m1 0h3m2 0h1m3 0h1m-25 1h2m8 0h8m2 0h2m2 0h1m-27 1h3m4 0h1m1 0h10m3 0h4m-25 1h1m1 0h1m5 0h4m1 0h5m4 0h3m-24 1h4m2 0h5m2 0h4m-16 1h10m1 0h6m-22 1h1m4 0h17m1 0h2m2 0h2m-29 1h2m3 0h2m1 0h13m2 0h1m-20 1h17m-16 1h19m-19 1h20m-21 1h18m1 0h2m-22 1h19m-19 1h14m2 0h2m-19 1h2m2 0h11m1 0h3m-14 1h8m-11 1h1m3 0h2m3 0h4m1 0h1m-20 1h1m4 0h1m1 0h4m6 0h1m-9 1h4m1 0h1m2 0h3m-14 1h1m9 0h2m3 0h1m-16 1h2m9 0h1m-9 1h1" stroke="rgb(8,8,8)" stroke-width="1" fill="none"/>
<path d="M423.9 817.5V942.7M390.0 902.9H514.1" stroke="#555" stroke-width="0.9" fill="none"/>
<rect x="390.0" y="817.5" width="124.1" height="125.2" fill="none" stroke="#111" stroke-width="1.5"/>
<text x="428.5" y="834.2" font-size="13.80" font-weight="bold" fill="#111">98%</text>
<text x="500.0" y="937.9" font-size="10.20" text-anchor="end" fill="#111">KDR PE</text>
<path d="M500.6 934.6H508.1" stroke="#222" stroke-width="0.9"/>
<path d="M510.6 934.6l-3.4 -1.7v3.4z" fill="#222"/>
<text transform="translate(452.5,960.8) scale(1.090,1)" font-size="14.20" font-weight="bold" text-anchor="middle" fill="#111">CD34<tspan font-size="9" dy="-5">+</tspan><tspan dy="5">CD43</tspan><tspan font-size="9" dy="-5">-</tspan><tspan dy="5">KDR</tspan><tspan font-size="9" dy="-5">+</tspan></text>
<circle cx="137.0" cy="666.7" r="2.4" fill="#111"/>
<line x1="137.00" y1="666.70" x2="200.00" y2="666.70" stroke="#111" stroke-width="1.20"/>
<path d="M206.5 666.7l-7.5 -2.5v5z" fill="#111"/>
<text x="174.3" y="644.2" font-size="14.00" font-weight="bold" text-anchor="middle" fill="#111">CD34</text>
<text x="174.3" y="661.2" font-size="14.00" text-anchor="middle" fill="#111">MACS</text>
<circle cx="185.8" cy="675.4" r="5.9" fill="#fff" stroke="#222" stroke-width="1.15"/>
<path d="M182.1 675.4h7.4M185.8 671.7v7.4" stroke="#222" stroke-width="1.25"/>
<path d="M158.7 666.5C178.7 687.2 182.8 811.0 147.3 817.0" stroke="#222" stroke-width="1.1" fill="none"/>
<path d="M147.3 817.0L151.9 809.8L155.5 814.6z" fill="#111"/>
<circle cx="164.2" cy="743.3" r="5.9" fill="#fff" stroke="#222" stroke-width="1.15"/>
<path d="M160.5 743.3h7.4" stroke="#222" stroke-width="1.25"/>
<circle cx="136.5" cy="852.2" r="2.4" fill="#111"/>
<path d="M136.5 852.2H172.3V956.9H154" stroke="#222" stroke-width="1.1" fill="none"/>
<path d="M148.4 956.9l7.5 -2.5v5z" fill="#111"/>
<text x="171.9" y="830.4" font-size="14.00" font-weight="bold" text-anchor="middle" fill="#111">CD43</text>
<text x="171.9" y="847.1" font-size="14.00" text-anchor="middle" fill="#111">MACS</text>
<circle cx="163.6" cy="903.5" r="5.9" fill="#fff" stroke="#222" stroke-width="1.15"/>
<path d="M159.9 903.5h7.4M163.6 899.8v7.4" stroke="#222" stroke-width="1.25"/>
<circle cx="324.5" cy="666.7" r="2.4" fill="#111"/>
<line x1="324.50" y1="666.70" x2="382.00" y2="666.70" stroke="#111" stroke-width="1.20"/>
<path d="M388.0 666.7l-7.5 -2.5v5z" fill="#111"/>
<text x="358.7" y="644.2" font-size="14.00" font-weight="bold" text-anchor="middle" fill="#111">CD43</text>
<text x="358.7" y="661.2" font-size="14.00" text-anchor="middle" fill="#111">MACS</text>
<circle cx="369.0" cy="675.4" r="5.9" fill="#fff" stroke="#222" stroke-width="1.15"/>
<path d="M365.3 675.4h7.4M369.0 671.7v7.4" stroke="#222" stroke-width="1.25"/>
<path d="M343.7 666.5C354.4 658.9 377.1 798.0 333.1 817.0" stroke="#222" stroke-width="1.1" fill="none"/>
<path d="M333.1 817.0L337.7 809.8L341.3 814.6z" fill="#111"/>
<circle cx="349.2" cy="738.1" r="5.9" fill="#fff" stroke="#222" stroke-width="1.15"/>
<path d="M345.5 738.1h7.4" stroke="#222" stroke-width="1.25"/>
<circle cx="323.5" cy="854.4" r="2.4" fill="#111"/>
<line x1="323.50" y1="854.40" x2="382.00" y2="854.40" stroke="#111" stroke-width="1.20"/>
<path d="M388.5 854.4l-7.5 -2.5v5z" fill="#111"/>
<text x="357.8" y="831.3" font-size="14.00" font-weight="bold" text-anchor="middle" fill="#111">KDR</text>
<text x="357.8" y="848.1" font-size="14.00" text-anchor="middle" fill="#111">MACS</text>
<circle cx="372.3" cy="863.1" r="5.9" fill="#fff" stroke="#222" stroke-width="1.15"/>
<path d="M368.6 863.1h7.4M372.3 859.4v7.4" stroke="#222" stroke-width="1.25"/>
<path d="M343.7 854.0C365.0 867.4 369.2 959.1 334.3 968.1" stroke="#222" stroke-width="1.1" fill="none"/>
<path d="M334.3 968.1L339.9 961.7L342.8 966.9z" fill="#111"/>
<circle cx="350.8" cy="908.8" r="5.9" fill="#fff" stroke="#222" stroke-width="1.15"/>
<path d="M347.1 908.8h7.4" stroke="#222" stroke-width="1.25"/>
<path d="M6.9 637V762.2M6.9 891.5V1024.9" stroke="#222" stroke-width="1.1"/>
<path d="M6.9 631.2l-2.6 7.5h5.2z" fill="#111"/>
<text transform="translate(11.4,828.4) rotate(-90)" font-size="13.9" text-anchor="middle" fill="#111">CD34 PerCP-Cy5.5</text>
</svg>
</body></html>
